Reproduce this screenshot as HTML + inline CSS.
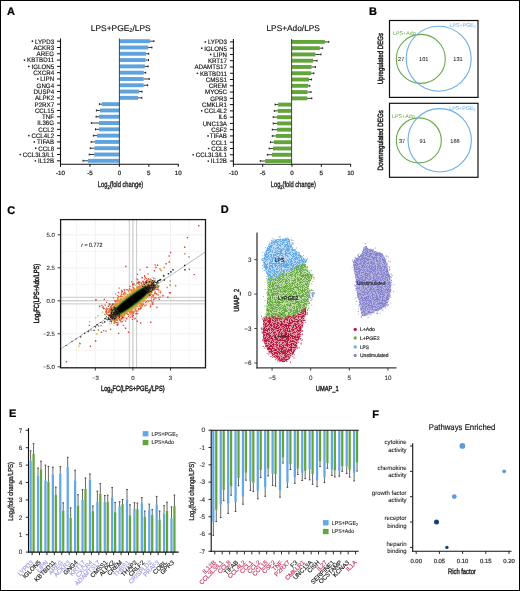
<!DOCTYPE html>
<html><head><meta charset="utf-8"><style>
html,body{margin:0;padding:0;background:#fff;}
svg{display:block;will-change:transform;}
text{font-family:"Liberation Sans", sans-serif;text-rendering:geometricPrecision;}
</style></head><body>
<svg width="520" height="591" viewBox="0 0 520 591">
<defs>
<filter id="soft" x="-20%" y="-20%" width="140%" height="140%"><feGaussianBlur stdDeviation="0.6"/></filter>
<filter id="speck" x="-5%" y="-5%" width="110%" height="110%"><feTurbulence type="fractalNoise" baseFrequency="1.6" numOctaves="1" seed="3" result="n"/><feColorMatrix in="n" type="matrix" values="0 0 0 0 0  0 0 0 0 0  0 0 0 0 0  0 0 0 -10 5.6" result="m"/><feComposite in="SourceGraphic" in2="m" operator="in"/></filter>
</defs>
<rect x="0" y="0" width="520" height="591" fill="#fff"/>
<text x="7.00" y="14.60" font-size="11" stroke="#000" stroke-width="0.22" font-weight="bold">A</text>
<text x="369.00" y="14.80" font-size="11" stroke="#000" stroke-width="0.22" font-weight="bold">B</text>
<text x="7.20" y="213.70" font-size="11" stroke="#000" stroke-width="0.22" font-weight="bold">C</text>
<text x="220.80" y="213.20" font-size="11" stroke="#000" stroke-width="0.22" font-weight="bold">D</text>
<text x="9.10" y="416.90" font-size="11" stroke="#000" stroke-width="0.22" font-weight="bold">E</text>
<text x="372.20" y="417.80" font-size="11" stroke="#000" stroke-width="0.22" font-weight="bold">F</text>
<text x="90.8" y="30.6" font-size="8.4" textLength="59.9" lengthAdjust="spacingAndGlyphs" fill="#111" stroke="#111" stroke-width="0.15">LPS+PGE<tspan font-size="5.5" dy="1.8">2</tspan><tspan dy="-1.8">/LPS</tspan></text>
<rect x="119.40" y="39.25" width="30.50" height="3.90" fill="#5ea3dd"/>
<line x1="149.90" y1="41.20" x2="153.90" y2="41.20" stroke="#222" stroke-width="0.9"/>
<line x1="153.90" y1="40.20" x2="153.90" y2="42.20" stroke="#222" stroke-width="1.0"/>
<rect x="119.40" y="45.55" width="28.80" height="3.90" fill="#5ea3dd"/>
<line x1="148.20" y1="47.50" x2="151.90" y2="47.50" stroke="#222" stroke-width="0.9"/>
<line x1="151.90" y1="46.50" x2="151.90" y2="48.50" stroke="#222" stroke-width="1.0"/>
<rect x="119.40" y="51.84" width="26.50" height="3.90" fill="#5ea3dd"/>
<line x1="145.90" y1="53.79" x2="148.70" y2="53.79" stroke="#222" stroke-width="0.9"/>
<line x1="148.70" y1="52.79" x2="148.70" y2="54.79" stroke="#222" stroke-width="1.0"/>
<rect x="119.40" y="58.13" width="26.10" height="3.90" fill="#5ea3dd"/>
<line x1="145.50" y1="60.09" x2="148.50" y2="60.09" stroke="#222" stroke-width="0.9"/>
<line x1="148.50" y1="59.09" x2="148.50" y2="61.09" stroke="#222" stroke-width="1.0"/>
<rect x="119.40" y="64.43" width="25.50" height="3.90" fill="#5ea3dd"/>
<line x1="144.90" y1="66.38" x2="148.10" y2="66.38" stroke="#222" stroke-width="0.9"/>
<line x1="148.10" y1="65.38" x2="148.10" y2="67.38" stroke="#222" stroke-width="1.0"/>
<rect x="119.40" y="70.73" width="24.40" height="3.90" fill="#5ea3dd"/>
<line x1="143.80" y1="72.68" x2="145.80" y2="72.68" stroke="#222" stroke-width="0.9"/>
<line x1="145.80" y1="71.68" x2="145.80" y2="73.68" stroke="#222" stroke-width="1.0"/>
<rect x="119.40" y="77.02" width="24.20" height="3.90" fill="#5ea3dd"/>
<line x1="143.60" y1="78.97" x2="149.20" y2="78.97" stroke="#222" stroke-width="0.9"/>
<line x1="149.20" y1="77.97" x2="149.20" y2="79.97" stroke="#222" stroke-width="1.0"/>
<rect x="119.40" y="83.31" width="24.20" height="3.90" fill="#5ea3dd"/>
<line x1="143.60" y1="85.27" x2="147.70" y2="85.27" stroke="#222" stroke-width="0.9"/>
<line x1="147.70" y1="84.27" x2="147.70" y2="86.27" stroke="#222" stroke-width="1.0"/>
<rect x="119.40" y="89.61" width="19.70" height="3.90" fill="#5ea3dd"/>
<line x1="139.10" y1="91.56" x2="142.00" y2="91.56" stroke="#222" stroke-width="0.9"/>
<line x1="142.00" y1="90.56" x2="142.00" y2="92.56" stroke="#222" stroke-width="1.0"/>
<rect x="119.40" y="95.91" width="18.60" height="3.90" fill="#5ea3dd"/>
<line x1="138.00" y1="97.86" x2="141.80" y2="97.86" stroke="#222" stroke-width="0.9"/>
<line x1="141.80" y1="96.86" x2="141.80" y2="98.86" stroke="#222" stroke-width="1.0"/>
<rect x="101.80" y="102.20" width="17.60" height="3.90" fill="#5ea3dd"/>
<line x1="101.80" y1="104.15" x2="99.40" y2="104.15" stroke="#222" stroke-width="0.9"/>
<line x1="99.40" y1="103.15" x2="99.40" y2="105.15" stroke="#222" stroke-width="1.0"/>
<rect x="100.00" y="108.50" width="19.40" height="3.90" fill="#5ea3dd"/>
<line x1="100.00" y1="110.45" x2="96.40" y2="110.45" stroke="#222" stroke-width="0.9"/>
<line x1="96.40" y1="109.45" x2="96.40" y2="111.45" stroke="#222" stroke-width="1.0"/>
<rect x="99.00" y="114.79" width="20.40" height="3.90" fill="#5ea3dd"/>
<line x1="99.00" y1="116.74" x2="96.10" y2="116.74" stroke="#222" stroke-width="0.9"/>
<line x1="96.10" y1="115.74" x2="96.10" y2="117.74" stroke="#222" stroke-width="1.0"/>
<rect x="99.00" y="121.08" width="20.40" height="3.90" fill="#5ea3dd"/>
<line x1="99.00" y1="123.03" x2="91.40" y2="123.03" stroke="#222" stroke-width="0.9"/>
<line x1="91.40" y1="122.03" x2="91.40" y2="124.03" stroke="#222" stroke-width="1.0"/>
<rect x="99.00" y="127.38" width="20.40" height="3.90" fill="#5ea3dd"/>
<line x1="99.00" y1="129.33" x2="95.50" y2="129.33" stroke="#222" stroke-width="0.9"/>
<line x1="95.50" y1="128.33" x2="95.50" y2="130.33" stroke="#222" stroke-width="1.0"/>
<rect x="97.00" y="133.68" width="22.40" height="3.90" fill="#5ea3dd"/>
<line x1="97.00" y1="135.62" x2="93.40" y2="135.62" stroke="#222" stroke-width="0.9"/>
<line x1="93.40" y1="134.62" x2="93.40" y2="136.62" stroke="#222" stroke-width="1.0"/>
<rect x="95.10" y="139.97" width="24.30" height="3.90" fill="#5ea3dd"/>
<line x1="95.10" y1="141.92" x2="91.20" y2="141.92" stroke="#222" stroke-width="0.9"/>
<line x1="91.20" y1="140.92" x2="91.20" y2="142.92" stroke="#222" stroke-width="1.0"/>
<rect x="94.40" y="146.27" width="25.00" height="3.90" fill="#5ea3dd"/>
<line x1="94.40" y1="148.22" x2="90.30" y2="148.22" stroke="#222" stroke-width="0.9"/>
<line x1="90.30" y1="147.22" x2="90.30" y2="149.22" stroke="#222" stroke-width="1.0"/>
<rect x="94.20" y="152.56" width="25.20" height="3.90" fill="#5ea3dd"/>
<line x1="94.20" y1="154.51" x2="89.20" y2="154.51" stroke="#222" stroke-width="0.9"/>
<line x1="89.20" y1="153.51" x2="89.20" y2="155.51" stroke="#222" stroke-width="1.0"/>
<rect x="88.00" y="158.86" width="31.40" height="3.90" fill="#5ea3dd"/>
<line x1="88.00" y1="160.81" x2="83.00" y2="160.81" stroke="#222" stroke-width="0.9"/>
<line x1="83.00" y1="159.81" x2="83.00" y2="161.81" stroke="#222" stroke-width="1.0"/>
<line x1="119.40" y1="38.50" x2="119.40" y2="164.20" stroke="#333" stroke-width="0.9"/>
<line x1="60.50" y1="38.50" x2="60.50" y2="164.70" stroke="#111" stroke-width="1.1"/>
<line x1="57.00" y1="41.20" x2="60.50" y2="41.20" stroke="#111" stroke-width="1.0"/>
<line x1="57.00" y1="47.50" x2="60.50" y2="47.50" stroke="#111" stroke-width="1.0"/>
<line x1="57.00" y1="53.79" x2="60.50" y2="53.79" stroke="#111" stroke-width="1.0"/>
<line x1="57.00" y1="60.09" x2="60.50" y2="60.09" stroke="#111" stroke-width="1.0"/>
<line x1="57.00" y1="66.38" x2="60.50" y2="66.38" stroke="#111" stroke-width="1.0"/>
<line x1="57.00" y1="72.68" x2="60.50" y2="72.68" stroke="#111" stroke-width="1.0"/>
<line x1="57.00" y1="78.97" x2="60.50" y2="78.97" stroke="#111" stroke-width="1.0"/>
<line x1="57.00" y1="85.27" x2="60.50" y2="85.27" stroke="#111" stroke-width="1.0"/>
<line x1="57.00" y1="91.56" x2="60.50" y2="91.56" stroke="#111" stroke-width="1.0"/>
<line x1="57.00" y1="97.86" x2="60.50" y2="97.86" stroke="#111" stroke-width="1.0"/>
<line x1="57.00" y1="104.15" x2="60.50" y2="104.15" stroke="#111" stroke-width="1.0"/>
<line x1="57.00" y1="110.45" x2="60.50" y2="110.45" stroke="#111" stroke-width="1.0"/>
<line x1="57.00" y1="116.74" x2="60.50" y2="116.74" stroke="#111" stroke-width="1.0"/>
<line x1="57.00" y1="123.03" x2="60.50" y2="123.03" stroke="#111" stroke-width="1.0"/>
<line x1="57.00" y1="129.33" x2="60.50" y2="129.33" stroke="#111" stroke-width="1.0"/>
<line x1="57.00" y1="135.62" x2="60.50" y2="135.62" stroke="#111" stroke-width="1.0"/>
<line x1="57.00" y1="141.92" x2="60.50" y2="141.92" stroke="#111" stroke-width="1.0"/>
<line x1="57.00" y1="148.22" x2="60.50" y2="148.22" stroke="#111" stroke-width="1.0"/>
<line x1="57.00" y1="154.51" x2="60.50" y2="154.51" stroke="#111" stroke-width="1.0"/>
<line x1="57.00" y1="160.81" x2="60.50" y2="160.81" stroke="#111" stroke-width="1.0"/>
<line x1="60.50" y1="164.20" x2="178.80" y2="164.20" stroke="#111" stroke-width="1.1"/>
<line x1="60.50" y1="164.20" x2="60.50" y2="166.80" stroke="#111" stroke-width="1.0"/>
<text x="60.50" y="175.20" font-size="6.2" stroke="#222" stroke-width="0.22" text-anchor="middle" fill="#222">-10</text>
<line x1="89.95" y1="164.20" x2="89.95" y2="166.80" stroke="#111" stroke-width="1.0"/>
<text x="89.95" y="175.20" font-size="6.2" stroke="#222" stroke-width="0.22" text-anchor="middle" fill="#222">-5</text>
<line x1="119.40" y1="164.20" x2="119.40" y2="166.80" stroke="#111" stroke-width="1.0"/>
<text x="119.40" y="175.20" font-size="6.2" stroke="#222" stroke-width="0.22" text-anchor="middle" fill="#222">0</text>
<line x1="148.85" y1="164.20" x2="148.85" y2="166.80" stroke="#111" stroke-width="1.0"/>
<text x="148.85" y="175.20" font-size="6.2" stroke="#222" stroke-width="0.22" text-anchor="middle" fill="#222">5</text>
<line x1="178.30" y1="164.20" x2="178.30" y2="166.80" stroke="#111" stroke-width="1.0"/>
<text x="178.30" y="175.20" font-size="6.2" stroke="#222" stroke-width="0.22" text-anchor="middle" fill="#222">10</text>
<text x="54.10" y="43.55" font-size="6.5" stroke="#111" stroke-width="0.14" text-anchor="end" fill="#111" textLength="19.11" lengthAdjust="spacingAndGlyphs">LYPD3</text>
<circle cx="32.39" cy="41.20" r="0.85" fill="#222"/>
<text x="54.10" y="49.85" font-size="6.5" stroke="#111" stroke-width="0.14" text-anchor="end" fill="#111" textLength="20.59" lengthAdjust="spacingAndGlyphs">ACKR3</text>
<text x="54.10" y="56.14" font-size="6.5" stroke="#111" stroke-width="0.14" text-anchor="end" fill="#111" textLength="17.50" lengthAdjust="spacingAndGlyphs">AREG</text>
<text x="54.10" y="62.44" font-size="6.5" stroke="#111" stroke-width="0.14" text-anchor="end" fill="#111" textLength="27.00" lengthAdjust="spacingAndGlyphs">KBTBD11</text>
<circle cx="24.50" cy="60.09" r="0.85" fill="#222"/>
<text x="54.10" y="68.73" font-size="6.5" stroke="#111" stroke-width="0.14" text-anchor="end" fill="#111" textLength="22.65" lengthAdjust="spacingAndGlyphs">IGLON5</text>
<circle cx="28.85" cy="66.38" r="0.85" fill="#222"/>
<text x="54.10" y="75.03" font-size="6.5" stroke="#111" stroke-width="0.14" text-anchor="end" fill="#111" textLength="20.93" lengthAdjust="spacingAndGlyphs">CXCR4</text>
<text x="54.10" y="81.32" font-size="6.5" stroke="#111" stroke-width="0.14" text-anchor="end" fill="#111" textLength="13.73" lengthAdjust="spacingAndGlyphs">LIPN</text>
<circle cx="37.77" cy="78.97" r="0.85" fill="#222"/>
<text x="54.10" y="87.61" font-size="6.5" stroke="#111" stroke-width="0.14" text-anchor="end" fill="#111" textLength="17.50" lengthAdjust="spacingAndGlyphs">GNG4</text>
<text x="54.10" y="93.91" font-size="6.5" stroke="#111" stroke-width="0.14" text-anchor="end" fill="#111" textLength="20.59" lengthAdjust="spacingAndGlyphs">DUSP4</text>
<text x="54.10" y="100.20" font-size="6.5" stroke="#111" stroke-width="0.14" text-anchor="end" fill="#111" textLength="19.22" lengthAdjust="spacingAndGlyphs">ALPK2</text>
<text x="54.10" y="106.50" font-size="6.5" stroke="#111" stroke-width="0.14" text-anchor="end" fill="#111" textLength="19.57" lengthAdjust="spacingAndGlyphs">P2RX7</text>
<text x="54.10" y="112.80" font-size="6.5" stroke="#111" stroke-width="0.14" text-anchor="end" fill="#111" textLength="19.22" lengthAdjust="spacingAndGlyphs">CCL15</text>
<text x="54.10" y="119.09" font-size="6.5" stroke="#111" stroke-width="0.14" text-anchor="end" fill="#111" textLength="12.00" lengthAdjust="spacingAndGlyphs">TNF</text>
<text x="54.10" y="125.38" font-size="6.5" stroke="#111" stroke-width="0.14" text-anchor="end" fill="#111" textLength="16.82" lengthAdjust="spacingAndGlyphs">IL36G</text>
<text x="54.10" y="131.68" font-size="6.5" stroke="#111" stroke-width="0.14" text-anchor="end" fill="#111" textLength="15.79" lengthAdjust="spacingAndGlyphs">CCL2</text>
<text x="54.10" y="137.97" font-size="6.5" stroke="#111" stroke-width="0.14" text-anchor="end" fill="#111" textLength="22.65" lengthAdjust="spacingAndGlyphs">CCL4L2</text>
<circle cx="28.85" cy="135.62" r="0.85" fill="#222"/>
<text x="54.10" y="144.27" font-size="6.5" stroke="#111" stroke-width="0.14" text-anchor="end" fill="#111" textLength="17.16" lengthAdjust="spacingAndGlyphs">TIFAB</text>
<circle cx="34.34" cy="141.92" r="0.85" fill="#222"/>
<text x="54.10" y="150.56" font-size="6.5" stroke="#111" stroke-width="0.14" text-anchor="end" fill="#111" textLength="15.79" lengthAdjust="spacingAndGlyphs">CCL8</text>
<circle cx="35.71" cy="148.22" r="0.85" fill="#222"/>
<text x="54.10" y="156.86" font-size="6.5" stroke="#111" stroke-width="0.14" text-anchor="end" fill="#111" textLength="31.24" lengthAdjust="spacingAndGlyphs">CCL3L3/L1</text>
<circle cx="20.26" cy="154.51" r="0.85" fill="#222"/>
<text x="54.10" y="163.16" font-size="6.5" stroke="#111" stroke-width="0.14" text-anchor="end" fill="#111" textLength="16.14" lengthAdjust="spacingAndGlyphs">IL12B</text>
<circle cx="35.36" cy="160.81" r="0.85" fill="#222"/>
<text x="97.80" y="186.9" font-size="8" stroke="#222" stroke-width="0.35" textLength="45.50" lengthAdjust="spacingAndGlyphs" fill="#222">Log<tspan font-size="5.5" dy="1.6">2</tspan><tspan dy="-1.6">(fold change)</tspan></text>
<text x="266.5" y="30.6" font-size="8.4" textLength="53.4" lengthAdjust="spacingAndGlyphs" fill="#111" stroke="#111" stroke-width="0.15">LPS+Ado/LPS</text>
<rect x="291.60" y="39.95" width="33.30" height="3.90" fill="#62a63b"/>
<line x1="324.90" y1="41.90" x2="328.80" y2="41.90" stroke="#222" stroke-width="0.9"/>
<line x1="328.80" y1="40.90" x2="328.80" y2="42.90" stroke="#222" stroke-width="1.0"/>
<rect x="291.60" y="46.22" width="28.20" height="3.90" fill="#62a63b"/>
<line x1="319.80" y1="48.17" x2="322.70" y2="48.17" stroke="#222" stroke-width="0.9"/>
<line x1="322.70" y1="47.17" x2="322.70" y2="49.17" stroke="#222" stroke-width="1.0"/>
<rect x="291.60" y="52.49" width="23.80" height="3.90" fill="#62a63b"/>
<line x1="315.40" y1="54.44" x2="321.00" y2="54.44" stroke="#222" stroke-width="0.9"/>
<line x1="321.00" y1="53.44" x2="321.00" y2="55.44" stroke="#222" stroke-width="1.0"/>
<rect x="291.60" y="58.76" width="21.50" height="3.90" fill="#62a63b"/>
<line x1="313.10" y1="60.71" x2="317.00" y2="60.71" stroke="#222" stroke-width="0.9"/>
<line x1="317.00" y1="59.71" x2="317.00" y2="61.71" stroke="#222" stroke-width="1.0"/>
<rect x="291.60" y="65.03" width="20.00" height="3.90" fill="#62a63b"/>
<line x1="311.60" y1="66.98" x2="315.40" y2="66.98" stroke="#222" stroke-width="0.9"/>
<line x1="315.40" y1="65.98" x2="315.40" y2="67.98" stroke="#222" stroke-width="1.0"/>
<rect x="291.60" y="71.30" width="19.60" height="3.90" fill="#62a63b"/>
<line x1="311.20" y1="73.25" x2="313.80" y2="73.25" stroke="#222" stroke-width="0.9"/>
<line x1="313.80" y1="72.25" x2="313.80" y2="74.25" stroke="#222" stroke-width="1.0"/>
<rect x="291.60" y="77.57" width="17.40" height="3.90" fill="#62a63b"/>
<line x1="309.00" y1="79.52" x2="311.60" y2="79.52" stroke="#222" stroke-width="0.9"/>
<line x1="311.60" y1="78.52" x2="311.60" y2="80.52" stroke="#222" stroke-width="1.0"/>
<rect x="291.60" y="83.84" width="16.50" height="3.90" fill="#62a63b"/>
<line x1="308.10" y1="85.79" x2="309.80" y2="85.79" stroke="#222" stroke-width="0.9"/>
<line x1="309.80" y1="84.79" x2="309.80" y2="86.79" stroke="#222" stroke-width="1.0"/>
<rect x="291.60" y="90.11" width="16.00" height="3.90" fill="#62a63b"/>
<line x1="307.60" y1="92.06" x2="311.00" y2="92.06" stroke="#222" stroke-width="0.9"/>
<line x1="311.00" y1="91.06" x2="311.00" y2="93.06" stroke="#222" stroke-width="1.0"/>
<rect x="291.60" y="96.38" width="15.70" height="3.90" fill="#62a63b"/>
<line x1="307.30" y1="98.33" x2="311.80" y2="98.33" stroke="#222" stroke-width="0.9"/>
<line x1="311.80" y1="97.33" x2="311.80" y2="99.33" stroke="#222" stroke-width="1.0"/>
<rect x="278.10" y="102.65" width="13.50" height="3.90" fill="#62a63b"/>
<line x1="278.10" y1="104.60" x2="275.10" y2="104.60" stroke="#222" stroke-width="0.9"/>
<line x1="275.10" y1="103.60" x2="275.10" y2="105.60" stroke="#222" stroke-width="1.0"/>
<rect x="277.60" y="108.92" width="14.00" height="3.90" fill="#62a63b"/>
<line x1="277.60" y1="110.87" x2="274.30" y2="110.87" stroke="#222" stroke-width="0.9"/>
<line x1="274.30" y1="109.87" x2="274.30" y2="111.87" stroke="#222" stroke-width="1.0"/>
<rect x="277.10" y="115.19" width="14.50" height="3.90" fill="#62a63b"/>
<line x1="277.10" y1="117.14" x2="273.20" y2="117.14" stroke="#222" stroke-width="0.9"/>
<line x1="273.20" y1="116.14" x2="273.20" y2="118.14" stroke="#222" stroke-width="1.0"/>
<rect x="277.10" y="121.46" width="14.50" height="3.90" fill="#62a63b"/>
<line x1="277.10" y1="123.41" x2="273.20" y2="123.41" stroke="#222" stroke-width="0.9"/>
<line x1="273.20" y1="122.41" x2="273.20" y2="124.41" stroke="#222" stroke-width="1.0"/>
<rect x="277.00" y="127.73" width="14.60" height="3.90" fill="#62a63b"/>
<line x1="277.00" y1="129.68" x2="272.30" y2="129.68" stroke="#222" stroke-width="0.9"/>
<line x1="272.30" y1="128.68" x2="272.30" y2="130.68" stroke="#222" stroke-width="1.0"/>
<rect x="275.90" y="134.00" width="15.70" height="3.90" fill="#62a63b"/>
<line x1="275.90" y1="135.95" x2="272.30" y2="135.95" stroke="#222" stroke-width="0.9"/>
<line x1="272.30" y1="134.95" x2="272.30" y2="136.95" stroke="#222" stroke-width="1.0"/>
<rect x="274.00" y="140.27" width="17.60" height="3.90" fill="#62a63b"/>
<line x1="274.00" y1="142.22" x2="270.40" y2="142.22" stroke="#222" stroke-width="0.9"/>
<line x1="270.40" y1="141.22" x2="270.40" y2="143.22" stroke="#222" stroke-width="1.0"/>
<rect x="272.90" y="146.54" width="18.70" height="3.90" fill="#62a63b"/>
<line x1="272.90" y1="148.49" x2="269.20" y2="148.49" stroke="#222" stroke-width="0.9"/>
<line x1="269.20" y1="147.49" x2="269.20" y2="149.49" stroke="#222" stroke-width="1.0"/>
<rect x="272.00" y="152.81" width="19.60" height="3.90" fill="#62a63b"/>
<line x1="272.00" y1="154.76" x2="267.30" y2="154.76" stroke="#222" stroke-width="0.9"/>
<line x1="267.30" y1="153.76" x2="267.30" y2="155.76" stroke="#222" stroke-width="1.0"/>
<rect x="265.10" y="159.08" width="26.50" height="3.90" fill="#62a63b"/>
<line x1="265.10" y1="161.03" x2="260.30" y2="161.03" stroke="#222" stroke-width="0.9"/>
<line x1="260.30" y1="160.03" x2="260.30" y2="162.03" stroke="#222" stroke-width="1.0"/>
<line x1="291.60" y1="39.00" x2="291.60" y2="164.20" stroke="#333" stroke-width="0.9"/>
<line x1="233.40" y1="39.00" x2="233.40" y2="164.70" stroke="#111" stroke-width="1.1"/>
<line x1="229.90" y1="41.90" x2="233.40" y2="41.90" stroke="#111" stroke-width="1.0"/>
<line x1="229.90" y1="48.17" x2="233.40" y2="48.17" stroke="#111" stroke-width="1.0"/>
<line x1="229.90" y1="54.44" x2="233.40" y2="54.44" stroke="#111" stroke-width="1.0"/>
<line x1="229.90" y1="60.71" x2="233.40" y2="60.71" stroke="#111" stroke-width="1.0"/>
<line x1="229.90" y1="66.98" x2="233.40" y2="66.98" stroke="#111" stroke-width="1.0"/>
<line x1="229.90" y1="73.25" x2="233.40" y2="73.25" stroke="#111" stroke-width="1.0"/>
<line x1="229.90" y1="79.52" x2="233.40" y2="79.52" stroke="#111" stroke-width="1.0"/>
<line x1="229.90" y1="85.79" x2="233.40" y2="85.79" stroke="#111" stroke-width="1.0"/>
<line x1="229.90" y1="92.06" x2="233.40" y2="92.06" stroke="#111" stroke-width="1.0"/>
<line x1="229.90" y1="98.33" x2="233.40" y2="98.33" stroke="#111" stroke-width="1.0"/>
<line x1="229.90" y1="104.60" x2="233.40" y2="104.60" stroke="#111" stroke-width="1.0"/>
<line x1="229.90" y1="110.87" x2="233.40" y2="110.87" stroke="#111" stroke-width="1.0"/>
<line x1="229.90" y1="117.14" x2="233.40" y2="117.14" stroke="#111" stroke-width="1.0"/>
<line x1="229.90" y1="123.41" x2="233.40" y2="123.41" stroke="#111" stroke-width="1.0"/>
<line x1="229.90" y1="129.68" x2="233.40" y2="129.68" stroke="#111" stroke-width="1.0"/>
<line x1="229.90" y1="135.95" x2="233.40" y2="135.95" stroke="#111" stroke-width="1.0"/>
<line x1="229.90" y1="142.22" x2="233.40" y2="142.22" stroke="#111" stroke-width="1.0"/>
<line x1="229.90" y1="148.49" x2="233.40" y2="148.49" stroke="#111" stroke-width="1.0"/>
<line x1="229.90" y1="154.76" x2="233.40" y2="154.76" stroke="#111" stroke-width="1.0"/>
<line x1="229.90" y1="161.03" x2="233.40" y2="161.03" stroke="#111" stroke-width="1.0"/>
<line x1="233.40" y1="164.20" x2="351.10" y2="164.20" stroke="#111" stroke-width="1.1"/>
<line x1="233.40" y1="164.20" x2="233.40" y2="166.80" stroke="#111" stroke-width="1.0"/>
<text x="233.40" y="175.20" font-size="6.2" stroke="#222" stroke-width="0.22" text-anchor="middle" fill="#222">-10</text>
<line x1="262.70" y1="164.20" x2="262.70" y2="166.80" stroke="#111" stroke-width="1.0"/>
<text x="262.70" y="175.20" font-size="6.2" stroke="#222" stroke-width="0.22" text-anchor="middle" fill="#222">-5</text>
<line x1="292.00" y1="164.20" x2="292.00" y2="166.80" stroke="#111" stroke-width="1.0"/>
<text x="292.00" y="175.20" font-size="6.2" stroke="#222" stroke-width="0.22" text-anchor="middle" fill="#222">0</text>
<line x1="321.30" y1="164.20" x2="321.30" y2="166.80" stroke="#111" stroke-width="1.0"/>
<text x="321.30" y="175.20" font-size="6.2" stroke="#222" stroke-width="0.22" text-anchor="middle" fill="#222">5</text>
<line x1="350.60" y1="164.20" x2="350.60" y2="166.80" stroke="#111" stroke-width="1.0"/>
<text x="350.60" y="175.20" font-size="6.2" stroke="#222" stroke-width="0.22" text-anchor="middle" fill="#222">10</text>
<text x="227.00" y="44.25" font-size="6.5" stroke="#111" stroke-width="0.14" text-anchor="end" fill="#111" textLength="19.11" lengthAdjust="spacingAndGlyphs">LYPD3</text>
<circle cx="205.29" cy="41.90" r="0.85" fill="#222"/>
<text x="227.00" y="50.52" font-size="6.5" stroke="#111" stroke-width="0.14" text-anchor="end" fill="#111" textLength="22.65" lengthAdjust="spacingAndGlyphs">IGLON5</text>
<circle cx="201.75" cy="48.17" r="0.85" fill="#222"/>
<text x="227.00" y="56.79" font-size="6.5" stroke="#111" stroke-width="0.14" text-anchor="end" fill="#111" textLength="13.73" lengthAdjust="spacingAndGlyphs">LIPN</text>
<circle cx="210.67" cy="54.44" r="0.85" fill="#222"/>
<text x="227.00" y="63.06" font-size="6.5" stroke="#111" stroke-width="0.14" text-anchor="end" fill="#111" textLength="19.11" lengthAdjust="spacingAndGlyphs">KRT17</text>
<text x="227.00" y="69.33" font-size="6.5" stroke="#111" stroke-width="0.14" text-anchor="end" fill="#111" textLength="32.60" lengthAdjust="spacingAndGlyphs">ADAMTS17</text>
<text x="227.00" y="75.60" font-size="6.5" stroke="#111" stroke-width="0.14" text-anchor="end" fill="#111" textLength="27.00" lengthAdjust="spacingAndGlyphs">KBTBD11</text>
<circle cx="197.40" cy="73.25" r="0.85" fill="#222"/>
<text x="227.00" y="81.87" font-size="6.5" stroke="#111" stroke-width="0.14" text-anchor="end" fill="#111" textLength="21.27" lengthAdjust="spacingAndGlyphs">CMSS1</text>
<text x="227.00" y="88.14" font-size="6.5" stroke="#111" stroke-width="0.14" text-anchor="end" fill="#111" textLength="18.18" lengthAdjust="spacingAndGlyphs">CREM</text>
<text x="227.00" y="94.41" font-size="6.5" stroke="#111" stroke-width="0.14" text-anchor="end" fill="#111" textLength="21.96" lengthAdjust="spacingAndGlyphs">MYO5C</text>
<text x="227.00" y="100.68" font-size="6.5" stroke="#111" stroke-width="0.14" text-anchor="end" fill="#111" textLength="16.82" lengthAdjust="spacingAndGlyphs">GPR3</text>
<text x="227.00" y="106.95" font-size="6.5" stroke="#111" stroke-width="0.14" text-anchor="end" fill="#111" textLength="25.05" lengthAdjust="spacingAndGlyphs">CMKLR1</text>
<text x="227.00" y="113.22" font-size="6.5" stroke="#111" stroke-width="0.14" text-anchor="end" fill="#111" textLength="22.65" lengthAdjust="spacingAndGlyphs">CCL4L2</text>
<circle cx="201.75" cy="110.87" r="0.85" fill="#222"/>
<text x="227.00" y="119.49" font-size="6.5" stroke="#111" stroke-width="0.14" text-anchor="end" fill="#111" textLength="8.58" lengthAdjust="spacingAndGlyphs">IL6</text>
<text x="227.00" y="125.76" font-size="6.5" stroke="#111" stroke-width="0.14" text-anchor="end" fill="#111" textLength="24.37" lengthAdjust="spacingAndGlyphs">UNC13A</text>
<text x="227.00" y="132.03" font-size="6.5" stroke="#111" stroke-width="0.14" text-anchor="end" fill="#111" textLength="15.78" lengthAdjust="spacingAndGlyphs">CSF2</text>
<text x="227.00" y="138.30" font-size="6.5" stroke="#111" stroke-width="0.14" text-anchor="end" fill="#111" textLength="17.16" lengthAdjust="spacingAndGlyphs">TIFAB</text>
<circle cx="208.04" cy="135.95" r="0.85" fill="#222"/>
<text x="227.00" y="144.57" font-size="6.5" stroke="#111" stroke-width="0.14" text-anchor="end" fill="#111" textLength="15.79" lengthAdjust="spacingAndGlyphs">CCL1</text>
<text x="227.00" y="150.84" font-size="6.5" stroke="#111" stroke-width="0.14" text-anchor="end" fill="#111" textLength="15.79" lengthAdjust="spacingAndGlyphs">CCL8</text>
<circle cx="208.61" cy="148.49" r="0.85" fill="#222"/>
<text x="227.00" y="157.11" font-size="6.5" stroke="#111" stroke-width="0.14" text-anchor="end" fill="#111" textLength="31.24" lengthAdjust="spacingAndGlyphs">CCL3L3/L1</text>
<circle cx="193.16" cy="154.76" r="0.85" fill="#222"/>
<text x="227.00" y="163.38" font-size="6.5" stroke="#111" stroke-width="0.14" text-anchor="end" fill="#111" textLength="16.14" lengthAdjust="spacingAndGlyphs">IL12B</text>
<circle cx="208.26" cy="161.03" r="0.85" fill="#222"/>
<text x="270.80" y="186.9" font-size="8" stroke="#222" stroke-width="0.35" textLength="45.00" lengthAdjust="spacingAndGlyphs" fill="#222">Log<tspan font-size="5.5" dy="1.6">2</tspan><tspan dy="-1.6">(fold change)</tspan></text>
<rect x="389.50" y="20.50" width="88.50" height="76.90" fill="none" stroke="#111" stroke-width="1.2"/>
<circle cx="420.80" cy="58.90" r="24.50" fill="none" stroke="#6aaa48" stroke-width="1.1"/>
<circle cx="438.70" cy="58.70" r="32.50" fill="none" stroke="#6eaee3" stroke-width="1.1"/>
<text x="401.20" y="61.40" font-size="5.6" stroke="#222" stroke-width="0.05" text-anchor="middle" fill="#222">27</text>
<text x="423.70" y="61.40" font-size="5.6" stroke="#222" stroke-width="0.05" text-anchor="middle" fill="#222">101</text>
<text x="458.00" y="61.40" font-size="5.6" stroke="#222" stroke-width="0.05" text-anchor="middle" fill="#222">131</text>
<text x="393.00" y="34.50" font-size="5.6" fill="#6aaa48" textLength="22.60" lengthAdjust="spacingAndGlyphs">LPS+Ado</text>
<text x="449.60" y="27.00" font-size="5.6" fill="#6eaee3" textLength="26.4" lengthAdjust="spacingAndGlyphs">LPS+PGE<tspan font-size="4" dy="1.3">2</tspan></text>
<text x="383.20" y="84.30" font-size="7.6" stroke="#222" stroke-width="0.45" fill="#222" textLength="51.40" lengthAdjust="spacingAndGlyphs" transform="rotate(-90 383.20 84.30)">Upregulated DEGs</text>
<rect x="389.50" y="103.30" width="88.50" height="74.00" fill="none" stroke="#111" stroke-width="1.2"/>
<circle cx="418.80" cy="140.40" r="22.50" fill="none" stroke="#6aaa48" stroke-width="1.1"/>
<circle cx="439.70" cy="140.30" r="31.70" fill="none" stroke="#6eaee3" stroke-width="1.1"/>
<text x="402.10" y="143.20" font-size="5.6" stroke="#222" stroke-width="0.05" text-anchor="middle" fill="#222">37</text>
<text x="422.70" y="143.20" font-size="5.6" stroke="#222" stroke-width="0.05" text-anchor="middle" fill="#222">91</text>
<text x="455.00" y="143.20" font-size="5.6" stroke="#222" stroke-width="0.05" text-anchor="middle" fill="#222">166</text>
<text x="392.00" y="117.80" font-size="5.6" fill="#6aaa48" textLength="22.60" lengthAdjust="spacingAndGlyphs">LPS+Ado</text>
<text x="449.20" y="109.90" font-size="5.6" fill="#6eaee3" textLength="26.4" lengthAdjust="spacingAndGlyphs">LPS+PGE<tspan font-size="4" dy="1.3">2</tspan></text>
<text x="383.20" y="170.40" font-size="7.6" stroke="#222" stroke-width="0.45" fill="#222" textLength="60.30" lengthAdjust="spacingAndGlyphs" transform="rotate(-90 383.20 170.40)">Downregulated DEGs</text>
<g>
<line x1="76.52" y1="219.60" x2="76.52" y2="367.80" stroke="#f3f3f3" stroke-width="0.8"/>
<line x1="95.31" y1="219.60" x2="95.31" y2="367.80" stroke="#ececec" stroke-width="0.8"/>
<line x1="114.11" y1="219.60" x2="114.11" y2="367.80" stroke="#f3f3f3" stroke-width="0.8"/>
<line x1="132.90" y1="219.60" x2="132.90" y2="367.80" stroke="#ececec" stroke-width="0.8"/>
<line x1="151.69" y1="219.60" x2="151.69" y2="367.80" stroke="#f3f3f3" stroke-width="0.8"/>
<line x1="170.49" y1="219.60" x2="170.49" y2="367.80" stroke="#ececec" stroke-width="0.8"/>
<line x1="189.28" y1="219.60" x2="189.28" y2="367.80" stroke="#f3f3f3" stroke-width="0.8"/>
<line x1="60.60" y1="234.80" x2="205.50" y2="234.80" stroke="#ececec" stroke-width="0.8"/>
<line x1="60.60" y1="251.30" x2="205.50" y2="251.30" stroke="#f3f3f3" stroke-width="0.8"/>
<line x1="60.60" y1="267.80" x2="205.50" y2="267.80" stroke="#ececec" stroke-width="0.8"/>
<line x1="60.60" y1="284.30" x2="205.50" y2="284.30" stroke="#f3f3f3" stroke-width="0.8"/>
<line x1="60.60" y1="300.80" x2="205.50" y2="300.80" stroke="#ececec" stroke-width="0.8"/>
<line x1="60.60" y1="317.30" x2="205.50" y2="317.30" stroke="#f3f3f3" stroke-width="0.8"/>
<line x1="60.60" y1="333.80" x2="205.50" y2="333.80" stroke="#ececec" stroke-width="0.8"/>
<line x1="60.60" y1="350.30" x2="205.50" y2="350.30" stroke="#f3f3f3" stroke-width="0.8"/>
<line x1="129.30" y1="219.60" x2="129.30" y2="367.80" stroke="#c9c9c9" stroke-width="1.0"/>
<line x1="136.60" y1="219.60" x2="136.60" y2="367.80" stroke="#c9c9c9" stroke-width="1.0"/>
<line x1="132.90" y1="219.60" x2="132.90" y2="367.80" stroke="#cfcfcf" stroke-width="1.2"/>
<line x1="60.60" y1="297.30" x2="205.50" y2="297.30" stroke="#c9c9c9" stroke-width="1.0"/>
<line x1="60.60" y1="303.90" x2="205.50" y2="303.90" stroke="#c9c9c9" stroke-width="1.0"/>
<line x1="60.60" y1="300.60" x2="205.50" y2="300.60" stroke="#cfcfcf" stroke-width="1.2"/>
</g>
<line x1="60.60" y1="349.20" x2="205.30" y2="252.00" stroke="#8a8a8a" stroke-width="0.6"/>
<path d="M118.1 300.6h1.2v1.2h-1.2zM114.9 303.4h1.2v1.2h-1.2zM129.4 311.0h1.2v1.2h-1.2zM131.2 288.7h1.2v1.2h-1.2zM117.1 299.8h1.2v1.2h-1.2zM142.8 303.3h1.2v1.2h-1.2zM119.4 315.1h1.2v1.2h-1.2zM111.9 310.0h1.2v1.2h-1.2zM149.0 284.1h1.2v1.2h-1.2zM116.6 316.2h1.2v1.2h-1.2zM130.9 290.3h1.2v1.2h-1.2zM132.9 289.6h1.2v1.2h-1.2zM122.2 315.4h1.2v1.2h-1.2zM138.2 286.4h1.2v1.2h-1.2zM141.0 283.9h1.2v1.2h-1.2zM120.2 314.7h1.2v1.2h-1.2zM139.1 305.0h1.2v1.2h-1.2zM121.3 315.1h1.2v1.2h-1.2zM119.9 299.2h1.2v1.2h-1.2zM124.8 293.5h1.2v1.2h-1.2zM117.3 315.6h1.2v1.2h-1.2zM115.4 303.3h1.2v1.2h-1.2zM113.6 315.9h1.2v1.2h-1.2zM139.2 285.2h1.2v1.2h-1.2zM116.8 302.7h1.2v1.2h-1.2zM136.6 285.5h1.2v1.2h-1.2zM119.5 316.1h1.2v1.2h-1.2zM147.9 295.0h1.2v1.2h-1.2zM143.4 300.9h1.2v1.2h-1.2zM138.1 286.3h1.2v1.2h-1.2zM140.9 285.2h1.2v1.2h-1.2zM143.3 284.1h1.2v1.2h-1.2zM139.0 286.1h1.2v1.2h-1.2zM152.1 288.4h1.2v1.2h-1.2zM136.4 287.1h1.2v1.2h-1.2zM130.7 289.6h1.2v1.2h-1.2zM119.7 299.7h1.2v1.2h-1.2zM128.7 311.1h1.2v1.2h-1.2zM117.1 300.5h1.2v1.2h-1.2zM124.1 314.6h1.2v1.2h-1.2zM147.2 295.4h1.2v1.2h-1.2zM130.8 311.1h1.2v1.2h-1.2zM145.9 284.1h1.2v1.2h-1.2zM112.0 311.7h1.2v1.2h-1.2zM110.5 311.2h1.2v1.2h-1.2zM150.6 293.7h1.2v1.2h-1.2zM130.3 311.5h1.2v1.2h-1.2zM117.0 299.7h1.2v1.2h-1.2zM120.8 295.9h1.2v1.2h-1.2zM133.0 289.2h1.2v1.2h-1.2zM111.6 308.7h1.2v1.2h-1.2zM128.4 291.0h1.2v1.2h-1.2zM111.8 312.2h1.2v1.2h-1.2zM111.9 315.4h1.2v1.2h-1.2zM129.3 311.5h1.2v1.2h-1.2zM129.8 310.6h1.2v1.2h-1.2zM149.5 283.5h1.2v1.2h-1.2zM123.9 315.0h1.2v1.2h-1.2zM111.8 312.7h1.2v1.2h-1.2zM113.5 306.1h1.2v1.2h-1.2zM111.4 308.1h1.2v1.2h-1.2z" fill="#e49a30"/>
<path d="M145.7 282.7h1.2v1.2h-1.2zM114.1 320.2h1.2v1.2h-1.2zM146.0 281.7h1.2v1.2h-1.2zM143.0 282.7h1.2v1.2h-1.2zM154.6 291.3h1.2v1.2h-1.2zM152.7 281.7h1.2v1.2h-1.2zM154.3 287.9h1.2v1.2h-1.2zM141.8 304.8h1.2v1.2h-1.2zM151.3 295.8h1.2v1.2h-1.2zM140.7 282.9h1.2v1.2h-1.2zM132.6 286.8h1.2v1.2h-1.2zM154.3 292.2h1.2v1.2h-1.2zM142.5 281.1h1.2v1.2h-1.2zM152.7 289.2h1.2v1.2h-1.2zM145.3 280.8h1.2v1.2h-1.2zM117.4 318.2h1.2v1.2h-1.2zM112.8 319.0h1.2v1.2h-1.2zM127.6 290.3h1.2v1.2h-1.2zM109.4 311.8h1.2v1.2h-1.2zM116.6 319.8h1.2v1.2h-1.2zM143.8 282.4h1.2v1.2h-1.2zM114.2 300.0h1.2v1.2h-1.2zM108.9 314.5h1.2v1.2h-1.2zM153.3 282.6h1.2v1.2h-1.2zM148.2 300.2h1.2v1.2h-1.2zM156.1 286.3h1.2v1.2h-1.2zM116.3 319.6h1.2v1.2h-1.2zM139.7 307.8h1.2v1.2h-1.2zM110.2 307.0h1.2v1.2h-1.2zM143.2 281.6h1.2v1.2h-1.2zM113.4 319.4h1.2v1.2h-1.2zM132.7 312.9h1.2v1.2h-1.2zM107.1 314.1h1.2v1.2h-1.2zM114.5 300.7h1.2v1.2h-1.2zM133.3 311.3h1.2v1.2h-1.2zM152.1 294.5h1.2v1.2h-1.2zM153.6 287.1h1.2v1.2h-1.2zM119.2 319.2h1.2v1.2h-1.2zM138.2 283.2h1.2v1.2h-1.2zM110.5 317.7h1.2v1.2h-1.2zM111.5 304.5h1.2v1.2h-1.2zM127.7 314.0h1.2v1.2h-1.2zM144.9 281.8h1.2v1.2h-1.2zM155.7 288.9h1.2v1.2h-1.2zM111.6 319.8h1.2v1.2h-1.2zM138.1 309.0h1.2v1.2h-1.2zM111.8 317.8h1.2v1.2h-1.2zM111.1 305.1h1.2v1.2h-1.2zM107.9 310.6h1.2v1.2h-1.2zM108.5 308.3h1.2v1.2h-1.2zM152.0 285.1h1.2v1.2h-1.2zM133.3 311.1h1.2v1.2h-1.2zM132.1 312.5h1.2v1.2h-1.2zM118.2 295.9h1.2v1.2h-1.2zM112.8 304.4h1.2v1.2h-1.2zM117.8 318.0h1.2v1.2h-1.2zM118.5 318.4h1.2v1.2h-1.2z" fill="#e24a30"/>
<path d="M105.7 311.1h1.2v1.2h-1.2zM132.8 314.7h1.2v1.2h-1.2zM106.0 301.7h1.2v1.2h-1.2zM157.6 288.4h1.2v1.2h-1.2zM153.0 294.8h1.2v1.2h-1.2zM146.0 279.7h1.2v1.2h-1.2zM106.4 312.4h1.2v1.2h-1.2zM102.8 306.6h1.2v1.2h-1.2zM114.0 322.4h1.2v1.2h-1.2zM132.1 283.2h1.2v1.2h-1.2zM114.8 321.6h1.2v1.2h-1.2zM152.2 303.7h1.2v1.2h-1.2zM131.5 314.5h1.2v1.2h-1.2zM141.4 277.1h1.2v1.2h-1.2zM134.6 317.7h1.2v1.2h-1.2zM120.4 321.2h1.2v1.2h-1.2zM117.2 321.8h1.2v1.2h-1.2zM116.5 323.6h1.2v1.2h-1.2zM115.7 321.9h1.2v1.2h-1.2zM138.6 281.5h1.2v1.2h-1.2zM106.8 308.5h1.2v1.2h-1.2zM105.4 311.1h1.2v1.2h-1.2zM125.0 320.6h1.2v1.2h-1.2zM147.3 279.2h1.2v1.2h-1.2zM129.4 285.8h1.2v1.2h-1.2zM101.3 304.7h1.2v1.2h-1.2zM159.6 296.4h1.2v1.2h-1.2zM117.0 324.6h1.2v1.2h-1.2zM158.7 298.8h1.2v1.2h-1.2zM135.3 313.3h1.2v1.2h-1.2zM157.6 294.2h1.2v1.2h-1.2zM135.6 312.5h1.2v1.2h-1.2zM120.9 292.3h1.2v1.2h-1.2zM144.0 275.1h1.2v1.2h-1.2zM132.3 316.5h1.2v1.2h-1.2zM106.1 307.6h1.2v1.2h-1.2zM137.9 281.3h1.2v1.2h-1.2zM108.1 305.4h1.2v1.2h-1.2zM157.0 288.4h1.2v1.2h-1.2zM117.7 323.4h1.2v1.2h-1.2zM123.6 289.1h1.2v1.2h-1.2zM125.9 318.3h1.2v1.2h-1.2zM152.6 296.3h1.2v1.2h-1.2zM120.5 321.1h1.2v1.2h-1.2zM154.8 296.9h1.2v1.2h-1.2zM105.8 311.1h1.2v1.2h-1.2zM142.4 280.5h1.2v1.2h-1.2zM136.6 278.5h1.2v1.2h-1.2zM109.5 304.3h1.2v1.2h-1.2zM158.2 291.4h1.2v1.2h-1.2zM132.0 284.3h1.2v1.2h-1.2zM104.6 304.5h1.2v1.2h-1.2z" fill="#dc4038"/>
<path d="M108.8 313.8h1.2v1.2h-1.2zM123.0 292.5h1.2v1.2h-1.2zM153.6 286.3h1.2v1.2h-1.2zM110.8 310.8h1.2v1.2h-1.2zM110.5 309.1h1.2v1.2h-1.2zM153.2 286.4h1.2v1.2h-1.2zM132.8 287.6h1.2v1.2h-1.2zM141.0 303.9h1.2v1.2h-1.2zM111.9 318.0h1.2v1.2h-1.2zM108.4 318.1h1.2v1.2h-1.2zM126.0 312.8h1.2v1.2h-1.2zM125.9 312.8h1.2v1.2h-1.2zM113.0 315.5h1.2v1.2h-1.2zM152.8 282.9h1.2v1.2h-1.2zM111.9 312.7h1.2v1.2h-1.2zM125.2 312.9h1.2v1.2h-1.2zM126.7 313.9h1.2v1.2h-1.2zM116.4 301.4h1.2v1.2h-1.2zM123.7 314.0h1.2v1.2h-1.2zM124.3 317.3h1.2v1.2h-1.2zM112.6 307.2h1.2v1.2h-1.2zM118.8 317.1h1.2v1.2h-1.2zM134.5 284.5h1.2v1.2h-1.2zM155.2 287.9h1.2v1.2h-1.2zM110.9 314.4h1.2v1.2h-1.2zM134.8 308.8h1.2v1.2h-1.2zM109.4 315.1h1.2v1.2h-1.2zM139.4 308.7h1.2v1.2h-1.2zM137.2 305.9h1.2v1.2h-1.2zM114.3 305.0h1.2v1.2h-1.2zM120.7 297.9h1.2v1.2h-1.2zM121.3 316.1h1.2v1.2h-1.2zM140.9 304.7h1.2v1.2h-1.2zM122.1 295.9h1.2v1.2h-1.2zM131.2 311.1h1.2v1.2h-1.2zM121.1 318.5h1.2v1.2h-1.2zM150.2 292.3h1.2v1.2h-1.2zM130.6 311.2h1.2v1.2h-1.2zM120.2 316.1h1.2v1.2h-1.2zM147.7 284.5h1.2v1.2h-1.2zM140.8 304.5h1.2v1.2h-1.2zM111.9 304.3h1.2v1.2h-1.2zM141.8 303.0h1.2v1.2h-1.2zM142.7 283.7h1.2v1.2h-1.2zM130.6 311.5h1.2v1.2h-1.2zM110.6 313.7h1.2v1.2h-1.2zM139.8 303.6h1.2v1.2h-1.2zM141.3 284.2h1.2v1.2h-1.2zM140.7 307.5h1.2v1.2h-1.2zM152.9 284.3h1.2v1.2h-1.2zM152.6 284.7h1.2v1.2h-1.2zM147.7 301.0h1.2v1.2h-1.2zM113.7 315.2h1.2v1.2h-1.2zM150.4 293.9h1.2v1.2h-1.2zM116.8 316.4h1.2v1.2h-1.2zM136.7 286.8h1.2v1.2h-1.2zM130.2 312.1h1.2v1.2h-1.2zM145.7 282.4h1.2v1.2h-1.2zM154.4 286.6h1.2v1.2h-1.2zM155.5 286.1h1.2v1.2h-1.2zM134.5 309.3h1.2v1.2h-1.2zM151.4 280.3h1.2v1.2h-1.2zM137.3 310.2h1.2v1.2h-1.2zM115.2 302.2h1.2v1.2h-1.2zM115.5 304.2h1.2v1.2h-1.2zM134.7 310.4h1.2v1.2h-1.2zM120.6 298.0h1.2v1.2h-1.2zM120.3 315.2h1.2v1.2h-1.2zM143.8 284.4h1.2v1.2h-1.2zM131.1 310.0h1.2v1.2h-1.2zM125.1 292.5h1.2v1.2h-1.2zM150.7 297.6h1.2v1.2h-1.2zM133.8 289.0h1.2v1.2h-1.2zM118.3 316.5h1.2v1.2h-1.2zM114.9 319.2h1.2v1.2h-1.2zM117.4 297.6h1.2v1.2h-1.2zM110.6 305.7h1.2v1.2h-1.2zM151.9 287.8h1.2v1.2h-1.2zM111.5 306.6h1.2v1.2h-1.2zM149.4 295.0h1.2v1.2h-1.2zM151.3 289.4h1.2v1.2h-1.2zM145.9 284.0h1.2v1.2h-1.2zM111.3 306.5h1.2v1.2h-1.2zM129.7 311.6h1.2v1.2h-1.2zM113.2 303.3h1.2v1.2h-1.2zM115.4 317.6h1.2v1.2h-1.2zM155.9 286.9h1.2v1.2h-1.2zM131.0 290.5h1.2v1.2h-1.2zM115.9 316.8h1.2v1.2h-1.2zM151.4 287.5h1.2v1.2h-1.2zM153.4 283.0h1.2v1.2h-1.2zM154.7 288.4h1.2v1.2h-1.2zM119.7 295.8h1.2v1.2h-1.2zM123.3 314.8h1.2v1.2h-1.2zM140.1 306.2h1.2v1.2h-1.2zM110.5 311.3h1.2v1.2h-1.2zM136.0 310.8h1.2v1.2h-1.2zM147.4 300.1h1.2v1.2h-1.2zM110.0 308.2h1.2v1.2h-1.2zM138.8 305.4h1.2v1.2h-1.2zM109.7 313.7h1.2v1.2h-1.2zM138.7 283.6h1.2v1.2h-1.2z" fill="#e8702c"/>
<path d="M156.2 293.2h1.2v1.2h-1.2zM108.5 303.4h1.2v1.2h-1.2zM139.5 269.2h1.2v1.2h-1.2zM150.1 304.5h1.2v1.2h-1.2zM105.4 308.8h1.2v1.2h-1.2zM106.2 312.6h1.2v1.2h-1.2zM150.2 300.1h1.2v1.2h-1.2zM108.9 303.9h1.2v1.2h-1.2zM129.8 316.6h1.2v1.2h-1.2zM117.8 291.8h1.2v1.2h-1.2zM139.0 281.7h1.2v1.2h-1.2zM105.7 312.4h1.2v1.2h-1.2zM126.3 317.6h1.2v1.2h-1.2zM144.9 277.1h1.2v1.2h-1.2zM147.9 278.3h1.2v1.2h-1.2zM131.8 316.0h1.2v1.2h-1.2zM119.4 319.7h1.2v1.2h-1.2zM136.5 282.7h1.2v1.2h-1.2zM137.8 282.1h1.2v1.2h-1.2zM154.0 293.0h1.2v1.2h-1.2zM120.2 319.5h1.2v1.2h-1.2zM152.7 301.6h1.2v1.2h-1.2zM153.0 299.0h1.2v1.2h-1.2zM114.0 320.4h1.2v1.2h-1.2zM121.0 290.4h1.2v1.2h-1.2zM131.0 281.3h1.2v1.2h-1.2zM141.7 277.4h1.2v1.2h-1.2zM112.9 297.4h1.2v1.2h-1.2zM131.8 318.8h1.2v1.2h-1.2zM137.0 273.8h1.2v1.2h-1.2zM105.6 311.8h1.2v1.2h-1.2zM133.7 318.4h1.2v1.2h-1.2zM117.1 295.1h1.2v1.2h-1.2zM123.9 290.3h1.2v1.2h-1.2zM113.3 322.4h1.2v1.2h-1.2zM107.7 305.7h1.2v1.2h-1.2zM125.7 289.0h1.2v1.2h-1.2zM133.3 283.0h1.2v1.2h-1.2zM120.9 289.7h1.2v1.2h-1.2zM137.1 313.1h1.2v1.2h-1.2zM116.6 324.6h1.2v1.2h-1.2zM118.5 287.5h1.2v1.2h-1.2zM121.9 291.0h1.2v1.2h-1.2zM158.3 289.5h1.2v1.2h-1.2zM198.0 225.0h1.4v1.4h-1.4zM186.7 236.9h1.4v1.4h-1.4zM184.0 246.5h1.4v1.4h-1.4zM193.5 273.9h1.4v1.4h-1.4zM169.8 251.8h1.4v1.4h-1.4zM168.4 255.3h1.4v1.4h-1.4zM168.6 261.3h1.4v1.4h-1.4zM165.4 263.0h1.4v1.4h-1.4zM154.5 264.2h1.4v1.4h-1.4zM156.9 264.5h1.4v1.4h-1.4zM155.3 266.8h1.4v1.4h-1.4zM153.8 270.1h1.4v1.4h-1.4zM174.9 285.2h1.4v1.4h-1.4zM146.3 266.6h1.4v1.4h-1.4zM125.1 265.8h1.4v1.4h-1.4zM168.9 292.0h1.4v1.4h-1.4zM167.3 296.7h1.4v1.4h-1.4zM162.2 295.0h1.4v1.4h-1.4zM156.2 306.8h1.4v1.4h-1.4zM150.1 321.6h1.4v1.4h-1.4zM140.0 322.3h1.4v1.4h-1.4zM136.6 320.5h1.4v1.4h-1.4zM151.7 302.8h1.4v1.4h-1.4zM149.8 306.1h1.4v1.4h-1.4zM162.3 295.0h1.4v1.4h-1.4zM167.1 296.4h1.4v1.4h-1.4zM169.5 292.1h1.4v1.4h-1.4zM158.0 296.9h1.4v1.4h-1.4zM65.8 361.0h1.4v1.4h-1.4zM94.9 340.3h1.4v1.4h-1.4zM98.9 305.6h1.4v1.4h-1.4zM95.1 299.3h1.4v1.4h-1.4zM103.6 298.7h1.4v1.4h-1.4zM100.7 331.6h1.4v1.4h-1.4zM103.0 329.9h1.4v1.4h-1.4zM105.3 330.4h1.4v1.4h-1.4zM109.9 328.7h1.4v1.4h-1.4zM118.0 332.7h1.4v1.4h-1.4zM127.8 331.6h1.4v1.4h-1.4zM124.9 327.6h1.4v1.4h-1.4zM89.7 345.6h1.4v1.4h-1.4zM94.9 340.1h1.4v1.4h-1.4zM95.3 299.1h1.4v1.4h-1.4zM98.9 305.8h1.4v1.4h-1.4z" fill="#e0443a"/>
<path d="M151.8 282.4h1.2v1.2h-1.2zM152.9 287.9h1.2v1.2h-1.2zM115.5 317.4h1.2v1.2h-1.2zM153.7 289.2h1.2v1.2h-1.2zM109.7 315.2h1.2v1.2h-1.2zM118.4 317.8h1.2v1.2h-1.2zM122.3 317.6h1.2v1.2h-1.2zM143.1 303.8h1.2v1.2h-1.2zM129.2 289.1h1.2v1.2h-1.2zM145.6 281.0h1.2v1.2h-1.2zM140.5 306.2h1.2v1.2h-1.2zM121.9 316.8h1.2v1.2h-1.2zM128.9 288.0h1.2v1.2h-1.2zM109.7 308.5h1.2v1.2h-1.2zM153.2 287.3h1.2v1.2h-1.2zM150.4 280.4h1.2v1.2h-1.2zM146.9 280.0h1.2v1.2h-1.2zM114.7 318.0h1.2v1.2h-1.2zM155.0 286.5h1.2v1.2h-1.2zM115.8 319.0h1.2v1.2h-1.2zM117.1 297.2h1.2v1.2h-1.2zM111.4 316.9h1.2v1.2h-1.2zM155.1 287.3h1.2v1.2h-1.2zM153.3 285.4h1.2v1.2h-1.2zM107.7 311.9h1.2v1.2h-1.2zM150.2 282.1h1.2v1.2h-1.2zM111.2 318.3h1.2v1.2h-1.2zM150.4 281.6h1.2v1.2h-1.2zM119.9 295.8h1.2v1.2h-1.2zM147.2 281.5h1.2v1.2h-1.2zM115.1 300.9h1.2v1.2h-1.2zM154.8 285.7h1.2v1.2h-1.2zM142.9 282.4h1.2v1.2h-1.2zM150.6 281.1h1.2v1.2h-1.2zM123.3 293.5h1.2v1.2h-1.2zM139.5 308.1h1.2v1.2h-1.2zM140.6 281.8h1.2v1.2h-1.2zM127.2 289.0h1.2v1.2h-1.2zM110.5 316.3h1.2v1.2h-1.2zM120.7 295.3h1.2v1.2h-1.2zM150.9 284.0h1.2v1.2h-1.2zM117.5 317.9h1.2v1.2h-1.2zM142.2 305.4h1.2v1.2h-1.2zM147.4 281.7h1.2v1.2h-1.2zM120.4 318.3h1.2v1.2h-1.2z" fill="#e4602e"/>
<path d="M137.8 307.6h1.2v1.2h-1.2zM114.4 304.1h1.2v1.2h-1.2zM123.9 294.4h1.2v1.2h-1.2zM149.0 293.6h1.2v1.2h-1.2zM138.3 286.1h1.2v1.2h-1.2zM146.9 295.8h1.2v1.2h-1.2zM141.3 303.5h1.2v1.2h-1.2zM127.1 312.9h1.2v1.2h-1.2zM134.3 308.8h1.2v1.2h-1.2zM131.5 310.1h1.2v1.2h-1.2zM139.4 285.0h1.2v1.2h-1.2zM132.1 311.1h1.2v1.2h-1.2zM110.7 310.7h1.2v1.2h-1.2zM113.4 316.3h1.2v1.2h-1.2zM134.9 307.2h1.2v1.2h-1.2zM133.9 287.7h1.2v1.2h-1.2zM139.4 305.4h1.2v1.2h-1.2zM131.4 309.3h1.2v1.2h-1.2zM130.0 289.6h1.2v1.2h-1.2zM119.2 299.8h1.2v1.2h-1.2zM112.8 314.9h1.2v1.2h-1.2zM146.7 284.6h1.2v1.2h-1.2zM117.6 316.9h1.2v1.2h-1.2zM137.1 286.6h1.2v1.2h-1.2zM144.4 299.9h1.2v1.2h-1.2zM120.1 298.8h1.2v1.2h-1.2zM139.8 303.3h1.2v1.2h-1.2zM150.7 285.1h1.2v1.2h-1.2zM113.6 315.0h1.2v1.2h-1.2zM113.5 316.1h1.2v1.2h-1.2zM130.6 289.7h1.2v1.2h-1.2zM117.9 299.2h1.2v1.2h-1.2zM126.5 293.7h1.2v1.2h-1.2zM114.4 316.0h1.2v1.2h-1.2zM148.5 296.6h1.2v1.2h-1.2zM118.2 298.4h1.2v1.2h-1.2zM133.5 289.0h1.2v1.2h-1.2zM129.2 311.9h1.2v1.2h-1.2zM143.8 284.1h1.2v1.2h-1.2zM146.0 297.6h1.2v1.2h-1.2zM124.2 313.4h1.2v1.2h-1.2zM116.6 300.8h1.2v1.2h-1.2zM149.9 293.3h1.2v1.2h-1.2zM139.5 285.5h1.2v1.2h-1.2zM110.6 312.8h1.2v1.2h-1.2zM122.9 315.5h1.2v1.2h-1.2zM141.4 302.7h1.2v1.2h-1.2zM140.9 302.9h1.2v1.2h-1.2zM121.6 315.0h1.2v1.2h-1.2zM151.0 290.5h1.2v1.2h-1.2zM149.6 285.1h1.2v1.2h-1.2zM131.0 290.3h1.2v1.2h-1.2zM111.6 313.7h1.2v1.2h-1.2zM131.9 290.2h1.2v1.2h-1.2zM142.9 301.2h1.2v1.2h-1.2zM142.2 284.9h1.2v1.2h-1.2z" fill="#ec8a2d"/>
<path d="M108.7 314.7h1.2v1.2h-1.2zM110.6 309.8h1.2v1.2h-1.2zM109.5 309.2h1.2v1.2h-1.2zM108.6 308.6h1.2v1.2h-1.2zM148.1 281.0h1.2v1.2h-1.2zM109.4 316.3h1.2v1.2h-1.2zM137.9 308.2h1.2v1.2h-1.2zM108.6 310.3h1.2v1.2h-1.2zM152.5 286.4h1.2v1.2h-1.2zM143.0 281.0h1.2v1.2h-1.2zM154.1 287.7h1.2v1.2h-1.2zM129.9 313.5h1.2v1.2h-1.2zM131.3 312.6h1.2v1.2h-1.2zM109.0 311.5h1.2v1.2h-1.2zM113.9 317.4h1.2v1.2h-1.2zM155.7 288.7h1.2v1.2h-1.2zM116.9 299.4h1.2v1.2h-1.2zM124.1 292.0h1.2v1.2h-1.2zM153.2 289.6h1.2v1.2h-1.2zM115.6 300.2h1.2v1.2h-1.2zM150.9 281.2h1.2v1.2h-1.2zM145.0 301.7h1.2v1.2h-1.2zM107.4 313.9h1.2v1.2h-1.2zM113.6 318.8h1.2v1.2h-1.2zM142.8 282.9h1.2v1.2h-1.2zM138.5 308.0h1.2v1.2h-1.2zM152.8 283.4h1.2v1.2h-1.2zM135.5 310.3h1.2v1.2h-1.2zM142.6 281.7h1.2v1.2h-1.2zM111.2 307.9h1.2v1.2h-1.2zM140.2 307.3h1.2v1.2h-1.2zM145.8 301.1h1.2v1.2h-1.2zM107.5 317.3h1.2v1.2h-1.2zM122.6 294.1h1.2v1.2h-1.2zM146.0 301.1h1.2v1.2h-1.2zM143.1 282.6h1.2v1.2h-1.2zM120.7 293.8h1.2v1.2h-1.2zM110.2 314.5h1.2v1.2h-1.2zM133.1 312.2h1.2v1.2h-1.2zM150.3 281.4h1.2v1.2h-1.2zM153.8 285.3h1.2v1.2h-1.2zM154.4 285.1h1.2v1.2h-1.2zM124.1 292.3h1.2v1.2h-1.2zM127.9 315.7h1.2v1.2h-1.2zM151.3 284.0h1.2v1.2h-1.2zM113.4 303.3h1.2v1.2h-1.2z" fill="#e8562e"/>
<path d="M144.0 276.0h1.2v1.2h-1.2zM154.6 293.0h1.2v1.2h-1.2zM146.1 278.1h1.2v1.2h-1.2zM151.2 301.3h1.2v1.2h-1.2zM123.2 319.4h1.2v1.2h-1.2zM160.0 292.0h1.2v1.2h-1.2zM155.3 297.5h1.2v1.2h-1.2zM121.2 290.4h1.2v1.2h-1.2zM137.3 279.3h1.2v1.2h-1.2zM132.8 284.2h1.2v1.2h-1.2zM149.8 278.4h1.2v1.2h-1.2zM136.7 282.4h1.2v1.2h-1.2zM114.9 293.4h1.2v1.2h-1.2zM109.2 303.1h1.2v1.2h-1.2zM105.7 310.0h1.2v1.2h-1.2zM147.5 273.3h1.2v1.2h-1.2zM113.7 320.8h1.2v1.2h-1.2zM157.2 288.9h1.2v1.2h-1.2zM144.2 305.3h1.2v1.2h-1.2zM153.2 298.7h1.2v1.2h-1.2zM101.7 306.5h1.2v1.2h-1.2zM102.9 308.0h1.2v1.2h-1.2zM145.5 304.6h1.2v1.2h-1.2zM122.8 324.7h1.2v1.2h-1.2zM144.1 278.5h1.2v1.2h-1.2zM106.1 310.3h1.2v1.2h-1.2zM150.9 299.4h1.2v1.2h-1.2zM150.6 279.2h1.2v1.2h-1.2zM103.6 307.8h1.2v1.2h-1.2zM121.9 321.0h1.2v1.2h-1.2z" fill="#e04a36"/>
<path d="M184.1 253.0h1.4v1.4h-1.4zM163.6 266.8h1.4v1.4h-1.4zM159.3 268.3h1.4v1.4h-1.4zM160.5 269.8h1.4v1.4h-1.4zM169.6 284.6h1.4v1.4h-1.4zM166.6 286.7h1.4v1.4h-1.4zM156.1 293.5h1.4v1.4h-1.4zM154.1 297.3h1.4v1.4h-1.4z" fill="#ec7a2d"/>
<path d="M188.3 256.2h1.4v1.4h-1.4zM188.7 268.6h1.4v1.4h-1.4zM169.6 280.4h1.4v1.4h-1.4zM162.8 274.8h1.4v1.4h-1.4zM79.3 343.1h1.4v1.4h-1.4zM88.6 324.7h1.4v1.4h-1.4zM97.8 329.3h1.4v1.4h-1.4zM109.9 306.2h1.4v1.4h-1.4zM79.1 342.8h1.4v1.4h-1.4z" fill="#5f9a34"/>
<path d="M184.0 264.8h1.4v1.4h-1.4zM184.3 269.0h1.4v1.4h-1.4zM172.3 269.2h1.4v1.4h-1.4zM170.2 271.3h1.4v1.4h-1.4zM167.8 273.0h1.4v1.4h-1.4zM163.1 275.3h1.4v1.4h-1.4zM163.6 279.3h1.4v1.4h-1.4zM80.0 336.3h1.2v1.2h-1.2zM84.0 332.8h1.2v1.2h-1.2zM87.5 331.1h1.2v1.2h-1.2zM90.4 329.4h1.2v1.2h-1.2zM94.4 325.9h1.2v1.2h-1.2zM96.7 324.2h1.2v1.2h-1.2zM100.2 321.9h1.2v1.2h-1.2zM104.2 321.3h1.2v1.2h-1.2zM80.2 336.4h1.2v1.2h-1.2zM88.2 330.4h1.2v1.2h-1.2zM93.4 329.8h1.2v1.2h-1.2zM95.0 326.4h1.2v1.2h-1.2zM96.4 324.0h1.2v1.2h-1.2zM160.0 279.2h1.2v1.2h-1.2zM163.9 279.2h1.2v1.2h-1.2zM167.7 272.9h1.2v1.2h-1.2zM170.1 271.0h1.2v1.2h-1.2zM172.5 269.1h1.2v1.2h-1.2zM65.4 344.9h1.2v1.2h-1.2zM71.4 340.9h1.2v1.2h-1.2zM75.4 338.4h1.2v1.2h-1.2z" fill="#2a2a2a"/>
<path d="M169.1 284.4h1.4v1.4h-1.4zM166.6 286.8h1.4v1.4h-1.4zM159.9 290.6h1.4v1.4h-1.4zM97.2 314.9h1.4v1.4h-1.4zM94.9 317.2h1.4v1.4h-1.4zM88.9 321.0h1.4v1.4h-1.4zM96.1 333.3h1.4v1.4h-1.4zM101.8 311.4h1.4v1.4h-1.4zM78.1 345.6h1.4v1.4h-1.4z" fill="#e0b030"/>
<g filter="url(#soft)">
<path d="M151.17,286.16 L151.83,287.15 L152.16,287.95 L152.32,288.74 L152.33,289.56 L152.19,290.42 L151.91,291.32 L151.50,292.27 L150.96,293.27 L150.28,294.31 L149.47,295.39 L148.52,296.52 L147.45,297.70 L146.23,298.93 L144.87,300.21 L143.35,301.56 L141.62,303.00 L139.61,304.60 L136.69,306.83 L133.75,309.02 L131.65,310.51 L129.79,311.77 L128.08,312.87 L126.47,313.82 L124.96,314.65 L123.53,315.36 L122.18,315.96 L120.91,316.44 L119.73,316.80 L118.62,317.05 L117.59,317.19 L116.65,317.20 L115.78,317.10 L115.00,316.87 L114.28,316.49 L113.61,315.95 L112.83,315.04 L112.17,314.05 L111.84,313.25 L111.68,312.46 L111.67,311.64 L111.81,310.78 L112.09,309.88 L112.50,308.93 L113.04,307.93 L113.72,306.89 L114.53,305.81 L115.48,304.68 L116.55,303.50 L117.77,302.27 L119.13,300.99 L120.65,299.64 L122.38,298.20 L124.39,296.60 L127.31,294.37 L130.25,292.18 L132.35,290.69 L134.21,289.43 L135.92,288.33 L137.53,287.38 L139.04,286.55 L140.47,285.84 L141.82,285.24 L143.09,284.76 L144.27,284.40 L145.38,284.15 L146.41,284.01 L147.35,284.00 L148.22,284.10 L149.00,284.33 L149.72,284.71 L150.39,285.25Z" fill="#e8782c" opacity="0.45"/>
<path d="M150.69,286.52 L151.29,287.43 L151.58,288.16 L151.71,288.89 L151.69,289.66 L151.53,290.47 L151.24,291.32 L150.82,292.22 L150.27,293.16 L149.59,294.16 L148.78,295.20 L147.85,296.28 L146.79,297.41 L145.60,298.60 L144.26,299.84 L142.77,301.14 L141.08,302.54 L139.12,304.10 L136.27,306.27 L133.40,308.41 L131.36,309.87 L129.55,311.10 L127.89,312.17 L126.33,313.12 L124.86,313.94 L123.48,314.65 L122.18,315.24 L120.96,315.73 L119.82,316.11 L118.76,316.38 L117.78,316.53 L116.88,316.58 L116.06,316.51 L115.31,316.32 L114.64,315.99 L114.02,315.51 L113.31,314.68 L112.71,313.77 L112.42,313.04 L112.29,312.31 L112.31,311.54 L112.47,310.73 L112.76,309.88 L113.18,308.98 L113.73,308.04 L114.41,307.04 L115.22,306.00 L116.15,304.92 L117.21,303.79 L118.40,302.60 L119.74,301.36 L121.23,300.06 L122.92,298.66 L124.88,297.10 L127.73,294.93 L130.60,292.79 L132.64,291.33 L134.45,290.10 L136.11,289.03 L137.67,288.08 L139.14,287.26 L140.52,286.55 L141.82,285.96 L143.04,285.47 L144.18,285.09 L145.24,284.82 L146.22,284.67 L147.12,284.62 L147.94,284.69 L148.69,284.88 L149.36,285.21 L149.98,285.69Z" fill="#e48a2c" opacity="0.85"/>
<path d="M150.21,286.88 L150.75,287.70 L151.00,288.37 L151.09,289.05 L151.05,289.76 L150.87,290.51 L150.56,291.31 L150.13,292.16 L149.58,293.06 L148.90,294.00 L148.10,295.00 L147.18,296.04 L146.13,297.13 L144.96,298.26 L143.65,299.46 L142.19,300.73 L140.54,302.08 L138.63,303.60 L135.85,305.71 L133.05,307.80 L131.07,309.22 L129.31,310.43 L127.69,311.48 L126.18,312.41 L124.76,313.23 L123.43,313.93 L122.18,314.53 L121.00,315.03 L119.91,315.42 L118.89,315.70 L117.96,315.88 L117.10,315.96 L116.33,315.92 L115.63,315.77 L115.01,315.49 L114.43,315.06 L113.79,314.32 L113.25,313.50 L113.00,312.83 L112.91,312.15 L112.95,311.44 L113.13,310.69 L113.44,309.89 L113.87,309.04 L114.42,308.14 L115.10,307.20 L115.90,306.20 L116.82,305.16 L117.87,304.07 L119.04,302.94 L120.35,301.74 L121.81,300.47 L123.46,299.12 L125.37,297.60 L128.15,295.49 L130.95,293.40 L132.93,291.98 L134.69,290.77 L136.31,289.72 L137.82,288.79 L139.24,287.97 L140.57,287.27 L141.82,286.67 L143.00,286.17 L144.09,285.78 L145.11,285.50 L146.04,285.32 L146.90,285.24 L147.67,285.28 L148.37,285.43 L148.99,285.71 L149.57,286.14Z" fill="#d4a42a"/>
<path d="M149.81,287.18 L150.29,287.93 L150.51,288.54 L150.58,289.17 L150.51,289.84 L150.31,290.55 L149.99,291.30 L149.55,292.11 L148.99,292.96 L148.32,293.87 L147.52,294.82 L146.61,295.82 L145.57,296.87 L144.42,297.98 L143.13,299.14 L141.70,300.37 L140.08,301.69 L138.21,303.16 L135.49,305.23 L132.75,307.27 L130.82,308.67 L129.10,309.86 L127.52,310.90 L126.05,311.81 L124.68,312.62 L123.38,313.32 L122.17,313.93 L121.03,314.43 L119.98,314.83 L119.00,315.13 L118.10,315.33 L117.29,315.43 L116.55,315.42 L115.89,315.31 L115.31,315.07 L114.78,314.69 L114.19,314.02 L113.71,313.27 L113.49,312.66 L113.42,312.03 L113.49,311.36 L113.69,310.65 L114.01,309.90 L114.45,309.09 L115.01,308.24 L115.68,307.33 L116.48,306.38 L117.39,305.38 L118.43,304.33 L119.58,303.22 L120.87,302.06 L122.30,300.83 L123.92,299.51 L125.79,298.04 L128.51,295.97 L131.25,293.93 L133.18,292.53 L134.90,291.34 L136.48,290.30 L137.95,289.39 L139.32,288.58 L140.62,287.88 L141.83,287.27 L142.97,286.77 L144.02,286.37 L145.00,286.07 L145.90,285.87 L146.71,285.77 L147.45,285.78 L148.11,285.89 L148.69,286.13 L149.22,286.51Z" fill="#88a82a"/>
<path d="M149.41,287.48 L149.83,288.14 L150.00,288.69 L150.04,289.27 L149.94,289.88 L149.72,290.54 L149.39,291.24 L148.93,292.00 L148.37,292.81 L147.69,293.67 L146.89,294.58 L145.99,295.54 L144.96,296.55 L143.82,297.61 L142.55,298.73 L141.14,299.93 L139.56,301.21 L137.72,302.65 L135.07,304.67 L132.40,306.67 L130.51,308.04 L128.83,309.20 L127.30,310.23 L125.87,311.14 L124.53,311.94 L123.28,312.65 L122.11,313.26 L121.02,313.77 L120.00,314.19 L119.07,314.51 L118.21,314.74 L117.44,314.86 L116.75,314.89 L116.13,314.81 L115.59,314.63 L115.11,314.30 L114.59,313.72 L114.17,313.06 L114.00,312.51 L113.96,311.93 L114.06,311.32 L114.28,310.66 L114.61,309.96 L115.07,309.20 L115.63,308.39 L116.31,307.53 L117.11,306.62 L118.01,305.66 L119.04,304.65 L120.18,303.59 L121.45,302.47 L122.86,301.27 L124.44,299.99 L126.28,298.55 L128.93,296.53 L131.60,294.53 L133.49,293.16 L135.17,292.00 L136.70,290.97 L138.13,290.06 L139.47,289.26 L140.72,288.55 L141.89,287.94 L142.98,287.43 L144.00,287.01 L144.93,286.69 L145.79,286.46 L146.56,286.34 L147.25,286.31 L147.87,286.39 L148.41,286.57 L148.89,286.90Z" fill="#3f8226"/>
<path d="M149.01,287.78 L149.37,288.36 L149.50,288.85 L149.50,289.36 L149.38,289.92 L149.14,290.53 L148.78,291.19 L148.32,291.90 L147.74,292.66 L147.06,293.47 L146.27,294.34 L145.36,295.26 L144.35,296.22 L143.22,297.25 L141.98,298.33 L140.59,299.49 L139.04,300.74 L137.24,302.14 L134.65,304.11 L132.04,306.07 L130.19,307.41 L128.56,308.55 L127.07,309.57 L125.69,310.47 L124.39,311.27 L123.18,311.97 L122.05,312.59 L121.00,313.11 L120.03,313.54 L119.14,313.89 L118.32,314.14 L117.59,314.30 L116.94,314.36 L116.37,314.32 L115.88,314.18 L115.44,313.92 L114.99,313.42 L114.63,312.84 L114.50,312.35 L114.50,311.84 L114.62,311.28 L114.86,310.67 L115.22,310.01 L115.68,309.30 L116.26,308.54 L116.94,307.73 L117.73,306.86 L118.64,305.94 L119.65,304.98 L120.78,303.95 L122.02,302.87 L123.41,301.71 L124.96,300.46 L126.76,299.06 L129.35,297.09 L131.96,295.13 L133.81,293.79 L135.44,292.65 L136.93,291.63 L138.31,290.73 L139.61,289.93 L140.82,289.23 L141.95,288.61 L143.00,288.09 L143.97,287.66 L144.86,287.31 L145.68,287.06 L146.41,286.90 L147.06,286.84 L147.63,286.88 L148.12,287.02 L148.56,287.28Z" fill="#163e10"/>
<path d="M148.61,288.08 L148.90,288.57 L149.00,289.00 L148.96,289.46 L148.81,289.96 L148.55,290.52 L148.18,291.13 L147.70,291.79 L147.12,292.51 L146.43,293.28 L145.64,294.10 L144.74,294.97 L143.74,295.90 L142.63,296.89 L141.40,297.93 L140.04,299.05 L138.52,300.26 L136.76,301.63 L134.23,303.55 L131.68,305.46 L129.88,306.78 L128.29,307.90 L126.85,308.90 L125.50,309.79 L124.25,310.59 L123.08,311.30 L121.99,311.92 L120.98,312.45 L120.05,312.90 L119.20,313.26 L118.43,313.54 L117.75,313.73 L117.14,313.83 L116.61,313.83 L116.16,313.74 L115.78,313.53 L115.39,313.12 L115.10,312.63 L115.00,312.20 L115.04,311.74 L115.19,311.24 L115.45,310.68 L115.82,310.07 L116.30,309.41 L116.88,308.69 L117.57,307.92 L118.36,307.10 L119.26,306.23 L120.26,305.30 L121.37,304.31 L122.60,303.27 L123.96,302.15 L125.48,300.94 L127.24,299.57 L129.77,297.65 L132.32,295.74 L134.12,294.42 L135.71,293.30 L137.15,292.30 L138.50,291.41 L139.75,290.61 L140.92,289.90 L142.01,289.28 L143.02,288.75 L143.95,288.30 L144.80,287.94 L145.57,287.66 L146.25,287.47 L146.86,287.37 L147.39,287.37 L147.84,287.46 L148.22,287.67Z" fill="#000"/>
</g>
<path d="M150.4 293.4h1.1v1.1h-1.1zM157.3 286.9h1.1v1.1h-1.1zM105.8 313.7h1.1v1.1h-1.1zM144.7 282.9h1.1v1.1h-1.1zM110.7 322.7h1.1v1.1h-1.1zM115.6 319.3h1.1v1.1h-1.1zM149.2 279.3h1.1v1.1h-1.1zM156.9 286.8h1.1v1.1h-1.1zM150.7 291.1h1.1v1.1h-1.1zM158.5 285.3h1.1v1.1h-1.1zM118.7 315.2h1.1v1.1h-1.1zM111.1 307.8h1.1v1.1h-1.1zM150.1 280.1h1.1v1.1h-1.1z" fill="#6aa038"/>
<path d="M114.9 318.4h1.1v1.1h-1.1zM111.1 321.5h1.1v1.1h-1.1zM153.1 279.5h1.1v1.1h-1.1zM111.3 310.0h1.1v1.1h-1.1zM115.8 317.2h1.1v1.1h-1.1zM152.4 280.1h1.1v1.1h-1.1zM152.0 291.4h1.1v1.1h-1.1zM117.1 317.3h1.1v1.1h-1.1zM155.8 286.2h1.1v1.1h-1.1zM148.6 291.0h1.1v1.1h-1.1zM143.4 286.0h1.1v1.1h-1.1zM148.8 280.4h1.1v1.1h-1.1zM143.1 283.8h1.1v1.1h-1.1zM109.2 323.2h1.1v1.1h-1.1zM152.5 277.0h1.1v1.1h-1.1zM154.7 288.1h1.1v1.1h-1.1zM113.0 318.3h1.1v1.1h-1.1zM150.4 280.3h1.1v1.1h-1.1zM157.8 287.0h1.1v1.1h-1.1z" fill="#a9b02a"/>
<path d="M145.0 286.0h1.1v1.1h-1.1zM113.7 319.4h1.1v1.1h-1.1zM104.2 313.8h1.1v1.1h-1.1zM148.5 292.1h1.1v1.1h-1.1zM109.5 320.9h1.1v1.1h-1.1zM158.0 286.0h1.1v1.1h-1.1zM153.3 277.9h1.1v1.1h-1.1z" fill="#4e8e2a"/>
<path d="M143.8 282.9h1.1v1.1h-1.1zM117.1 315.3h1.1v1.1h-1.1zM150.0 280.2h1.1v1.1h-1.1zM109.6 311.7h1.1v1.1h-1.1zM157.3 285.2h1.1v1.1h-1.1zM104.8 314.5h1.1v1.1h-1.1zM154.6 278.1h1.1v1.1h-1.1zM119.5 315.2h1.1v1.1h-1.1zM149.2 293.3h1.1v1.1h-1.1zM111.8 320.1h1.1v1.1h-1.1zM113.2 319.9h1.1v1.1h-1.1z" fill="#d9b030"/>
<path d="M148.9 285.6h1v1h-1zM157.5 280.4h1v1h-1zM109.9 319.3h1v1h-1zM115.9 313.2h1v1h-1zM145.4 287.1h1v1h-1zM148.6 286.5h1v1h-1zM113.2 312.8h1v1h-1zM146.5 288.6h1v1h-1zM115.9 315.3h1v1h-1zM153.9 288.2h1v1h-1zM152.8 285.3h1v1h-1zM111.4 313.7h1v1h-1zM151.5 290.0h1v1h-1zM117.5 310.8h1v1h-1zM116.5 310.1h1v1h-1zM147.8 288.3h1v1h-1zM151.8 281.6h1v1h-1zM113.2 313.6h1v1h-1zM149.6 285.2h1v1h-1zM115.2 314.3h1v1h-1zM153.4 285.2h1v1h-1zM108.4 315.4h1v1h-1zM150.7 285.1h1v1h-1zM148.2 286.5h1v1h-1zM111.1 312.6h1v1h-1zM157.4 281.3h1v1h-1zM147.6 290.0h1v1h-1zM150.3 285.5h1v1h-1zM114.4 307.8h1v1h-1zM109.9 314.7h1v1h-1zM111.5 314.5h1v1h-1zM153.0 287.1h1v1h-1zM143.4 287.7h1v1h-1zM115.3 315.3h1v1h-1zM117.5 314.9h1v1h-1zM144.0 287.7h1v1h-1zM144.3 287.5h1v1h-1zM144.1 287.2h1v1h-1zM114.5 308.2h1v1h-1zM149.2 281.1h1v1h-1zM111.7 310.3h1v1h-1zM152.5 289.3h1v1h-1zM152.1 283.7h1v1h-1zM147.4 285.9h1v1h-1zM116.8 309.4h1v1h-1zM111.0 320.7h1v1h-1zM147.3 287.7h1v1h-1zM154.2 280.7h1v1h-1zM153.2 286.5h1v1h-1zM148.3 291.9h1v1h-1zM113.4 315.8h1v1h-1zM152.2 288.0h1v1h-1zM149.2 286.6h1v1h-1zM114.6 309.8h1v1h-1zM157.0 280.5h1v1h-1zM144.6 288.9h1v1h-1zM115.6 313.6h1v1h-1zM151.9 285.4h1v1h-1zM151.8 285.4h1v1h-1zM115.0 313.4h1v1h-1zM116.7 311.2h1v1h-1zM160.1 279.1h1v1h-1zM115.3 310.0h1v1h-1zM151.5 287.2h1v1h-1zM116.6 311.3h1v1h-1zM110.2 316.9h1v1h-1zM113.9 314.6h1v1h-1zM111.7 318.7h1v1h-1zM116.0 309.3h1v1h-1zM114.9 315.1h1v1h-1zM111.1 315.3h1v1h-1zM155.1 281.9h1v1h-1zM149.9 288.1h1v1h-1zM148.7 294.2h1v1h-1zM115.5 310.4h1v1h-1zM148.0 287.5h1v1h-1zM119.0 316.7h1v1h-1zM113.1 309.0h1v1h-1zM145.8 281.4h1v1h-1zM144.4 288.4h1v1h-1zM143.8 284.0h1v1h-1zM151.3 282.6h1v1h-1zM147.9 288.1h1v1h-1zM147.6 282.8h1v1h-1zM108.2 319.0h1v1h-1zM154.9 286.8h1v1h-1zM149.3 288.9h1v1h-1zM115.2 311.9h1v1h-1zM116.2 311.9h1v1h-1zM147.5 288.7h1v1h-1zM146.0 290.3h1v1h-1zM113.3 311.7h1v1h-1zM114.8 316.5h1v1h-1zM114.7 309.0h1v1h-1zM117.1 310.1h1v1h-1zM112.9 312.0h1v1h-1zM145.0 285.6h1v1h-1zM150.2 287.1h1v1h-1zM151.0 285.3h1v1h-1zM149.7 287.5h1v1h-1zM152.4 285.0h1v1h-1zM150.1 285.2h1v1h-1zM117.4 315.0h1v1h-1zM149.6 286.7h1v1h-1zM151.9 283.6h1v1h-1zM113.6 313.8h1v1h-1zM150.9 285.4h1v1h-1zM143.6 286.4h1v1h-1zM153.6 286.5h1v1h-1zM154.4 280.3h1v1h-1zM121.3 317.8h1v1h-1zM112.1 314.2h1v1h-1zM115.6 311.8h1v1h-1zM113.7 318.7h1v1h-1zM151.8 289.0h1v1h-1zM112.7 315.1h1v1h-1zM108.5 315.1h1v1h-1zM148.6 285.0h1v1h-1zM115.2 311.0h1v1h-1zM119.1 315.6h1v1h-1zM109.9 316.7h1v1h-1zM109.3 315.1h1v1h-1zM111.3 308.4h1v1h-1zM110.8 311.6h1v1h-1zM112.8 317.2h1v1h-1zM115.4 315.9h1v1h-1zM113.8 312.1h1v1h-1zM148.1 289.3h1v1h-1zM113.6 307.5h1v1h-1zM145.3 289.4h1v1h-1zM148.0 289.8h1v1h-1zM115.7 317.2h1v1h-1zM109.6 314.7h1v1h-1zM159.2 279.9h1v1h-1zM153.2 285.0h1v1h-1zM111.1 315.4h1v1h-1zM117.8 310.5h1v1h-1zM118.6 314.1h1v1h-1zM110.4 316.9h1v1h-1zM153.1 282.3h1v1h-1zM115.2 309.7h1v1h-1zM144.8 288.7h1v1h-1zM117.6 312.5h1v1h-1zM115.4 308.8h1v1h-1zM114.8 312.3h1v1h-1zM115.7 311.7h1v1h-1zM143.9 288.2h1v1h-1zM154.8 284.4h1v1h-1zM148.3 284.5h1v1h-1zM108.9 314.9h1v1h-1zM153.7 284.9h1v1h-1zM156.4 283.5h1v1h-1zM149.1 282.3h1v1h-1zM113.5 307.5h1v1h-1zM152.0 283.3h1v1h-1zM155.4 284.4h1v1h-1zM145.6 282.4h1v1h-1zM148.1 287.6h1v1h-1zM147.5 288.6h1v1h-1zM151.6 286.8h1v1h-1zM142.3 286.0h1v1h-1zM147.3 292.6h1v1h-1zM152.5 287.4h1v1h-1zM111.7 311.5h1v1h-1zM145.1 289.4h1v1h-1zM157.6 282.3h1v1h-1zM98.2 325.4h1v1h-1zM146.9 292.0h1v1h-1zM104.3 318.0h1v1h-1zM110.5 315.4h1v1h-1zM110.4 316.7h1v1h-1zM114.9 308.1h1v1h-1zM150.6 283.5h1v1h-1zM119.1 312.1h1v1h-1zM102.3 322.6h1v1h-1zM151.5 289.6h1v1h-1zM146.5 286.3h1v1h-1zM159.1 279.2h1v1h-1zM152.6 283.7h1v1h-1zM145.4 287.1h1v1h-1zM108.0 318.2h1v1h-1zM144.9 287.2h1v1h-1zM114.8 318.1h1v1h-1zM149.0 291.4h1v1h-1zM105.9 316.3h1v1h-1zM111.9 303.4h1v1h-1zM112.9 315.0h1v1h-1zM110.1 315.5h1v1h-1zM146.4 288.6h1v1h-1zM116.3 313.5h1v1h-1zM144.5 286.2h1v1h-1zM112.1 310.1h1v1h-1zM105.0 317.7h1v1h-1zM118.4 312.7h1v1h-1zM111.9 316.2h1v1h-1zM147.3 290.9h1v1h-1zM100.6 325.3h1v1h-1zM114.9 308.6h1v1h-1zM113.9 312.9h1v1h-1zM112.1 317.6h1v1h-1zM113.3 316.5h1v1h-1zM116.9 309.5h1v1h-1zM147.3 291.8h1v1h-1zM147.5 284.2h1v1h-1zM156.4 281.4h1v1h-1zM110.8 315.5h1v1h-1zM113.4 316.2h1v1h-1zM147.0 290.4h1v1h-1zM110.7 312.2h1v1h-1zM147.4 290.0h1v1h-1zM152.0 287.2h1v1h-1zM148.7 287.7h1v1h-1zM117.8 312.0h1v1h-1zM110.9 316.5h1v1h-1zM106.4 319.1h1v1h-1zM115.1 313.8h1v1h-1zM146.6 285.9h1v1h-1zM117.1 314.3h1v1h-1zM109.6 320.6h1v1h-1zM112.9 313.8h1v1h-1zM145.1 289.3h1v1h-1zM116.8 310.1h1v1h-1zM147.6 290.9h1v1h-1zM113.7 313.5h1v1h-1zM114.7 311.6h1v1h-1zM156.8 285.6h1v1h-1zM110.4 313.4h1v1h-1zM113.5 306.6h1v1h-1zM117.2 311.5h1v1h-1zM118.8 312.1h1v1h-1zM145.9 288.9h1v1h-1zM145.1 287.5h1v1h-1zM153.0 281.4h1v1h-1zM114.7 307.1h1v1h-1zM112.3 317.9h1v1h-1zM113.6 314.5h1v1h-1zM153.8 284.3h1v1h-1zM113.8 317.8h1v1h-1zM148.1 290.4h1v1h-1zM111.4 309.6h1v1h-1zM145.2 289.7h1v1h-1zM150.6 284.5h1v1h-1zM151.2 283.8h1v1h-1zM119.3 314.3h1v1h-1zM153.0 281.6h1v1h-1zM144.5 288.9h1v1h-1zM151.1 286.7h1v1h-1zM104.1 321.4h1v1h-1zM145.4 289.8h1v1h-1zM146.8 289.6h1v1h-1zM152.2 280.0h1v1h-1zM112.3 316.5h1v1h-1zM146.1 282.1h1v1h-1zM115.2 313.9h1v1h-1zM149.8 290.7h1v1h-1zM117.7 315.8h1v1h-1zM158.1 280.0h1v1h-1zM150.1 291.1h1v1h-1zM113.4 312.1h1v1h-1zM115.7 314.1h1v1h-1zM148.5 292.0h1v1h-1zM149.2 289.7h1v1h-1zM113.8 311.8h1v1h-1zM153.1 284.6h1v1h-1zM149.5 287.3h1v1h-1zM113.9 307.3h1v1h-1zM150.0 290.5h1v1h-1zM113.0 313.8h1v1h-1zM146.5 287.7h1v1h-1zM114.0 313.5h1v1h-1zM147.4 285.5h1v1h-1zM110.6 309.6h1v1h-1zM156.3 282.5h1v1h-1zM111.8 316.1h1v1h-1zM145.7 290.1h1v1h-1zM152.7 283.4h1v1h-1zM149.0 291.5h1v1h-1zM151.1 291.5h1v1h-1zM108.4 317.9h1v1h-1zM151.9 281.4h1v1h-1zM109.3 318.9h1v1h-1zM112.2 310.0h1v1h-1zM153.9 281.5h1v1h-1zM153.8 286.2h1v1h-1zM108.1 317.4h1v1h-1zM110.9 317.7h1v1h-1zM148.2 291.9h1v1h-1zM113.3 309.2h1v1h-1zM145.9 289.2h1v1h-1zM106.9 319.5h1v1h-1zM150.6 288.3h1v1h-1zM113.1 313.9h1v1h-1zM115.6 315.7h1v1h-1zM118.0 312.2h1v1h-1zM111.3 313.6h1v1h-1zM112.0 314.1h1v1h-1zM122.5 317.1h1v1h-1zM112.5 314.2h1v1h-1zM118.8 311.8h1v1h-1zM149.4 294.9h1v1h-1z" fill="#1e1e1e"/>
<rect x="60.60" y="219.60" width="144.90" height="148.20" fill="none" stroke="#1a1a1a" stroke-width="1.3"/>
<line x1="57.60" y1="234.80" x2="60.60" y2="234.80" stroke="#222" stroke-width="0.9"/>
<text x="54.80" y="236.90" font-size="6.0" stroke="#333" stroke-width="0.12" text-anchor="end" fill="#333">5.0</text>
<line x1="57.60" y1="267.80" x2="60.60" y2="267.80" stroke="#222" stroke-width="0.9"/>
<text x="54.80" y="269.90" font-size="6.0" stroke="#333" stroke-width="0.12" text-anchor="end" fill="#333">2.5</text>
<line x1="57.60" y1="300.80" x2="60.60" y2="300.80" stroke="#222" stroke-width="0.9"/>
<text x="54.80" y="302.90" font-size="6.0" stroke="#333" stroke-width="0.12" text-anchor="end" fill="#333">0.0</text>
<line x1="57.60" y1="333.80" x2="60.60" y2="333.80" stroke="#222" stroke-width="0.9"/>
<text x="54.80" y="335.90" font-size="6.0" stroke="#333" stroke-width="0.12" text-anchor="end" fill="#333">−2.5</text>
<line x1="57.60" y1="366.80" x2="60.60" y2="366.80" stroke="#222" stroke-width="0.9"/>
<text x="54.80" y="368.90" font-size="6.0" stroke="#333" stroke-width="0.12" text-anchor="end" fill="#333">−5.0</text>
<line x1="95.31" y1="367.80" x2="95.31" y2="370.50" stroke="#222" stroke-width="0.9"/>
<text x="95.31" y="379.50" font-size="6.0" stroke="#333" stroke-width="0.12" text-anchor="middle" fill="#333">−3</text>
<line x1="132.90" y1="367.80" x2="132.90" y2="370.50" stroke="#222" stroke-width="0.9"/>
<text x="132.90" y="379.50" font-size="6.0" stroke="#333" stroke-width="0.12" text-anchor="middle" fill="#333">0</text>
<line x1="170.49" y1="367.80" x2="170.49" y2="370.50" stroke="#222" stroke-width="0.9"/>
<text x="170.49" y="379.50" font-size="6.0" stroke="#333" stroke-width="0.12" text-anchor="middle" fill="#333">3</text>
<text x="81.20" y="247.40" font-size="6.0" stroke="#222" stroke-width="0.1" fill="#222" textLength="21.20" lengthAdjust="spacingAndGlyphs"><tspan font-style="italic">r</tspan> = 0.772</text>
<text x="101.0" y="391.0" font-size="7.6" fill="#222" stroke="#222" stroke-width="0.45" textLength="63.6" lengthAdjust="spacingAndGlyphs">Log<tspan font-size="5" dy="1.5">2</tspan><tspan dy="-1.5">FC(LPS+PGE</tspan><tspan font-size="5" dy="1.5">2</tspan><tspan dy="-1.5">/LPS)</tspan></text>
<text x="38.8" y="323.3" font-size="7.6" fill="#222" stroke="#222" stroke-width="0.45" textLength="59.5" lengthAdjust="spacingAndGlyphs" transform="rotate(-90 38.8 323.3)">Log<tspan font-size="5" dy="1.5">2</tspan><tspan dy="-1.5">FC(LPS+Ado/LPS)</tspan></text>
<path d="M264.6,254.6C265.4,252.0 266.9,248.1 268.0,246.0C269.1,243.9 269.6,243.2 271.3,242.1C273.0,241.0 275.6,239.8 278.0,239.2C280.4,238.6 283.9,238.3 285.8,238.3C287.7,238.3 288.8,238.4 289.6,239.2C290.4,240.0 290.0,241.4 290.6,243.0C291.2,244.6 292.1,247.0 293.5,248.8C294.9,250.6 297.4,252.1 299.2,253.7C300.9,255.3 302.9,257.2 304.0,258.5C305.1,259.8 306.2,260.2 306.0,261.3C305.8,262.4 304.4,263.9 303.0,265.0C301.6,266.1 299.5,267.0 297.3,268.0C295.1,269.0 292.2,270.0 289.6,271.0C287.1,272.0 284.6,272.7 282.0,273.8C279.4,274.9 276.1,276.9 274.2,277.7C272.3,278.5 271.5,279.2 270.4,278.7C269.3,278.2 268.5,276.6 267.5,274.8C266.5,273.0 265.4,270.2 264.6,268.0C263.9,265.8 263.0,263.5 263.0,261.3C263.0,259.1 263.8,257.1 264.6,254.6Z" fill="#62a8e6" opacity="0.38" filter="url(#soft)"/>
<path d="M264.6,254.6C265.4,252.0 266.9,248.1 268.0,246.0C269.1,243.9 269.6,243.2 271.3,242.1C273.0,241.0 275.6,239.8 278.0,239.2C280.4,238.6 283.9,238.3 285.8,238.3C287.7,238.3 288.8,238.4 289.6,239.2C290.4,240.0 290.0,241.4 290.6,243.0C291.2,244.6 292.1,247.0 293.5,248.8C294.9,250.6 297.4,252.1 299.2,253.7C300.9,255.3 302.9,257.2 304.0,258.5C305.1,259.8 306.2,260.2 306.0,261.3C305.8,262.4 304.4,263.9 303.0,265.0C301.6,266.1 299.5,267.0 297.3,268.0C295.1,269.0 292.2,270.0 289.6,271.0C287.1,272.0 284.6,272.7 282.0,273.8C279.4,274.9 276.1,276.9 274.2,277.7C272.3,278.5 271.5,279.2 270.4,278.7C269.3,278.2 268.5,276.6 267.5,274.8C266.5,273.0 265.4,270.2 264.6,268.0C263.9,265.8 263.0,263.5 263.0,261.3C263.0,259.1 263.8,257.1 264.6,254.6Z" fill="#62a8e6" filter="url(#speck)"/>
<path d="M268.5,277.7C269.6,276.1 271.9,278.3 274.2,277.7C276.4,277.1 279.4,274.9 282.0,273.8C284.6,272.7 287.1,272.3 289.6,271.0C292.2,269.7 295.1,267.4 297.3,266.2C299.5,264.9 301.4,263.4 303.0,263.5C304.6,263.6 305.9,265.4 307.0,267.0C308.1,268.6 308.9,271.4 309.8,272.9C310.7,274.4 312.0,274.6 312.2,276.0C312.4,277.4 311.4,279.6 310.8,281.5C310.2,283.4 308.9,285.4 308.8,287.3C308.7,289.2 310.3,290.8 310.3,293.0C310.3,295.2 309.4,298.6 308.8,300.8C308.2,303.0 307.5,304.6 306.9,306.3C306.3,308.0 306.3,309.9 305.2,311.0C304.1,312.1 302.0,312.2 300.0,313.0C298.0,313.8 295.5,314.8 293.0,315.5C290.5,316.2 287.8,316.6 285.0,317.0C282.2,317.4 279.0,317.8 276.0,318.0C273.0,318.2 268.6,319.5 267.0,318.5C265.4,317.5 266.5,314.4 266.5,312.0C266.5,309.6 266.7,306.7 266.8,304.0C266.9,301.3 267.1,298.8 267.2,296.0C267.3,293.2 267.3,290.4 267.5,287.3C267.7,284.2 267.4,279.3 268.5,277.7Z" fill="#66aa3c" opacity="0.4" filter="url(#soft)"/>
<path d="M268.5,277.7C269.6,276.1 271.9,278.3 274.2,277.7C276.4,277.1 279.4,274.9 282.0,273.8C284.6,272.7 287.1,272.3 289.6,271.0C292.2,269.7 295.1,267.4 297.3,266.2C299.5,264.9 301.4,263.4 303.0,263.5C304.6,263.6 305.9,265.4 307.0,267.0C308.1,268.6 308.9,271.4 309.8,272.9C310.7,274.4 312.0,274.6 312.2,276.0C312.4,277.4 311.4,279.6 310.8,281.5C310.2,283.4 308.9,285.4 308.8,287.3C308.7,289.2 310.3,290.8 310.3,293.0C310.3,295.2 309.4,298.6 308.8,300.8C308.2,303.0 307.5,304.6 306.9,306.3C306.3,308.0 306.3,309.9 305.2,311.0C304.1,312.1 302.0,312.2 300.0,313.0C298.0,313.8 295.5,314.8 293.0,315.5C290.5,316.2 287.8,316.6 285.0,317.0C282.2,317.4 279.0,317.8 276.0,318.0C273.0,318.2 268.6,319.5 267.0,318.5C265.4,317.5 266.5,314.4 266.5,312.0C266.5,309.6 266.7,306.7 266.8,304.0C266.9,301.3 267.1,298.8 267.2,296.0C267.3,293.2 267.3,290.4 267.5,287.3C267.7,284.2 267.4,279.3 268.5,277.7Z" fill="#66aa3c" filter="url(#speck)"/>
<path d="M264.0,317.0C266.1,316.0 272.5,318.0 276.0,318.0C279.5,318.0 282.2,317.4 285.0,317.0C287.8,316.6 290.5,316.2 293.0,315.5C295.5,314.8 298.1,314.1 300.0,313.0C301.9,311.9 303.5,309.2 304.5,309.0C305.5,308.8 306.1,310.0 306.0,312.0C305.9,314.0 304.6,318.1 304.0,320.8C303.4,323.6 302.9,325.6 302.1,328.5C301.3,331.4 300.2,334.8 299.2,338.0C298.2,341.2 297.6,344.6 296.3,347.7C295.0,350.8 293.2,354.1 291.5,356.3C289.8,358.6 287.4,360.3 285.8,361.2C284.2,362.1 283.9,362.4 282.0,361.8C280.1,361.2 276.4,359.0 274.2,357.3C271.9,355.6 270.1,353.8 268.5,351.5C266.9,349.2 265.5,346.7 264.6,343.8C263.7,340.9 263.4,337.5 263.2,334.2C263.0,330.9 263.1,326.9 263.2,324.0C263.3,321.1 261.9,318.0 264.0,317.0Z" fill="#b8123a" opacity="0.4" filter="url(#soft)"/>
<path d="M264.0,317.0C266.1,316.0 272.5,318.0 276.0,318.0C279.5,318.0 282.2,317.4 285.0,317.0C287.8,316.6 290.5,316.2 293.0,315.5C295.5,314.8 298.1,314.1 300.0,313.0C301.9,311.9 303.5,309.2 304.5,309.0C305.5,308.8 306.1,310.0 306.0,312.0C305.9,314.0 304.6,318.1 304.0,320.8C303.4,323.6 302.9,325.6 302.1,328.5C301.3,331.4 300.2,334.8 299.2,338.0C298.2,341.2 297.6,344.6 296.3,347.7C295.0,350.8 293.2,354.1 291.5,356.3C289.8,358.6 287.4,360.3 285.8,361.2C284.2,362.1 283.9,362.4 282.0,361.8C280.1,361.2 276.4,359.0 274.2,357.3C271.9,355.6 270.1,353.8 268.5,351.5C266.9,349.2 265.5,346.7 264.6,343.8C263.7,340.9 263.4,337.5 263.2,334.2C263.0,330.9 263.1,326.9 263.2,324.0C263.3,321.1 261.9,318.0 264.0,317.0Z" fill="#b8123a" filter="url(#speck)"/>
<path d="M365.4,246.2C366.3,245.9 366.7,247.6 368.5,248.5C370.3,249.4 374.1,250.8 376.2,251.5C378.2,252.2 379.4,252.1 380.8,253.0C382.2,253.9 383.6,255.1 384.6,256.9C385.6,258.7 386.3,261.6 386.9,263.8C387.5,266.0 387.7,267.9 388.2,270.0C388.7,272.1 389.6,273.9 390.0,276.2C390.4,278.5 390.7,281.2 390.8,283.8C390.9,286.4 391.1,288.9 390.8,291.5C390.5,294.1 390.0,296.9 389.2,299.2C388.4,301.5 387.6,303.7 386.2,305.4C384.8,307.1 382.7,308.2 380.8,309.2C378.9,310.2 376.4,310.7 374.6,311.5C372.8,312.3 371.5,313.0 370.0,313.8C368.5,314.6 366.8,316.1 365.4,316.2C364.0,316.3 362.3,315.6 361.5,314.6C360.7,313.6 361.2,312.1 360.8,310.0C360.4,307.9 359.9,305.1 359.2,302.3C358.5,299.5 357.4,296.2 356.9,293.1C356.4,290.0 356.4,286.6 356.2,283.8C355.9,281.0 355.8,278.8 355.4,276.2C355.0,273.6 354.2,270.8 353.8,268.5C353.4,266.2 352.8,264.0 353.1,262.3C353.4,260.6 354.2,259.6 355.4,258.5C356.5,257.4 358.7,256.8 360.0,255.4C361.3,254.0 362.2,251.5 363.1,250.0C364.0,248.5 364.5,246.4 365.4,246.2Z" fill="#8482cc" opacity="0.6" filter="url(#soft)"/>
<path d="M365.4,246.2C366.3,245.9 366.7,247.6 368.5,248.5C370.3,249.4 374.1,250.8 376.2,251.5C378.2,252.2 379.4,252.1 380.8,253.0C382.2,253.9 383.6,255.1 384.6,256.9C385.6,258.7 386.3,261.6 386.9,263.8C387.5,266.0 387.7,267.9 388.2,270.0C388.7,272.1 389.6,273.9 390.0,276.2C390.4,278.5 390.7,281.2 390.8,283.8C390.9,286.4 391.1,288.9 390.8,291.5C390.5,294.1 390.0,296.9 389.2,299.2C388.4,301.5 387.6,303.7 386.2,305.4C384.8,307.1 382.7,308.2 380.8,309.2C378.9,310.2 376.4,310.7 374.6,311.5C372.8,312.3 371.5,313.0 370.0,313.8C368.5,314.6 366.8,316.1 365.4,316.2C364.0,316.3 362.3,315.6 361.5,314.6C360.7,313.6 361.2,312.1 360.8,310.0C360.4,307.9 359.9,305.1 359.2,302.3C358.5,299.5 357.4,296.2 356.9,293.1C356.4,290.0 356.4,286.6 356.2,283.8C355.9,281.0 355.8,278.8 355.4,276.2C355.0,273.6 354.2,270.8 353.8,268.5C353.4,266.2 352.8,264.0 353.1,262.3C353.4,260.6 354.2,259.6 355.4,258.5C356.5,257.4 358.7,256.8 360.0,255.4C361.3,254.0 362.2,251.5 363.1,250.0C364.0,248.5 364.5,246.4 365.4,246.2Z" fill="#8482cc" filter="url(#speck)"/>
<path d="M290.8 267.6h0.9v0.9h-0.9zM262.9 258.1h0.9v0.9h-0.9zM262.2 252.0h0.9v0.9h-0.9zM288.4 271.2h0.9v0.9h-0.9zM305.1 262.0h0.9v0.9h-0.9zM297.9 268.3h0.9v0.9h-0.9zM292.5 240.1h0.9v0.9h-0.9zM277.1 238.9h0.9v0.9h-0.9zM291.6 270.3h0.9v0.9h-0.9zM265.9 271.5h0.9v0.9h-0.9zM265.0 255.8h0.9v0.9h-0.9zM261.1 258.8h0.9v0.9h-0.9zM284.8 237.8h0.9v0.9h-0.9zM264.7 257.9h0.9v0.9h-0.9zM295.7 251.1h0.9v0.9h-0.9zM267.0 248.9h0.9v0.9h-0.9zM264.1 252.9h0.9v0.9h-0.9zM292.4 243.4h0.9v0.9h-0.9zM289.5 246.0h0.9v0.9h-0.9zM267.6 247.8h0.9v0.9h-0.9zM276.2 276.5h0.9v0.9h-0.9zM270.1 280.0h0.9v0.9h-0.9zM266.0 253.8h0.9v0.9h-0.9zM264.2 262.7h0.9v0.9h-0.9zM264.9 262.8h0.9v0.9h-0.9zM291.9 249.4h0.9v0.9h-0.9zM270.9 239.7h0.9v0.9h-0.9zM270.0 272.7h0.9v0.9h-0.9zM268.4 246.0h0.9v0.9h-0.9zM261.9 267.9h0.9v0.9h-0.9zM299.5 267.8h0.9v0.9h-0.9zM279.8 239.5h0.9v0.9h-0.9zM283.9 273.4h0.9v0.9h-0.9zM268.9 248.7h0.9v0.9h-0.9zM299.8 256.2h0.9v0.9h-0.9zM266.5 276.1h0.9v0.9h-0.9zM267.6 247.8h0.9v0.9h-0.9zM305.5 261.8h0.9v0.9h-0.9zM280.2 275.1h0.9v0.9h-0.9zM272.8 279.5h0.9v0.9h-0.9zM276.4 239.1h0.9v0.9h-0.9zM307.0 258.3h0.9v0.9h-0.9zM262.1 258.1h0.9v0.9h-0.9zM277.0 275.8h0.9v0.9h-0.9zM300.3 255.1h0.9v0.9h-0.9zM266.4 255.5h0.9v0.9h-0.9zM304.2 263.6h0.9v0.9h-0.9zM290.6 237.4h0.9v0.9h-0.9zM295.9 247.6h0.9v0.9h-0.9zM280.9 271.4h0.9v0.9h-0.9zM295.1 249.3h0.9v0.9h-0.9zM306.0 259.3h0.9v0.9h-0.9zM292.9 242.4h0.9v0.9h-0.9zM298.0 268.7h0.9v0.9h-0.9zM287.4 237.3h0.9v0.9h-0.9zM267.1 274.3h0.9v0.9h-0.9zM292.4 247.2h0.9v0.9h-0.9zM266.2 277.9h0.9v0.9h-0.9zM264.1 266.6h0.9v0.9h-0.9zM261.4 259.8h0.9v0.9h-0.9zM279.6 236.1h0.9v0.9h-0.9zM304.7 258.5h0.9v0.9h-0.9zM279.5 278.1h0.9v0.9h-0.9zM295.1 267.1h0.9v0.9h-0.9zM291.2 268.3h0.9v0.9h-0.9zM280.3 275.3h0.9v0.9h-0.9zM302.1 256.3h0.9v0.9h-0.9zM283.1 273.0h0.9v0.9h-0.9zM305.3 260.8h0.9v0.9h-0.9zM273.4 241.9h0.9v0.9h-0.9zM282.8 239.2h0.9v0.9h-0.9zM295.5 250.5h0.9v0.9h-0.9zM286.7 238.5h0.9v0.9h-0.9zM299.2 255.7h0.9v0.9h-0.9zM272.4 240.6h0.9v0.9h-0.9zM265.8 249.8h0.9v0.9h-0.9zM298.9 268.3h0.9v0.9h-0.9zM264.1 258.3h0.9v0.9h-0.9zM268.2 275.8h0.9v0.9h-0.9zM273.1 239.4h0.9v0.9h-0.9zM265.5 259.5h0.9v0.9h-0.9zM294.4 249.4h0.9v0.9h-0.9zM268.9 241.6h0.9v0.9h-0.9zM272.3 238.2h0.9v0.9h-0.9zM295.7 252.0h0.9v0.9h-0.9zM292.1 242.6h0.9v0.9h-0.9zM265.3 258.3h0.9v0.9h-0.9zM291.3 238.9h0.9v0.9h-0.9zM298.5 259.1h0.9v0.9h-0.9zM304.8 264.1h0.9v0.9h-0.9zM271.2 240.4h0.9v0.9h-0.9zM291.2 240.2h0.9v0.9h-0.9zM264.0 252.8h0.9v0.9h-0.9zM263.6 261.5h0.9v0.9h-0.9zM292.5 243.9h0.9v0.9h-0.9zM289.2 242.0h0.9v0.9h-0.9zM286.2 269.9h0.9v0.9h-0.9zM272.1 240.5h0.9v0.9h-0.9zM300.7 267.0h0.9v0.9h-0.9zM300.3 266.0h0.9v0.9h-0.9zM276.2 276.3h0.9v0.9h-0.9zM285.1 239.9h0.9v0.9h-0.9zM264.6 268.4h0.9v0.9h-0.9zM270.7 279.0h0.9v0.9h-0.9zM279.5 273.1h0.9v0.9h-0.9zM262.8 266.6h0.9v0.9h-0.9zM267.1 274.0h0.9v0.9h-0.9zM270.6 276.5h0.9v0.9h-0.9zM281.1 274.2h0.9v0.9h-0.9zM273.1 277.7h0.9v0.9h-0.9zM304.0 260.4h0.9v0.9h-0.9zM294.0 249.2h0.9v0.9h-0.9zM270.3 277.6h0.9v0.9h-0.9zM269.2 274.0h0.9v0.9h-0.9zM265.0 247.2h0.9v0.9h-0.9zM264.4 254.3h0.9v0.9h-0.9zM267.6 276.2h0.9v0.9h-0.9zM263.0 259.7h0.9v0.9h-0.9zM291.4 242.6h0.9v0.9h-0.9zM291.6 270.4h0.9v0.9h-0.9zM291.7 270.7h0.9v0.9h-0.9zM297.5 252.1h0.9v0.9h-0.9zM296.4 265.0h0.9v0.9h-0.9zM272.6 241.6h0.9v0.9h-0.9zM289.9 269.7h0.9v0.9h-0.9zM298.9 252.3h0.9v0.9h-0.9zM274.6 238.7h0.9v0.9h-0.9zM262.0 265.0h0.9v0.9h-0.9zM288.5 239.0h0.9v0.9h-0.9zM275.1 276.7h0.9v0.9h-0.9zM284.4 240.3h0.9v0.9h-0.9zM278.7 236.8h0.9v0.9h-0.9zM268.7 244.1h0.9v0.9h-0.9zM271.8 240.8h0.9v0.9h-0.9zM264.0 270.0h0.9v0.9h-0.9zM272.9 279.2h0.9v0.9h-0.9zM269.4 251.4h0.9v0.9h-0.9zM284.1 273.9h0.9v0.9h-0.9zM262.3 255.4h0.9v0.9h-0.9zM273.5 239.6h0.9v0.9h-0.9zM285.2 240.3h0.9v0.9h-0.9zM293.4 249.9h0.9v0.9h-0.9zM266.0 272.8h0.9v0.9h-0.9zM303.2 255.0h0.9v0.9h-0.9zM292.2 267.9h0.9v0.9h-0.9zM298.9 253.4h0.9v0.9h-0.9zM285.4 239.5h0.9v0.9h-0.9zM305.9 261.2h0.9v0.9h-0.9zM306.9 258.7h0.9v0.9h-0.9zM300.9 256.3h0.9v0.9h-0.9zM277.1 241.3h0.9v0.9h-0.9zM298.3 251.7h0.9v0.9h-0.9zM288.5 239.9h0.9v0.9h-0.9zM290.6 244.2h0.9v0.9h-0.9zM267.5 250.1h0.9v0.9h-0.9zM262.3 260.1h0.9v0.9h-0.9zM306.0 260.0h0.9v0.9h-0.9zM284.8 274.8h0.9v0.9h-0.9zM278.9 276.5h0.9v0.9h-0.9zM265.9 252.3h0.9v0.9h-0.9z" fill="#62a8e6"/>
<path d="M311.0 289.8h0.9v0.9h-0.9zM310.6 275.8h0.9v0.9h-0.9zM271.5 317.3h0.9v0.9h-0.9zM303.5 262.2h0.9v0.9h-0.9zM282.4 318.6h0.9v0.9h-0.9zM272.1 278.7h0.9v0.9h-0.9zM311.8 292.1h0.9v0.9h-0.9zM266.8 279.3h0.9v0.9h-0.9zM286.5 274.7h0.9v0.9h-0.9zM307.9 304.7h0.9v0.9h-0.9zM307.2 266.3h0.9v0.9h-0.9zM278.2 277.3h0.9v0.9h-0.9zM311.7 274.9h0.9v0.9h-0.9zM268.8 284.2h0.9v0.9h-0.9zM308.9 290.1h0.9v0.9h-0.9zM313.6 277.1h0.9v0.9h-0.9zM264.8 289.2h0.9v0.9h-0.9zM303.7 264.3h0.9v0.9h-0.9zM306.3 303.4h0.9v0.9h-0.9zM289.2 312.6h0.9v0.9h-0.9zM308.6 275.9h0.9v0.9h-0.9zM304.2 264.6h0.9v0.9h-0.9zM282.9 270.7h0.9v0.9h-0.9zM312.4 276.2h0.9v0.9h-0.9zM307.3 266.8h0.9v0.9h-0.9zM297.6 314.4h0.9v0.9h-0.9zM278.1 318.2h0.9v0.9h-0.9zM308.8 272.5h0.9v0.9h-0.9zM309.2 295.7h0.9v0.9h-0.9zM302.8 311.2h0.9v0.9h-0.9zM265.5 317.7h0.9v0.9h-0.9zM264.4 305.5h0.9v0.9h-0.9zM272.0 317.0h0.9v0.9h-0.9zM266.0 310.2h0.9v0.9h-0.9zM279.7 276.3h0.9v0.9h-0.9zM281.1 318.0h0.9v0.9h-0.9zM266.6 317.7h0.9v0.9h-0.9zM277.8 277.5h0.9v0.9h-0.9zM269.0 300.8h0.9v0.9h-0.9zM302.7 265.1h0.9v0.9h-0.9zM313.7 278.7h0.9v0.9h-0.9zM266.6 306.4h0.9v0.9h-0.9zM306.3 313.3h0.9v0.9h-0.9zM312.1 296.4h0.9v0.9h-0.9zM285.9 275.1h0.9v0.9h-0.9zM307.4 300.7h0.9v0.9h-0.9zM268.7 316.4h0.9v0.9h-0.9zM267.3 282.4h0.9v0.9h-0.9zM266.1 309.5h0.9v0.9h-0.9zM270.2 281.9h0.9v0.9h-0.9zM309.1 302.3h0.9v0.9h-0.9zM301.7 265.1h0.9v0.9h-0.9zM298.3 315.1h0.9v0.9h-0.9zM304.7 266.6h0.9v0.9h-0.9zM269.9 278.0h0.9v0.9h-0.9zM290.2 316.4h0.9v0.9h-0.9zM266.3 306.3h0.9v0.9h-0.9zM297.1 269.1h0.9v0.9h-0.9zM268.1 297.4h0.9v0.9h-0.9zM310.5 274.5h0.9v0.9h-0.9zM290.6 314.6h0.9v0.9h-0.9zM268.1 277.5h0.9v0.9h-0.9zM296.1 267.2h0.9v0.9h-0.9zM272.5 279.2h0.9v0.9h-0.9zM307.8 300.9h0.9v0.9h-0.9zM269.6 277.4h0.9v0.9h-0.9zM277.4 316.0h0.9v0.9h-0.9zM265.1 313.5h0.9v0.9h-0.9zM279.3 317.3h0.9v0.9h-0.9zM282.2 275.1h0.9v0.9h-0.9zM297.2 311.5h0.9v0.9h-0.9zM312.5 274.3h0.9v0.9h-0.9zM276.8 319.3h0.9v0.9h-0.9zM285.5 316.4h0.9v0.9h-0.9zM280.6 315.4h0.9v0.9h-0.9zM292.6 317.5h0.9v0.9h-0.9zM267.5 299.7h0.9v0.9h-0.9zM302.8 312.0h0.9v0.9h-0.9zM310.1 290.3h0.9v0.9h-0.9zM269.1 293.6h0.9v0.9h-0.9zM310.8 289.2h0.9v0.9h-0.9zM301.1 311.0h0.9v0.9h-0.9zM267.5 298.2h0.9v0.9h-0.9zM305.6 266.8h0.9v0.9h-0.9zM292.8 265.8h0.9v0.9h-0.9zM305.2 264.5h0.9v0.9h-0.9zM268.6 304.7h0.9v0.9h-0.9zM308.4 293.5h0.9v0.9h-0.9zM266.9 295.1h0.9v0.9h-0.9zM294.1 315.3h0.9v0.9h-0.9zM275.2 279.1h0.9v0.9h-0.9zM293.8 316.3h0.9v0.9h-0.9zM293.3 312.9h0.9v0.9h-0.9zM274.0 318.9h0.9v0.9h-0.9zM268.1 305.4h0.9v0.9h-0.9zM264.6 300.2h0.9v0.9h-0.9zM302.8 261.3h0.9v0.9h-0.9zM309.0 303.2h0.9v0.9h-0.9zM293.9 269.3h0.9v0.9h-0.9zM293.5 317.5h0.9v0.9h-0.9zM272.2 315.6h0.9v0.9h-0.9zM278.5 316.2h0.9v0.9h-0.9zM290.5 315.9h0.9v0.9h-0.9zM285.9 273.2h0.9v0.9h-0.9zM307.0 286.3h0.9v0.9h-0.9zM271.3 319.2h0.9v0.9h-0.9zM302.4 312.4h0.9v0.9h-0.9zM292.7 316.7h0.9v0.9h-0.9zM310.9 304.7h0.9v0.9h-0.9zM280.3 272.2h0.9v0.9h-0.9zM311.5 274.6h0.9v0.9h-0.9zM310.2 278.8h0.9v0.9h-0.9zM308.5 288.7h0.9v0.9h-0.9zM278.2 315.8h0.9v0.9h-0.9zM308.6 276.1h0.9v0.9h-0.9zM307.4 309.9h0.9v0.9h-0.9zM304.6 264.7h0.9v0.9h-0.9zM309.8 270.7h0.9v0.9h-0.9zM266.7 279.9h0.9v0.9h-0.9zM268.7 289.7h0.9v0.9h-0.9zM269.3 309.9h0.9v0.9h-0.9zM311.3 283.6h0.9v0.9h-0.9zM307.6 300.8h0.9v0.9h-0.9zM278.0 280.5h0.9v0.9h-0.9zM308.9 297.0h0.9v0.9h-0.9zM311.2 270.2h0.9v0.9h-0.9zM308.0 308.1h0.9v0.9h-0.9zM264.8 316.2h0.9v0.9h-0.9zM265.9 292.5h0.9v0.9h-0.9zM277.3 277.9h0.9v0.9h-0.9zM312.1 289.9h0.9v0.9h-0.9zM263.0 296.2h0.9v0.9h-0.9zM268.3 317.9h0.9v0.9h-0.9zM262.9 316.9h0.9v0.9h-0.9zM268.7 280.3h0.9v0.9h-0.9zM307.0 269.9h0.9v0.9h-0.9zM283.5 317.9h0.9v0.9h-0.9zM310.5 300.1h0.9v0.9h-0.9zM268.0 294.4h0.9v0.9h-0.9zM273.6 274.1h0.9v0.9h-0.9zM294.9 316.0h0.9v0.9h-0.9zM267.7 291.1h0.9v0.9h-0.9zM296.0 266.8h0.9v0.9h-0.9zM266.1 320.4h0.9v0.9h-0.9zM288.1 268.7h0.9v0.9h-0.9zM277.5 318.3h0.9v0.9h-0.9zM285.6 317.8h0.9v0.9h-0.9zM304.5 300.7h0.9v0.9h-0.9zM304.2 265.0h0.9v0.9h-0.9zM302.6 311.1h0.9v0.9h-0.9zM307.9 303.1h0.9v0.9h-0.9zM265.2 317.5h0.9v0.9h-0.9zM292.4 315.1h0.9v0.9h-0.9zM308.4 306.7h0.9v0.9h-0.9zM312.3 281.2h0.9v0.9h-0.9zM307.3 295.1h0.9v0.9h-0.9zM307.1 284.5h0.9v0.9h-0.9zM272.0 286.8h0.9v0.9h-0.9zM312.7 277.4h0.9v0.9h-0.9zM278.4 275.2h0.9v0.9h-0.9z" fill="#66aa3c"/>
<path d="M293.5 350.0h0.9v0.9h-0.9zM302.9 311.9h0.9v0.9h-0.9zM284.5 318.4h0.9v0.9h-0.9zM293.9 354.4h0.9v0.9h-0.9zM274.6 318.5h0.9v0.9h-0.9zM287.7 316.5h0.9v0.9h-0.9zM305.3 307.0h0.9v0.9h-0.9zM304.4 308.1h0.9v0.9h-0.9zM301.7 325.7h0.9v0.9h-0.9zM304.7 308.7h0.9v0.9h-0.9zM263.6 333.9h0.9v0.9h-0.9zM272.0 315.6h0.9v0.9h-0.9zM268.4 317.9h0.9v0.9h-0.9zM298.2 342.2h0.9v0.9h-0.9zM293.6 357.6h0.9v0.9h-0.9zM288.3 357.6h0.9v0.9h-0.9zM263.6 325.3h0.9v0.9h-0.9zM279.8 360.6h0.9v0.9h-0.9zM297.4 334.6h0.9v0.9h-0.9zM276.4 358.3h0.9v0.9h-0.9zM266.2 343.3h0.9v0.9h-0.9zM302.9 310.5h0.9v0.9h-0.9zM266.7 352.9h0.9v0.9h-0.9zM299.8 339.1h0.9v0.9h-0.9zM304.5 309.5h0.9v0.9h-0.9zM277.4 318.3h0.9v0.9h-0.9zM299.3 330.5h0.9v0.9h-0.9zM292.4 317.3h0.9v0.9h-0.9zM276.9 360.7h0.9v0.9h-0.9zM264.0 331.7h0.9v0.9h-0.9zM294.5 341.6h0.9v0.9h-0.9zM293.4 349.9h0.9v0.9h-0.9zM268.4 348.8h0.9v0.9h-0.9zM280.8 319.0h0.9v0.9h-0.9zM263.0 336.5h0.9v0.9h-0.9zM286.4 361.0h0.9v0.9h-0.9zM268.5 352.5h0.9v0.9h-0.9zM287.9 358.7h0.9v0.9h-0.9zM273.3 317.4h0.9v0.9h-0.9zM286.0 359.6h0.9v0.9h-0.9zM301.4 330.2h0.9v0.9h-0.9zM273.7 316.2h0.9v0.9h-0.9zM264.9 337.9h0.9v0.9h-0.9zM294.7 314.7h0.9v0.9h-0.9zM262.5 333.2h0.9v0.9h-0.9zM301.5 331.1h0.9v0.9h-0.9zM293.4 353.4h0.9v0.9h-0.9zM300.6 343.5h0.9v0.9h-0.9zM301.3 339.9h0.9v0.9h-0.9zM281.3 317.2h0.9v0.9h-0.9zM262.1 318.5h0.9v0.9h-0.9zM300.4 307.7h0.9v0.9h-0.9zM301.4 334.3h0.9v0.9h-0.9zM261.5 331.3h0.9v0.9h-0.9zM261.9 332.3h0.9v0.9h-0.9zM296.6 348.1h0.9v0.9h-0.9zM261.5 326.9h0.9v0.9h-0.9zM261.5 329.0h0.9v0.9h-0.9zM305.3 309.5h0.9v0.9h-0.9zM299.0 336.7h0.9v0.9h-0.9zM285.7 319.4h0.9v0.9h-0.9zM277.8 359.8h0.9v0.9h-0.9zM285.2 317.6h0.9v0.9h-0.9zM297.7 333.1h0.9v0.9h-0.9zM289.2 315.5h0.9v0.9h-0.9zM292.4 356.2h0.9v0.9h-0.9zM272.1 316.9h0.9v0.9h-0.9zM268.4 354.4h0.9v0.9h-0.9zM282.6 361.4h0.9v0.9h-0.9zM262.9 331.0h0.9v0.9h-0.9zM264.6 337.5h0.9v0.9h-0.9zM302.3 330.4h0.9v0.9h-0.9zM283.5 359.0h0.9v0.9h-0.9zM265.5 316.5h0.9v0.9h-0.9zM263.2 338.5h0.9v0.9h-0.9zM263.7 341.0h0.9v0.9h-0.9zM270.5 356.1h0.9v0.9h-0.9zM289.1 357.7h0.9v0.9h-0.9zM300.7 342.5h0.9v0.9h-0.9zM269.0 351.3h0.9v0.9h-0.9zM295.0 348.7h0.9v0.9h-0.9zM298.5 314.1h0.9v0.9h-0.9zM301.6 310.5h0.9v0.9h-0.9zM302.0 325.1h0.9v0.9h-0.9zM307.0 309.4h0.9v0.9h-0.9zM292.2 353.0h0.9v0.9h-0.9zM299.7 336.0h0.9v0.9h-0.9zM301.0 322.6h0.9v0.9h-0.9zM299.9 334.5h0.9v0.9h-0.9zM303.6 309.4h0.9v0.9h-0.9zM275.6 318.0h0.9v0.9h-0.9zM279.0 317.9h0.9v0.9h-0.9zM264.5 347.6h0.9v0.9h-0.9zM268.6 314.7h0.9v0.9h-0.9zM288.8 357.6h0.9v0.9h-0.9zM276.3 355.9h0.9v0.9h-0.9zM270.8 314.1h0.9v0.9h-0.9zM296.6 315.3h0.9v0.9h-0.9zM279.2 318.1h0.9v0.9h-0.9zM299.7 313.7h0.9v0.9h-0.9zM305.6 311.5h0.9v0.9h-0.9zM293.1 315.1h0.9v0.9h-0.9zM278.9 361.4h0.9v0.9h-0.9zM299.5 336.2h0.9v0.9h-0.9zM299.9 334.2h0.9v0.9h-0.9zM262.8 336.4h0.9v0.9h-0.9zM266.1 335.8h0.9v0.9h-0.9zM300.2 328.7h0.9v0.9h-0.9zM263.0 333.7h0.9v0.9h-0.9zM293.1 316.3h0.9v0.9h-0.9zM279.7 359.4h0.9v0.9h-0.9zM296.8 347.0h0.9v0.9h-0.9zM277.6 316.8h0.9v0.9h-0.9zM286.4 316.9h0.9v0.9h-0.9zM286.6 316.9h0.9v0.9h-0.9zM261.1 315.8h0.9v0.9h-0.9zM262.8 346.1h0.9v0.9h-0.9zM276.6 318.1h0.9v0.9h-0.9zM271.0 316.2h0.9v0.9h-0.9zM299.2 338.3h0.9v0.9h-0.9zM261.7 328.5h0.9v0.9h-0.9zM289.1 316.7h0.9v0.9h-0.9zM265.2 345.9h0.9v0.9h-0.9zM267.2 346.3h0.9v0.9h-0.9zM296.8 311.9h0.9v0.9h-0.9zM278.5 316.1h0.9v0.9h-0.9zM306.8 314.0h0.9v0.9h-0.9zM305.1 313.7h0.9v0.9h-0.9zM298.7 347.3h0.9v0.9h-0.9zM262.9 329.8h0.9v0.9h-0.9zM295.3 345.6h0.9v0.9h-0.9zM287.3 318.2h0.9v0.9h-0.9zM274.6 316.9h0.9v0.9h-0.9zM306.9 312.3h0.9v0.9h-0.9zM263.0 328.5h0.9v0.9h-0.9zM304.8 319.8h0.9v0.9h-0.9zM304.9 321.9h0.9v0.9h-0.9zM301.9 339.4h0.9v0.9h-0.9zM304.1 315.7h0.9v0.9h-0.9zM264.7 337.5h0.9v0.9h-0.9zM305.2 313.9h0.9v0.9h-0.9zM296.4 345.3h0.9v0.9h-0.9zM262.6 340.3h0.9v0.9h-0.9zM281.9 360.5h0.9v0.9h-0.9zM302.1 333.5h0.9v0.9h-0.9zM262.9 337.4h0.9v0.9h-0.9zM289.3 356.9h0.9v0.9h-0.9zM300.0 334.7h0.9v0.9h-0.9zM281.1 314.0h0.9v0.9h-0.9zM276.5 319.0h0.9v0.9h-0.9zM305.1 310.4h0.9v0.9h-0.9zM300.3 338.0h0.9v0.9h-0.9zM274.9 359.3h0.9v0.9h-0.9zM262.0 339.6h0.9v0.9h-0.9zM290.2 316.0h0.9v0.9h-0.9zM290.1 361.8h0.9v0.9h-0.9zM304.1 320.1h0.9v0.9h-0.9zM260.8 328.3h0.9v0.9h-0.9zM265.8 319.4h0.9v0.9h-0.9zM272.3 357.0h0.9v0.9h-0.9z" fill="#b8123a"/>
<path d="M383.8 266.2h0.9v0.9h-0.9zM387.3 305.3h0.9v0.9h-0.9zM382.0 306.3h0.9v0.9h-0.9zM393.7 284.2h0.9v0.9h-0.9zM358.8 302.4h0.9v0.9h-0.9zM357.9 313.7h0.9v0.9h-0.9zM355.3 281.3h0.9v0.9h-0.9zM362.4 311.7h0.9v0.9h-0.9zM371.0 250.0h0.9v0.9h-0.9zM370.5 314.4h0.9v0.9h-0.9zM364.7 246.7h0.9v0.9h-0.9zM381.4 309.4h0.9v0.9h-0.9zM389.0 267.3h0.9v0.9h-0.9zM390.8 277.1h0.9v0.9h-0.9zM364.8 243.3h0.9v0.9h-0.9zM354.4 269.0h0.9v0.9h-0.9zM386.7 264.1h0.9v0.9h-0.9zM386.7 262.8h0.9v0.9h-0.9zM365.8 250.2h0.9v0.9h-0.9zM353.4 265.0h0.9v0.9h-0.9zM354.6 257.5h0.9v0.9h-0.9zM361.9 315.2h0.9v0.9h-0.9zM389.5 279.2h0.9v0.9h-0.9zM378.0 253.6h0.9v0.9h-0.9zM358.6 252.9h0.9v0.9h-0.9zM355.2 285.1h0.9v0.9h-0.9zM387.1 303.7h0.9v0.9h-0.9zM354.0 265.5h0.9v0.9h-0.9zM387.9 260.5h0.9v0.9h-0.9zM390.6 273.6h0.9v0.9h-0.9zM389.9 275.9h0.9v0.9h-0.9zM360.8 315.8h0.9v0.9h-0.9zM388.9 269.5h0.9v0.9h-0.9zM360.4 309.4h0.9v0.9h-0.9zM377.1 309.5h0.9v0.9h-0.9zM358.3 295.6h0.9v0.9h-0.9zM378.3 309.7h0.9v0.9h-0.9zM355.4 287.8h0.9v0.9h-0.9zM370.8 312.6h0.9v0.9h-0.9zM362.3 314.3h0.9v0.9h-0.9zM390.5 289.8h0.9v0.9h-0.9zM360.3 309.7h0.9v0.9h-0.9zM381.1 307.9h0.9v0.9h-0.9zM381.7 253.4h0.9v0.9h-0.9zM373.6 312.3h0.9v0.9h-0.9zM391.3 282.1h0.9v0.9h-0.9zM357.1 258.9h0.9v0.9h-0.9zM357.0 294.2h0.9v0.9h-0.9zM388.6 277.0h0.9v0.9h-0.9zM382.5 309.8h0.9v0.9h-0.9zM377.3 312.9h0.9v0.9h-0.9zM354.7 290.2h0.9v0.9h-0.9zM358.1 280.8h0.9v0.9h-0.9zM369.7 249.8h0.9v0.9h-0.9zM390.2 289.9h0.9v0.9h-0.9zM358.5 306.2h0.9v0.9h-0.9zM357.4 254.3h0.9v0.9h-0.9zM357.2 295.1h0.9v0.9h-0.9zM362.7 308.1h0.9v0.9h-0.9zM387.2 273.4h0.9v0.9h-0.9zM356.8 287.9h0.9v0.9h-0.9zM358.1 256.0h0.9v0.9h-0.9zM363.5 249.7h0.9v0.9h-0.9zM363.9 254.1h0.9v0.9h-0.9zM356.3 301.0h0.9v0.9h-0.9zM354.6 267.5h0.9v0.9h-0.9zM359.1 304.1h0.9v0.9h-0.9zM355.6 275.2h0.9v0.9h-0.9zM388.2 304.3h0.9v0.9h-0.9zM354.8 286.2h0.9v0.9h-0.9zM367.4 312.6h0.9v0.9h-0.9zM352.5 260.9h0.9v0.9h-0.9zM372.1 311.7h0.9v0.9h-0.9zM367.7 316.8h0.9v0.9h-0.9zM390.3 289.2h0.9v0.9h-0.9zM388.8 266.6h0.9v0.9h-0.9zM391.3 284.6h0.9v0.9h-0.9zM355.3 297.6h0.9v0.9h-0.9zM376.6 311.6h0.9v0.9h-0.9zM390.5 296.9h0.9v0.9h-0.9zM384.6 262.7h0.9v0.9h-0.9zM359.5 255.9h0.9v0.9h-0.9zM389.5 283.4h0.9v0.9h-0.9zM382.0 255.3h0.9v0.9h-0.9zM385.6 258.7h0.9v0.9h-0.9zM383.2 305.7h0.9v0.9h-0.9zM351.7 267.2h0.9v0.9h-0.9zM373.3 248.8h0.9v0.9h-0.9zM365.5 251.3h0.9v0.9h-0.9zM356.5 287.8h0.9v0.9h-0.9zM365.7 248.5h0.9v0.9h-0.9zM356.5 257.8h0.9v0.9h-0.9zM363.0 247.6h0.9v0.9h-0.9zM376.6 253.1h0.9v0.9h-0.9zM379.6 312.7h0.9v0.9h-0.9zM376.5 313.0h0.9v0.9h-0.9zM389.3 276.6h0.9v0.9h-0.9zM391.9 275.2h0.9v0.9h-0.9zM368.7 311.8h0.9v0.9h-0.9zM369.6 314.4h0.9v0.9h-0.9zM370.9 250.1h0.9v0.9h-0.9zM366.2 246.0h0.9v0.9h-0.9zM388.8 276.2h0.9v0.9h-0.9zM389.4 269.0h0.9v0.9h-0.9zM378.9 253.2h0.9v0.9h-0.9zM360.8 316.7h0.9v0.9h-0.9zM375.2 247.6h0.9v0.9h-0.9zM360.1 300.1h0.9v0.9h-0.9zM353.2 269.4h0.9v0.9h-0.9zM391.3 275.4h0.9v0.9h-0.9zM384.1 266.8h0.9v0.9h-0.9zM352.1 259.5h0.9v0.9h-0.9zM387.9 256.7h0.9v0.9h-0.9zM377.3 310.0h0.9v0.9h-0.9zM362.0 252.4h0.9v0.9h-0.9zM356.5 268.9h0.9v0.9h-0.9zM376.4 254.0h0.9v0.9h-0.9zM355.5 257.9h0.9v0.9h-0.9zM389.7 294.9h0.9v0.9h-0.9zM387.5 272.9h0.9v0.9h-0.9zM387.1 282.2h0.9v0.9h-0.9zM361.0 307.4h0.9v0.9h-0.9zM370.4 248.6h0.9v0.9h-0.9zM387.6 265.5h0.9v0.9h-0.9zM357.9 308.4h0.9v0.9h-0.9zM385.0 307.6h0.9v0.9h-0.9zM386.5 255.8h0.9v0.9h-0.9zM360.0 255.0h0.9v0.9h-0.9zM391.0 280.4h0.9v0.9h-0.9zM389.6 261.3h0.9v0.9h-0.9zM371.3 250.3h0.9v0.9h-0.9zM358.7 304.9h0.9v0.9h-0.9zM389.3 285.1h0.9v0.9h-0.9zM374.7 309.6h0.9v0.9h-0.9zM358.1 255.2h0.9v0.9h-0.9zM357.3 254.7h0.9v0.9h-0.9zM355.3 277.0h0.9v0.9h-0.9zM386.4 305.7h0.9v0.9h-0.9zM357.0 296.8h0.9v0.9h-0.9zM371.5 249.1h0.9v0.9h-0.9zM387.7 296.8h0.9v0.9h-0.9zM355.2 257.4h0.9v0.9h-0.9zM365.3 249.8h0.9v0.9h-0.9zM358.6 306.3h0.9v0.9h-0.9zM360.3 308.0h0.9v0.9h-0.9zM353.8 272.9h0.9v0.9h-0.9zM355.9 288.3h0.9v0.9h-0.9zM393.1 290.9h0.9v0.9h-0.9zM376.0 309.3h0.9v0.9h-0.9zM391.0 279.7h0.9v0.9h-0.9zM357.8 311.1h0.9v0.9h-0.9zM363.0 303.2h0.9v0.9h-0.9zM372.4 312.6h0.9v0.9h-0.9zM389.5 296.1h0.9v0.9h-0.9zM385.7 255.6h0.9v0.9h-0.9zM354.3 284.5h0.9v0.9h-0.9zM362.2 315.2h0.9v0.9h-0.9zM356.0 288.9h0.9v0.9h-0.9zM354.8 270.9h0.9v0.9h-0.9zM390.3 302.7h0.9v0.9h-0.9z" fill="#8482cc"/>
<path d="M309.3 296.7h0.9v0.9h-0.9zM312.2 292.7h0.9v0.9h-0.9zM308.0 295.9h0.9v0.9h-0.9zM312.7 295.9h0.9v0.9h-0.9zM313.9 292.3h0.9v0.9h-0.9zM312.4 294.4h0.9v0.9h-0.9zM311.5 293.0h0.9v0.9h-0.9zM309.4 295.5h0.9v0.9h-0.9zM311.6 299.1h0.9v0.9h-0.9zM311.6 295.0h0.9v0.9h-0.9zM311.9 296.3h0.9v0.9h-0.9zM310.4 292.7h0.9v0.9h-0.9zM312.1 293.9h0.9v0.9h-0.9zM308.2 291.7h0.9v0.9h-0.9zM310.2 296.9h0.9v0.9h-0.9zM311.9 294.9h0.9v0.9h-0.9zM312.9 293.3h0.9v0.9h-0.9zM310.1 297.5h0.9v0.9h-0.9zM312.1 294.3h0.9v0.9h-0.9zM313.3 290.3h0.9v0.9h-0.9zM311.2 298.6h0.9v0.9h-0.9zM313.3 291.9h0.9v0.9h-0.9zM312.8 295.3h0.9v0.9h-0.9zM313.6 293.3h0.9v0.9h-0.9zM312.0 296.4h0.9v0.9h-0.9z" fill="#7a8fd8"/>
<text x="274.80" y="262.20" font-size="5.6" stroke="#222" stroke-width="0.15" fill="#222" textLength="9.60" lengthAdjust="spacingAndGlyphs">LPS</text>
<text x="278.00" y="299.60" font-size="5.6" stroke="#222" stroke-width="0.15" fill="#222" textLength="20.30" lengthAdjust="spacingAndGlyphs">L+PGE2</text>
<text x="274.20" y="337.50" font-size="5.6" stroke="#222" stroke-width="0.15" fill="#222" textLength="15.20" lengthAdjust="spacingAndGlyphs">L+Ado</text>
<text x="357.00" y="284.60" font-size="5.6" stroke="#222" stroke-width="0.12" fill="#222" textLength="28.40" lengthAdjust="spacingAndGlyphs">Unstimulated</text>
<line x1="257.00" y1="232.50" x2="257.00" y2="368.40" stroke="#3a3a3a" stroke-width="1.3"/>
<line x1="256.40" y1="367.90" x2="396.50" y2="367.90" stroke="#3a3a3a" stroke-width="1.3"/>
<line x1="254.30" y1="259.66" x2="257.00" y2="259.66" stroke="#333" stroke-width="0.9"/>
<text x="251.40" y="261.91" font-size="6.3" stroke="#333" stroke-width="0.12" text-anchor="end" fill="#333">3</text>
<line x1="254.30" y1="294.10" x2="257.00" y2="294.10" stroke="#333" stroke-width="0.9"/>
<text x="251.40" y="296.35" font-size="6.3" stroke="#333" stroke-width="0.12" text-anchor="end" fill="#333">0</text>
<line x1="254.30" y1="328.54" x2="257.00" y2="328.54" stroke="#333" stroke-width="0.9"/>
<text x="251.40" y="330.79" font-size="6.3" stroke="#333" stroke-width="0.12" text-anchor="end" fill="#333">−3</text>
<line x1="254.30" y1="362.98" x2="257.00" y2="362.98" stroke="#333" stroke-width="0.9"/>
<text x="251.40" y="365.23" font-size="6.3" stroke="#333" stroke-width="0.12" text-anchor="end" fill="#333">−6</text>
<line x1="272.10" y1="367.90" x2="272.10" y2="370.60" stroke="#333" stroke-width="0.9"/>
<text x="272.10" y="379.80" font-size="6.3" stroke="#333" stroke-width="0.12" text-anchor="middle" fill="#333">−5</text>
<line x1="310.70" y1="367.90" x2="310.70" y2="370.60" stroke="#333" stroke-width="0.9"/>
<text x="310.70" y="379.80" font-size="6.3" stroke="#333" stroke-width="0.12" text-anchor="middle" fill="#333">0</text>
<line x1="349.30" y1="367.90" x2="349.30" y2="370.60" stroke="#333" stroke-width="0.9"/>
<text x="349.30" y="379.80" font-size="6.3" stroke="#333" stroke-width="0.12" text-anchor="middle" fill="#333">5</text>
<line x1="387.90" y1="367.90" x2="387.90" y2="370.60" stroke="#333" stroke-width="0.9"/>
<text x="387.90" y="379.80" font-size="6.3" stroke="#333" stroke-width="0.12" text-anchor="middle" fill="#333">10</text>
<text x="315.80" y="391.00" font-size="7.2" stroke="#222" stroke-width="0.4" fill="#222" textLength="22.90" lengthAdjust="spacingAndGlyphs">UMAP_1</text>
<text x="238.60" y="311.80" font-size="7.4" stroke="#222" stroke-width="0.4" fill="#222" textLength="22.90" lengthAdjust="spacingAndGlyphs" transform="rotate(-90 238.60 311.80)">UMAP_2</text>
<circle cx="355.2" cy="329.4" r="1.6" fill="#b8123a"/>
<text x="359.90" y="331.20" font-size="5.0" stroke="#333" stroke-width="0.22" fill="#333" textLength="15.10" lengthAdjust="spacingAndGlyphs">L+Ado</text>
<circle cx="355.2" cy="337.9" r="1.6" fill="#66aa3c"/>
<text x="359.90" y="339.70" font-size="5.0" stroke="#333" stroke-width="0.22" fill="#333" textLength="19.80" lengthAdjust="spacingAndGlyphs">L+PGE2</text>
<circle cx="355.2" cy="346.9" r="1.6" fill="#62a8e6"/>
<text x="359.90" y="348.70" font-size="5.0" stroke="#333" stroke-width="0.22" fill="#333" textLength="9.00" lengthAdjust="spacingAndGlyphs">LPS</text>
<circle cx="355.2" cy="355.4" r="1.6" fill="#8482cc"/>
<text x="359.90" y="357.20" font-size="5.0" stroke="#333" stroke-width="0.22" fill="#333" textLength="28.60" lengthAdjust="spacingAndGlyphs">Unstimulated</text>
<rect x="29.50" y="460.75" width="2.25" height="91.35" fill="#62a8e6"/>
<line x1="30.62" y1="460.75" x2="30.62" y2="450.83" stroke="#333" stroke-width="0.75"/>
<line x1="29.80" y1="450.83" x2="31.45" y2="450.83" stroke="#333" stroke-width="0.9"/>
<rect x="32.45" y="453.96" width="2.25" height="98.14" fill="#62a63b"/>
<line x1="33.58" y1="453.96" x2="33.58" y2="443.70" stroke="#333" stroke-width="0.75"/>
<line x1="32.75" y1="443.70" x2="34.40" y2="443.70" stroke="#333" stroke-width="0.9"/>
<rect x="36.91" y="476.06" width="2.25" height="76.04" fill="#62a8e6"/>
<line x1="38.04" y1="476.06" x2="38.04" y2="468.06" stroke="#333" stroke-width="0.75"/>
<line x1="37.21" y1="468.06" x2="38.87" y2="468.06" stroke="#333" stroke-width="0.9"/>
<rect x="39.87" y="469.28" width="2.25" height="82.82" fill="#62a63b"/>
<line x1="40.99" y1="469.28" x2="40.99" y2="461.10" stroke="#333" stroke-width="0.75"/>
<line x1="40.16" y1="461.10" x2="41.82" y2="461.10" stroke="#333" stroke-width="0.9"/>
<rect x="44.33" y="480.41" width="2.25" height="71.69" fill="#62a8e6"/>
<line x1="45.45" y1="480.41" x2="45.45" y2="465.10" stroke="#333" stroke-width="0.75"/>
<line x1="44.63" y1="465.10" x2="46.28" y2="465.10" stroke="#333" stroke-width="0.9"/>
<rect x="47.28" y="481.80" width="2.25" height="70.30" fill="#62a63b"/>
<line x1="48.41" y1="481.80" x2="48.41" y2="466.32" stroke="#333" stroke-width="0.75"/>
<line x1="47.58" y1="466.32" x2="49.23" y2="466.32" stroke="#333" stroke-width="0.9"/>
<rect x="51.74" y="474.50" width="2.25" height="77.60" fill="#62a8e6"/>
<line x1="52.87" y1="474.50" x2="52.87" y2="467.19" stroke="#333" stroke-width="0.75"/>
<line x1="52.04" y1="467.19" x2="53.70" y2="467.19" stroke="#333" stroke-width="0.9"/>
<rect x="54.70" y="494.68" width="2.25" height="57.42" fill="#62a63b"/>
<line x1="55.82" y1="494.68" x2="55.82" y2="487.20" stroke="#333" stroke-width="0.75"/>
<line x1="54.99" y1="487.20" x2="56.65" y2="487.20" stroke="#333" stroke-width="0.9"/>
<rect x="59.16" y="473.80" width="2.25" height="78.30" fill="#62a8e6"/>
<line x1="60.29" y1="473.80" x2="60.29" y2="466.67" stroke="#333" stroke-width="0.75"/>
<line x1="59.46" y1="466.67" x2="61.11" y2="466.67" stroke="#333" stroke-width="0.9"/>
<rect x="62.11" y="510.69" width="2.25" height="41.41" fill="#62a63b"/>
<line x1="63.24" y1="510.69" x2="63.24" y2="502.86" stroke="#333" stroke-width="0.75"/>
<line x1="62.41" y1="502.86" x2="64.06" y2="502.86" stroke="#333" stroke-width="0.9"/>
<rect x="66.58" y="467.19" width="2.25" height="84.91" fill="#62a8e6"/>
<line x1="67.70" y1="467.19" x2="67.70" y2="457.27" stroke="#333" stroke-width="0.75"/>
<line x1="66.88" y1="457.27" x2="68.53" y2="457.27" stroke="#333" stroke-width="0.9"/>
<rect x="69.53" y="517.82" width="2.25" height="34.28" fill="#62a63b"/>
<line x1="70.65" y1="517.82" x2="70.65" y2="507.90" stroke="#333" stroke-width="0.75"/>
<line x1="69.83" y1="507.90" x2="71.48" y2="507.90" stroke="#333" stroke-width="0.9"/>
<rect x="73.99" y="480.41" width="2.25" height="71.69" fill="#62a8e6"/>
<line x1="75.12" y1="480.41" x2="75.12" y2="470.15" stroke="#333" stroke-width="0.75"/>
<line x1="74.29" y1="470.15" x2="75.94" y2="470.15" stroke="#333" stroke-width="0.9"/>
<rect x="76.94" y="505.64" width="2.25" height="46.46" fill="#62a63b"/>
<line x1="78.06" y1="505.64" x2="78.06" y2="494.68" stroke="#333" stroke-width="0.75"/>
<line x1="77.24" y1="494.68" x2="78.89" y2="494.68" stroke="#333" stroke-width="0.9"/>
<rect x="81.41" y="499.90" width="2.25" height="52.20" fill="#62a8e6"/>
<line x1="82.53" y1="499.90" x2="82.53" y2="489.63" stroke="#333" stroke-width="0.75"/>
<line x1="81.70" y1="489.63" x2="83.36" y2="489.63" stroke="#333" stroke-width="0.9"/>
<rect x="84.35" y="488.76" width="2.25" height="63.34" fill="#62a63b"/>
<line x1="85.48" y1="488.76" x2="85.48" y2="477.98" stroke="#333" stroke-width="0.75"/>
<line x1="84.65" y1="477.98" x2="86.30" y2="477.98" stroke="#333" stroke-width="0.9"/>
<rect x="88.82" y="479.72" width="2.25" height="72.38" fill="#62a8e6"/>
<line x1="89.95" y1="479.72" x2="89.95" y2="473.97" stroke="#333" stroke-width="0.75"/>
<line x1="89.12" y1="473.97" x2="90.77" y2="473.97" stroke="#333" stroke-width="0.9"/>
<rect x="91.77" y="511.21" width="2.25" height="40.89" fill="#62a63b"/>
<line x1="92.89" y1="511.21" x2="92.89" y2="505.99" stroke="#333" stroke-width="0.75"/>
<line x1="92.07" y1="505.99" x2="93.72" y2="505.99" stroke="#333" stroke-width="0.9"/>
<rect x="96.24" y="501.64" width="2.25" height="50.46" fill="#62a8e6"/>
<line x1="97.36" y1="501.64" x2="97.36" y2="491.20" stroke="#333" stroke-width="0.75"/>
<line x1="96.54" y1="491.20" x2="98.19" y2="491.20" stroke="#333" stroke-width="0.9"/>
<rect x="99.19" y="493.98" width="2.25" height="58.12" fill="#62a63b"/>
<line x1="100.31" y1="493.98" x2="100.31" y2="483.72" stroke="#333" stroke-width="0.75"/>
<line x1="99.48" y1="483.72" x2="101.14" y2="483.72" stroke="#333" stroke-width="0.9"/>
<rect x="103.65" y="502.16" width="2.25" height="49.94" fill="#62a8e6"/>
<line x1="104.78" y1="502.16" x2="104.78" y2="495.55" stroke="#333" stroke-width="0.75"/>
<line x1="103.95" y1="495.55" x2="105.60" y2="495.55" stroke="#333" stroke-width="0.9"/>
<rect x="106.60" y="501.81" width="2.25" height="50.29" fill="#62a63b"/>
<line x1="107.72" y1="501.81" x2="107.72" y2="495.20" stroke="#333" stroke-width="0.75"/>
<line x1="106.90" y1="495.20" x2="108.55" y2="495.20" stroke="#333" stroke-width="0.9"/>
<rect x="111.06" y="497.29" width="2.25" height="54.81" fill="#62a8e6"/>
<line x1="112.19" y1="497.29" x2="112.19" y2="487.55" stroke="#333" stroke-width="0.75"/>
<line x1="111.36" y1="487.55" x2="113.02" y2="487.55" stroke="#333" stroke-width="0.9"/>
<rect x="114.01" y="512.25" width="2.25" height="39.85" fill="#62a63b"/>
<line x1="115.14" y1="512.25" x2="115.14" y2="502.51" stroke="#333" stroke-width="0.75"/>
<line x1="114.31" y1="502.51" x2="115.96" y2="502.51" stroke="#333" stroke-width="0.9"/>
<rect x="118.48" y="506.16" width="2.25" height="45.94" fill="#62a8e6"/>
<line x1="119.61" y1="506.16" x2="119.61" y2="501.81" stroke="#333" stroke-width="0.75"/>
<line x1="118.78" y1="501.81" x2="120.43" y2="501.81" stroke="#333" stroke-width="0.9"/>
<rect x="121.43" y="504.08" width="2.25" height="48.02" fill="#62a63b"/>
<line x1="122.56" y1="504.08" x2="122.56" y2="499.55" stroke="#333" stroke-width="0.75"/>
<line x1="121.73" y1="499.55" x2="123.38" y2="499.55" stroke="#333" stroke-width="0.9"/>
<rect x="125.90" y="499.55" width="2.25" height="52.55" fill="#62a8e6"/>
<line x1="127.02" y1="499.55" x2="127.02" y2="489.46" stroke="#333" stroke-width="0.75"/>
<line x1="126.20" y1="489.46" x2="127.85" y2="489.46" stroke="#333" stroke-width="0.9"/>
<rect x="128.84" y="515.39" width="2.25" height="36.71" fill="#62a63b"/>
<line x1="129.97" y1="515.39" x2="129.97" y2="504.77" stroke="#333" stroke-width="0.75"/>
<line x1="129.15" y1="504.77" x2="130.79" y2="504.77" stroke="#333" stroke-width="0.9"/>
<rect x="133.31" y="508.77" width="2.25" height="43.33" fill="#62a8e6"/>
<line x1="134.44" y1="508.77" x2="134.44" y2="502.68" stroke="#333" stroke-width="0.75"/>
<line x1="133.61" y1="502.68" x2="135.26" y2="502.68" stroke="#333" stroke-width="0.9"/>
<rect x="136.26" y="509.12" width="2.25" height="42.98" fill="#62a63b"/>
<line x1="137.38" y1="509.12" x2="137.38" y2="503.03" stroke="#333" stroke-width="0.75"/>
<line x1="136.56" y1="503.03" x2="138.21" y2="503.03" stroke="#333" stroke-width="0.9"/>
<rect x="140.72" y="503.21" width="2.25" height="48.89" fill="#62a8e6"/>
<line x1="141.85" y1="503.21" x2="141.85" y2="497.64" stroke="#333" stroke-width="0.75"/>
<line x1="141.03" y1="497.64" x2="142.67" y2="497.64" stroke="#333" stroke-width="0.9"/>
<rect x="143.67" y="516.78" width="2.25" height="35.32" fill="#62a63b"/>
<line x1="144.80" y1="516.78" x2="144.80" y2="511.04" stroke="#333" stroke-width="0.75"/>
<line x1="143.97" y1="511.04" x2="145.62" y2="511.04" stroke="#333" stroke-width="0.9"/>
<rect x="148.14" y="509.47" width="2.25" height="42.63" fill="#62a8e6"/>
<line x1="149.27" y1="509.47" x2="149.27" y2="504.08" stroke="#333" stroke-width="0.75"/>
<line x1="148.44" y1="504.08" x2="150.09" y2="504.08" stroke="#333" stroke-width="0.9"/>
<rect x="151.09" y="515.04" width="2.25" height="37.06" fill="#62a63b"/>
<line x1="152.22" y1="515.04" x2="152.22" y2="509.64" stroke="#333" stroke-width="0.75"/>
<line x1="151.39" y1="509.64" x2="153.04" y2="509.64" stroke="#333" stroke-width="0.9"/>
<rect x="155.56" y="504.42" width="2.25" height="47.68" fill="#62a8e6"/>
<line x1="156.68" y1="504.42" x2="156.68" y2="496.42" stroke="#333" stroke-width="0.75"/>
<line x1="155.86" y1="496.42" x2="157.50" y2="496.42" stroke="#333" stroke-width="0.9"/>
<rect x="158.50" y="519.56" width="2.25" height="32.54" fill="#62a63b"/>
<line x1="159.63" y1="519.56" x2="159.63" y2="511.04" stroke="#333" stroke-width="0.75"/>
<line x1="158.81" y1="511.04" x2="160.45" y2="511.04" stroke="#333" stroke-width="0.9"/>
<rect x="162.97" y="513.82" width="2.25" height="38.28" fill="#62a8e6"/>
<line x1="164.09" y1="513.82" x2="164.09" y2="505.64" stroke="#333" stroke-width="0.75"/>
<line x1="163.27" y1="505.64" x2="164.92" y2="505.64" stroke="#333" stroke-width="0.9"/>
<rect x="165.92" y="510.69" width="2.25" height="41.41" fill="#62a63b"/>
<line x1="167.04" y1="510.69" x2="167.04" y2="502.16" stroke="#333" stroke-width="0.75"/>
<line x1="166.22" y1="502.16" x2="167.87" y2="502.16" stroke="#333" stroke-width="0.9"/>
<rect x="170.38" y="518.34" width="2.25" height="33.76" fill="#62a8e6"/>
<line x1="171.51" y1="518.34" x2="171.51" y2="506.86" stroke="#333" stroke-width="0.75"/>
<line x1="170.69" y1="506.86" x2="172.33" y2="506.86" stroke="#333" stroke-width="0.9"/>
<rect x="173.33" y="506.16" width="2.25" height="45.94" fill="#62a63b"/>
<line x1="174.46" y1="506.16" x2="174.46" y2="495.03" stroke="#333" stroke-width="0.75"/>
<line x1="173.63" y1="495.03" x2="175.28" y2="495.03" stroke="#333" stroke-width="0.9"/>
<line x1="28.50" y1="428.00" x2="28.50" y2="552.70" stroke="#111" stroke-width="1.1"/>
<line x1="28.00" y1="552.10" x2="178.70" y2="552.10" stroke="#111" stroke-width="1.1"/>
<line x1="25.80" y1="552.10" x2="28.50" y2="552.10" stroke="#111" stroke-width="0.9"/>
<text x="22.40" y="554.35" font-size="6.4" stroke="#333" stroke-width="0.12" text-anchor="end" fill="#333">0</text>
<line x1="25.80" y1="534.70" x2="28.50" y2="534.70" stroke="#111" stroke-width="0.9"/>
<text x="22.40" y="536.95" font-size="6.4" stroke="#333" stroke-width="0.12" text-anchor="end" fill="#333">1</text>
<line x1="25.80" y1="517.30" x2="28.50" y2="517.30" stroke="#111" stroke-width="0.9"/>
<text x="22.40" y="519.55" font-size="6.4" stroke="#333" stroke-width="0.12" text-anchor="end" fill="#333">2</text>
<line x1="25.80" y1="499.90" x2="28.50" y2="499.90" stroke="#111" stroke-width="0.9"/>
<text x="22.40" y="502.15" font-size="6.4" stroke="#333" stroke-width="0.12" text-anchor="end" fill="#333">3</text>
<line x1="25.80" y1="482.50" x2="28.50" y2="482.50" stroke="#111" stroke-width="0.9"/>
<text x="22.40" y="484.75" font-size="6.4" stroke="#333" stroke-width="0.12" text-anchor="end" fill="#333">4</text>
<line x1="25.80" y1="465.10" x2="28.50" y2="465.10" stroke="#111" stroke-width="0.9"/>
<text x="22.40" y="467.35" font-size="6.4" stroke="#333" stroke-width="0.12" text-anchor="end" fill="#333">5</text>
<line x1="25.80" y1="447.70" x2="28.50" y2="447.70" stroke="#111" stroke-width="0.9"/>
<text x="22.40" y="449.95" font-size="6.4" stroke="#333" stroke-width="0.12" text-anchor="end" fill="#333">6</text>
<line x1="25.80" y1="430.30" x2="28.50" y2="430.30" stroke="#111" stroke-width="0.9"/>
<text x="22.40" y="432.55" font-size="6.4" stroke="#333" stroke-width="0.12" text-anchor="end" fill="#333">7</text>
<line x1="32.10" y1="552.10" x2="32.10" y2="555.10" stroke="#111" stroke-width="0.9"/>
<line x1="39.52" y1="552.10" x2="39.52" y2="555.10" stroke="#111" stroke-width="0.9"/>
<line x1="46.93" y1="552.10" x2="46.93" y2="555.10" stroke="#111" stroke-width="0.9"/>
<line x1="54.34" y1="552.10" x2="54.34" y2="555.10" stroke="#111" stroke-width="0.9"/>
<line x1="61.76" y1="552.10" x2="61.76" y2="555.10" stroke="#111" stroke-width="0.9"/>
<line x1="69.18" y1="552.10" x2="69.18" y2="555.10" stroke="#111" stroke-width="0.9"/>
<line x1="76.59" y1="552.10" x2="76.59" y2="555.10" stroke="#111" stroke-width="0.9"/>
<line x1="84.00" y1="552.10" x2="84.00" y2="555.10" stroke="#111" stroke-width="0.9"/>
<line x1="91.42" y1="552.10" x2="91.42" y2="555.10" stroke="#111" stroke-width="0.9"/>
<line x1="98.84" y1="552.10" x2="98.84" y2="555.10" stroke="#111" stroke-width="0.9"/>
<line x1="106.25" y1="552.10" x2="106.25" y2="555.10" stroke="#111" stroke-width="0.9"/>
<line x1="113.66" y1="552.10" x2="113.66" y2="555.10" stroke="#111" stroke-width="0.9"/>
<line x1="121.08" y1="552.10" x2="121.08" y2="555.10" stroke="#111" stroke-width="0.9"/>
<line x1="128.50" y1="552.10" x2="128.50" y2="555.10" stroke="#111" stroke-width="0.9"/>
<line x1="135.91" y1="552.10" x2="135.91" y2="555.10" stroke="#111" stroke-width="0.9"/>
<line x1="143.32" y1="552.10" x2="143.32" y2="555.10" stroke="#111" stroke-width="0.9"/>
<line x1="150.74" y1="552.10" x2="150.74" y2="555.10" stroke="#111" stroke-width="0.9"/>
<line x1="158.16" y1="552.10" x2="158.16" y2="555.10" stroke="#111" stroke-width="0.9"/>
<line x1="165.57" y1="552.10" x2="165.57" y2="555.10" stroke="#111" stroke-width="0.9"/>
<line x1="172.98" y1="552.10" x2="172.98" y2="555.10" stroke="#111" stroke-width="0.9"/>
<text x="33.70" y="562.80" font-size="6.2" stroke="#a19de0" stroke-width="0.15" text-anchor="end" fill="#a19de0" transform="rotate(-45 33.70 562.80)">LYPD3</text>
<text x="41.12" y="562.80" font-size="6.2" stroke="#222" stroke-width="0.15" text-anchor="end" fill="#222" transform="rotate(-45 41.12 562.80)">IGLON5</text>
<text x="48.53" y="562.80" font-size="6.2" stroke="#a19de0" stroke-width="0.15" text-anchor="end" fill="#a19de0" transform="rotate(-45 48.53 562.80)">LIPN</text>
<text x="55.95" y="562.80" font-size="6.2" stroke="#222" stroke-width="0.15" text-anchor="end" fill="#222" transform="rotate(-45 55.95 562.80)">KBTBD11</text>
<text x="63.36" y="562.80" font-size="6.2" stroke="#a19de0" stroke-width="0.15" text-anchor="end" fill="#a19de0" transform="rotate(-45 63.36 562.80)">AREG</text>
<text x="70.78" y="562.80" font-size="6.2" stroke="#a19de0" stroke-width="0.15" text-anchor="end" fill="#a19de0" transform="rotate(-45 70.78 562.80)">ACKR3</text>
<text x="78.19" y="562.80" font-size="6.2" stroke="#222" stroke-width="0.15" text-anchor="end" fill="#222" transform="rotate(-45 78.19 562.80)">GNG4</text>
<text x="85.60" y="562.80" font-size="6.2" stroke="#a19de0" stroke-width="0.15" text-anchor="end" fill="#a19de0" transform="rotate(-45 85.60 562.80)">KRT17</text>
<text x="93.02" y="562.80" font-size="6.2" stroke="#a19de0" stroke-width="0.15" text-anchor="end" fill="#a19de0" transform="rotate(-45 93.02 562.80)">CXCR4</text>
<text x="100.44" y="562.80" font-size="6.2" stroke="#a19de0" stroke-width="0.15" text-anchor="end" fill="#a19de0" transform="rotate(-45 100.44 562.80)">ADAMTS17</text>
<text x="107.85" y="562.80" font-size="6.2" stroke="#222" stroke-width="0.15" text-anchor="end" fill="#222" transform="rotate(-45 107.85 562.80)">CMSS1</text>
<text x="115.26" y="562.80" font-size="6.2" stroke="#222" stroke-width="0.15" text-anchor="end" fill="#222" transform="rotate(-45 115.26 562.80)">ALPK2</text>
<text x="122.68" y="562.80" font-size="6.2" stroke="#222" stroke-width="0.15" text-anchor="end" fill="#222" transform="rotate(-45 122.68 562.80)">CREM</text>
<text x="130.09" y="562.80" font-size="6.2" stroke="#a19de0" stroke-width="0.15" text-anchor="end" fill="#a19de0" transform="rotate(-45 130.09 562.80)">THBS1</text>
<text x="137.51" y="562.80" font-size="6.2" stroke="#222" stroke-width="0.15" text-anchor="end" fill="#222" transform="rotate(-45 137.51 562.80)">THAP2</text>
<text x="144.92" y="562.80" font-size="6.2" stroke="#222" stroke-width="0.15" text-anchor="end" fill="#222" transform="rotate(-45 144.92 562.80)">CRLF2</text>
<text x="152.34" y="562.80" font-size="6.2" stroke="#a19de0" stroke-width="0.15" text-anchor="end" fill="#a19de0" transform="rotate(-45 152.34 562.80)">CRISPLD2</text>
<text x="159.75" y="562.80" font-size="6.2" stroke="#a19de0" stroke-width="0.15" text-anchor="end" fill="#a19de0" transform="rotate(-45 159.75 562.80)">PRAF3</text>
<text x="167.17" y="562.80" font-size="6.2" stroke="#222" stroke-width="0.15" text-anchor="end" fill="#222" transform="rotate(-45 167.17 562.80)">COBL</text>
<text x="174.58" y="562.80" font-size="6.2" stroke="#222" stroke-width="0.15" text-anchor="end" fill="#222" transform="rotate(-45 174.58 562.80)">GPR3</text>
<text x="12.8" y="520.8" font-size="7.2" fill="#222" stroke="#222" stroke-width="0.3" textLength="58.7" lengthAdjust="spacingAndGlyphs" transform="rotate(-90 12.8 520.8)">Log<tspan font-size="5" dy="1.5">2</tspan><tspan dy="-1.5">(fold change/LPS)</tspan></text>
<rect x="212.20" y="430.20" width="2.25" height="91.69" fill="#62a8e6"/>
<line x1="213.33" y1="521.89" x2="213.33" y2="535.38" stroke="#333" stroke-width="0.75"/>
<line x1="212.50" y1="535.38" x2="214.15" y2="535.38" stroke="#333" stroke-width="0.9"/>
<rect x="215.15" y="430.20" width="2.25" height="79.58" fill="#62a63b"/>
<line x1="216.28" y1="509.78" x2="216.28" y2="521.54" stroke="#333" stroke-width="0.75"/>
<line x1="215.45" y1="521.54" x2="217.10" y2="521.54" stroke="#333" stroke-width="0.9"/>
<rect x="219.61" y="430.20" width="2.25" height="74.22" fill="#62a8e6"/>
<line x1="220.74" y1="504.42" x2="220.74" y2="517.56" stroke="#333" stroke-width="0.75"/>
<line x1="219.91" y1="517.56" x2="221.56" y2="517.56" stroke="#333" stroke-width="0.9"/>
<rect x="222.56" y="430.20" width="2.25" height="59.69" fill="#62a63b"/>
<line x1="223.69" y1="489.88" x2="223.69" y2="500.61" stroke="#333" stroke-width="0.75"/>
<line x1="222.86" y1="500.61" x2="224.51" y2="500.61" stroke="#333" stroke-width="0.9"/>
<rect x="227.02" y="430.20" width="2.25" height="73.53" fill="#62a8e6"/>
<line x1="228.15" y1="503.73" x2="228.15" y2="513.41" stroke="#333" stroke-width="0.75"/>
<line x1="227.32" y1="513.41" x2="228.97" y2="513.41" stroke="#333" stroke-width="0.9"/>
<rect x="229.97" y="430.20" width="2.25" height="56.05" fill="#62a63b"/>
<line x1="231.09" y1="486.25" x2="231.09" y2="495.25" stroke="#333" stroke-width="0.75"/>
<line x1="230.27" y1="495.25" x2="231.92" y2="495.25" stroke="#333" stroke-width="0.9"/>
<rect x="234.43" y="430.20" width="2.25" height="71.62" fill="#62a8e6"/>
<line x1="235.56" y1="501.82" x2="235.56" y2="511.51" stroke="#333" stroke-width="0.75"/>
<line x1="234.73" y1="511.51" x2="236.38" y2="511.51" stroke="#333" stroke-width="0.9"/>
<rect x="237.38" y="430.20" width="2.25" height="47.75" fill="#62a63b"/>
<line x1="238.50" y1="477.95" x2="238.50" y2="485.73" stroke="#333" stroke-width="0.75"/>
<line x1="237.68" y1="485.73" x2="239.33" y2="485.73" stroke="#333" stroke-width="0.9"/>
<rect x="241.84" y="430.20" width="2.25" height="66.43" fill="#62a8e6"/>
<line x1="242.97" y1="496.63" x2="242.97" y2="504.24" stroke="#333" stroke-width="0.75"/>
<line x1="242.14" y1="504.24" x2="243.79" y2="504.24" stroke="#333" stroke-width="0.9"/>
<rect x="244.79" y="430.20" width="2.25" height="42.56" fill="#62a63b"/>
<line x1="245.91" y1="472.76" x2="245.91" y2="480.20" stroke="#333" stroke-width="0.75"/>
<line x1="245.09" y1="480.20" x2="246.74" y2="480.20" stroke="#333" stroke-width="0.9"/>
<rect x="249.25" y="430.20" width="2.25" height="51.21" fill="#62a8e6"/>
<line x1="250.38" y1="481.41" x2="250.38" y2="490.40" stroke="#333" stroke-width="0.75"/>
<line x1="249.55" y1="490.40" x2="251.20" y2="490.40" stroke="#333" stroke-width="0.9"/>
<rect x="252.20" y="430.20" width="2.25" height="52.42" fill="#62a63b"/>
<line x1="253.33" y1="482.62" x2="253.33" y2="491.44" stroke="#333" stroke-width="0.75"/>
<line x1="252.50" y1="491.44" x2="254.15" y2="491.44" stroke="#333" stroke-width="0.9"/>
<rect x="256.66" y="430.20" width="2.25" height="60.55" fill="#62a8e6"/>
<line x1="257.78" y1="490.75" x2="257.78" y2="498.88" stroke="#333" stroke-width="0.75"/>
<line x1="256.96" y1="498.88" x2="258.61" y2="498.88" stroke="#333" stroke-width="0.9"/>
<rect x="259.61" y="430.20" width="2.25" height="39.79" fill="#62a63b"/>
<line x1="260.74" y1="469.99" x2="260.74" y2="477.43" stroke="#333" stroke-width="0.75"/>
<line x1="259.91" y1="477.43" x2="261.56" y2="477.43" stroke="#333" stroke-width="0.9"/>
<rect x="264.07" y="430.20" width="2.25" height="57.09" fill="#62a8e6"/>
<line x1="265.19" y1="487.29" x2="265.19" y2="496.29" stroke="#333" stroke-width="0.75"/>
<line x1="264.37" y1="496.29" x2="266.02" y2="496.29" stroke="#333" stroke-width="0.9"/>
<rect x="267.02" y="430.20" width="2.25" height="38.41" fill="#62a63b"/>
<line x1="268.15" y1="468.61" x2="268.15" y2="475.87" stroke="#333" stroke-width="0.75"/>
<line x1="267.32" y1="475.87" x2="268.97" y2="475.87" stroke="#333" stroke-width="0.9"/>
<rect x="271.48" y="430.20" width="2.25" height="43.77" fill="#62a8e6"/>
<line x1="272.61" y1="473.97" x2="272.61" y2="485.56" stroke="#333" stroke-width="0.75"/>
<line x1="271.78" y1="485.56" x2="273.43" y2="485.56" stroke="#333" stroke-width="0.9"/>
<rect x="274.43" y="430.20" width="2.25" height="43.77" fill="#62a63b"/>
<line x1="275.56" y1="473.97" x2="275.56" y2="486.08" stroke="#333" stroke-width="0.75"/>
<line x1="274.73" y1="486.08" x2="276.38" y2="486.08" stroke="#333" stroke-width="0.9"/>
<rect x="278.89" y="430.20" width="2.25" height="60.03" fill="#62a8e6"/>
<line x1="280.01" y1="490.23" x2="280.01" y2="497.15" stroke="#333" stroke-width="0.75"/>
<line x1="279.19" y1="497.15" x2="280.84" y2="497.15" stroke="#333" stroke-width="0.9"/>
<rect x="281.84" y="430.20" width="2.25" height="27.33" fill="#62a63b"/>
<line x1="282.97" y1="457.53" x2="282.97" y2="463.07" stroke="#333" stroke-width="0.75"/>
<line x1="282.14" y1="463.07" x2="283.79" y2="463.07" stroke="#333" stroke-width="0.9"/>
<rect x="286.30" y="430.20" width="2.25" height="52.25" fill="#62a8e6"/>
<line x1="287.42" y1="482.45" x2="287.42" y2="487.29" stroke="#333" stroke-width="0.75"/>
<line x1="286.60" y1="487.29" x2="288.25" y2="487.29" stroke="#333" stroke-width="0.9"/>
<rect x="289.25" y="430.20" width="2.25" height="34.08" fill="#62a63b"/>
<line x1="290.38" y1="464.28" x2="290.38" y2="469.47" stroke="#333" stroke-width="0.75"/>
<line x1="289.55" y1="469.47" x2="291.20" y2="469.47" stroke="#333" stroke-width="0.9"/>
<rect x="293.71" y="430.20" width="2.25" height="47.23" fill="#62a8e6"/>
<line x1="294.83" y1="477.43" x2="294.83" y2="483.31" stroke="#333" stroke-width="0.75"/>
<line x1="294.01" y1="483.31" x2="295.66" y2="483.31" stroke="#333" stroke-width="0.9"/>
<rect x="296.66" y="430.20" width="2.25" height="38.58" fill="#62a63b"/>
<line x1="297.79" y1="468.78" x2="297.79" y2="474.49" stroke="#333" stroke-width="0.75"/>
<line x1="296.96" y1="474.49" x2="298.61" y2="474.49" stroke="#333" stroke-width="0.9"/>
<rect x="301.12" y="430.20" width="2.25" height="42.73" fill="#62a8e6"/>
<line x1="302.25" y1="472.93" x2="302.25" y2="480.54" stroke="#333" stroke-width="0.75"/>
<line x1="301.42" y1="480.54" x2="303.07" y2="480.54" stroke="#333" stroke-width="0.9"/>
<rect x="304.07" y="430.20" width="2.25" height="40.66" fill="#62a63b"/>
<line x1="305.20" y1="470.86" x2="305.20" y2="478.64" stroke="#333" stroke-width="0.75"/>
<line x1="304.37" y1="478.64" x2="306.02" y2="478.64" stroke="#333" stroke-width="0.9"/>
<rect x="308.53" y="430.20" width="2.25" height="39.27" fill="#62a8e6"/>
<line x1="309.65" y1="469.47" x2="309.65" y2="479.85" stroke="#333" stroke-width="0.75"/>
<line x1="308.83" y1="479.85" x2="310.48" y2="479.85" stroke="#333" stroke-width="0.9"/>
<rect x="311.48" y="430.20" width="2.25" height="43.77" fill="#62a63b"/>
<line x1="312.61" y1="473.97" x2="312.61" y2="484.35" stroke="#333" stroke-width="0.75"/>
<line x1="311.78" y1="484.35" x2="313.43" y2="484.35" stroke="#333" stroke-width="0.9"/>
<rect x="315.94" y="430.20" width="2.25" height="50.34" fill="#62a8e6"/>
<line x1="317.06" y1="480.54" x2="317.06" y2="486.60" stroke="#333" stroke-width="0.75"/>
<line x1="316.24" y1="486.60" x2="317.89" y2="486.60" stroke="#333" stroke-width="0.9"/>
<rect x="318.89" y="430.20" width="2.25" height="31.14" fill="#62a63b"/>
<line x1="320.02" y1="461.34" x2="320.02" y2="466.53" stroke="#333" stroke-width="0.75"/>
<line x1="319.19" y1="466.53" x2="320.84" y2="466.53" stroke="#333" stroke-width="0.9"/>
<rect x="323.35" y="430.20" width="2.25" height="47.23" fill="#62a8e6"/>
<line x1="324.48" y1="477.43" x2="324.48" y2="482.62" stroke="#333" stroke-width="0.75"/>
<line x1="323.65" y1="482.62" x2="325.30" y2="482.62" stroke="#333" stroke-width="0.9"/>
<rect x="326.30" y="430.20" width="2.25" height="32.87" fill="#62a63b"/>
<line x1="327.43" y1="463.07" x2="327.43" y2="468.26" stroke="#333" stroke-width="0.75"/>
<line x1="326.60" y1="468.26" x2="328.25" y2="468.26" stroke="#333" stroke-width="0.9"/>
<rect x="330.76" y="430.20" width="2.25" height="38.93" fill="#62a8e6"/>
<line x1="331.88" y1="469.12" x2="331.88" y2="475.53" stroke="#333" stroke-width="0.75"/>
<line x1="331.06" y1="475.53" x2="332.71" y2="475.53" stroke="#333" stroke-width="0.9"/>
<rect x="333.71" y="430.20" width="2.25" height="40.31" fill="#62a63b"/>
<line x1="334.84" y1="470.51" x2="334.84" y2="476.91" stroke="#333" stroke-width="0.75"/>
<line x1="334.01" y1="476.91" x2="335.66" y2="476.91" stroke="#333" stroke-width="0.9"/>
<rect x="338.17" y="430.20" width="2.25" height="40.83" fill="#62a8e6"/>
<line x1="339.29" y1="471.03" x2="339.29" y2="476.22" stroke="#333" stroke-width="0.75"/>
<line x1="338.47" y1="476.22" x2="340.12" y2="476.22" stroke="#333" stroke-width="0.9"/>
<rect x="341.12" y="430.20" width="2.25" height="36.16" fill="#62a63b"/>
<line x1="342.25" y1="466.36" x2="342.25" y2="471.37" stroke="#333" stroke-width="0.75"/>
<line x1="341.42" y1="471.37" x2="343.07" y2="471.37" stroke="#333" stroke-width="0.9"/>
<rect x="345.58" y="430.20" width="2.25" height="36.16" fill="#62a8e6"/>
<line x1="346.70" y1="466.36" x2="346.70" y2="473.45" stroke="#333" stroke-width="0.75"/>
<line x1="345.88" y1="473.45" x2="347.53" y2="473.45" stroke="#333" stroke-width="0.9"/>
<rect x="348.53" y="430.20" width="2.25" height="39.62" fill="#62a63b"/>
<line x1="349.66" y1="469.82" x2="349.66" y2="477.08" stroke="#333" stroke-width="0.75"/>
<line x1="348.83" y1="477.08" x2="350.48" y2="477.08" stroke="#333" stroke-width="0.9"/>
<rect x="352.99" y="430.20" width="2.25" height="42.73" fill="#62a8e6"/>
<line x1="354.12" y1="472.93" x2="354.12" y2="480.89" stroke="#333" stroke-width="0.75"/>
<line x1="353.29" y1="480.89" x2="354.94" y2="480.89" stroke="#333" stroke-width="0.9"/>
<rect x="355.94" y="430.20" width="2.25" height="32.52" fill="#62a63b"/>
<line x1="357.07" y1="462.72" x2="357.07" y2="471.03" stroke="#333" stroke-width="0.75"/>
<line x1="356.24" y1="471.03" x2="357.89" y2="471.03" stroke="#333" stroke-width="0.9"/>
<line x1="211.20" y1="430.20" x2="211.20" y2="551.90" stroke="#111" stroke-width="1.1"/>
<line x1="210.70" y1="551.30" x2="358.70" y2="551.30" stroke="#111" stroke-width="1.1"/>
<line x1="210.70" y1="430.20" x2="358.70" y2="430.20" stroke="#111" stroke-width="1.1"/>
<line x1="208.50" y1="430.20" x2="211.20" y2="430.20" stroke="#111" stroke-width="0.9"/>
<text x="205.10" y="432.45" font-size="6.4" stroke="#333" stroke-width="0.12" text-anchor="end" fill="#333">0</text>
<line x1="208.50" y1="447.50" x2="211.20" y2="447.50" stroke="#111" stroke-width="0.9"/>
<text x="205.10" y="449.75" font-size="6.4" stroke="#333" stroke-width="0.12" text-anchor="end" fill="#333">-1</text>
<line x1="208.50" y1="464.80" x2="211.20" y2="464.80" stroke="#111" stroke-width="0.9"/>
<text x="205.10" y="467.05" font-size="6.4" stroke="#333" stroke-width="0.12" text-anchor="end" fill="#333">-2</text>
<line x1="208.50" y1="482.10" x2="211.20" y2="482.10" stroke="#111" stroke-width="0.9"/>
<text x="205.10" y="484.35" font-size="6.4" stroke="#333" stroke-width="0.12" text-anchor="end" fill="#333">-3</text>
<line x1="208.50" y1="499.40" x2="211.20" y2="499.40" stroke="#111" stroke-width="0.9"/>
<text x="205.10" y="501.65" font-size="6.4" stroke="#333" stroke-width="0.12" text-anchor="end" fill="#333">-4</text>
<line x1="208.50" y1="516.70" x2="211.20" y2="516.70" stroke="#111" stroke-width="0.9"/>
<text x="205.10" y="518.95" font-size="6.4" stroke="#333" stroke-width="0.12" text-anchor="end" fill="#333">-5</text>
<line x1="208.50" y1="534.00" x2="211.20" y2="534.00" stroke="#111" stroke-width="0.9"/>
<text x="205.10" y="536.25" font-size="6.4" stroke="#333" stroke-width="0.12" text-anchor="end" fill="#333">-6</text>
<line x1="208.50" y1="551.30" x2="211.20" y2="551.30" stroke="#111" stroke-width="0.9"/>
<text x="205.10" y="553.55" font-size="6.4" stroke="#333" stroke-width="0.12" text-anchor="end" fill="#333">-7</text>
<line x1="214.80" y1="551.30" x2="214.80" y2="554.30" stroke="#111" stroke-width="0.9"/>
<line x1="222.21" y1="551.30" x2="222.21" y2="554.30" stroke="#111" stroke-width="0.9"/>
<line x1="229.62" y1="551.30" x2="229.62" y2="554.30" stroke="#111" stroke-width="0.9"/>
<line x1="237.03" y1="551.30" x2="237.03" y2="554.30" stroke="#111" stroke-width="0.9"/>
<line x1="244.44" y1="551.30" x2="244.44" y2="554.30" stroke="#111" stroke-width="0.9"/>
<line x1="251.85" y1="551.30" x2="251.85" y2="554.30" stroke="#111" stroke-width="0.9"/>
<line x1="259.26" y1="551.30" x2="259.26" y2="554.30" stroke="#111" stroke-width="0.9"/>
<line x1="266.67" y1="551.30" x2="266.67" y2="554.30" stroke="#111" stroke-width="0.9"/>
<line x1="274.08" y1="551.30" x2="274.08" y2="554.30" stroke="#111" stroke-width="0.9"/>
<line x1="281.49" y1="551.30" x2="281.49" y2="554.30" stroke="#111" stroke-width="0.9"/>
<line x1="288.90" y1="551.30" x2="288.90" y2="554.30" stroke="#111" stroke-width="0.9"/>
<line x1="296.31" y1="551.30" x2="296.31" y2="554.30" stroke="#111" stroke-width="0.9"/>
<line x1="303.72" y1="551.30" x2="303.72" y2="554.30" stroke="#111" stroke-width="0.9"/>
<line x1="311.13" y1="551.30" x2="311.13" y2="554.30" stroke="#111" stroke-width="0.9"/>
<line x1="318.54" y1="551.30" x2="318.54" y2="554.30" stroke="#111" stroke-width="0.9"/>
<line x1="325.95" y1="551.30" x2="325.95" y2="554.30" stroke="#111" stroke-width="0.9"/>
<line x1="333.36" y1="551.30" x2="333.36" y2="554.30" stroke="#111" stroke-width="0.9"/>
<line x1="340.77" y1="551.30" x2="340.77" y2="554.30" stroke="#111" stroke-width="0.9"/>
<line x1="348.18" y1="551.30" x2="348.18" y2="554.30" stroke="#111" stroke-width="0.9"/>
<line x1="355.59" y1="551.30" x2="355.59" y2="554.30" stroke="#111" stroke-width="0.9"/>
<text x="216.40" y="562.80" font-size="6.2" stroke="#c8375f" stroke-width="0.15" text-anchor="end" fill="#c8375f" transform="rotate(-45 216.40 562.80)">IL12B</text>
<text x="223.81" y="562.80" font-size="6.2" stroke="#c8375f" stroke-width="0.15" text-anchor="end" fill="#c8375f" transform="rotate(-45 223.81 562.80)">CCL3L3/L1</text>
<text x="231.22" y="562.80" font-size="6.2" stroke="#c8375f" stroke-width="0.15" text-anchor="end" fill="#c8375f" transform="rotate(-45 231.22 562.80)">CCL8</text>
<text x="238.63" y="562.80" font-size="6.2" stroke="#222" stroke-width="0.15" text-anchor="end" fill="#222" transform="rotate(-45 238.63 562.80)">TIFAB</text>
<text x="246.04" y="562.80" font-size="6.2" stroke="#c8375f" stroke-width="0.15" text-anchor="end" fill="#c8375f" transform="rotate(-45 246.04 562.80)">CCL4L2</text>
<text x="253.45" y="562.80" font-size="6.2" stroke="#c8375f" stroke-width="0.15" text-anchor="end" fill="#c8375f" transform="rotate(-45 253.45 562.80)">CCL1</text>
<text x="260.86" y="562.80" font-size="6.2" stroke="#c8375f" stroke-width="0.15" text-anchor="end" fill="#c8375f" transform="rotate(-45 260.86 562.80)">CCL2</text>
<text x="268.27" y="562.80" font-size="6.2" stroke="#c8375f" stroke-width="0.15" text-anchor="end" fill="#c8375f" transform="rotate(-45 268.27 562.80)">CCL15</text>
<text x="275.68" y="562.80" font-size="6.2" stroke="#c8375f" stroke-width="0.15" text-anchor="end" fill="#c8375f" transform="rotate(-45 275.68 562.80)">CSF2</text>
<text x="283.09" y="562.80" font-size="6.2" stroke="#c8375f" stroke-width="0.15" text-anchor="end" fill="#c8375f" transform="rotate(-45 283.09 562.80)">TNF</text>
<text x="290.50" y="562.80" font-size="6.2" stroke="#c8375f" stroke-width="0.15" text-anchor="end" fill="#c8375f" transform="rotate(-45 290.50 562.80)">P2RX7</text>
<text x="297.91" y="562.80" font-size="6.2" stroke="#222" stroke-width="0.15" text-anchor="end" fill="#222" transform="rotate(-45 297.91 562.80)">F3</text>
<text x="305.32" y="562.80" font-size="6.2" stroke="#c8375f" stroke-width="0.15" text-anchor="end" fill="#c8375f" transform="rotate(-45 305.32 562.80)">CMKLR1</text>
<text x="312.73" y="562.80" font-size="6.2" stroke="#222" stroke-width="0.15" text-anchor="end" fill="#222" transform="rotate(-45 312.73 562.80)">UNC13A</text>
<text x="320.14" y="562.80" font-size="6.2" stroke="#222" stroke-width="0.15" text-anchor="end" fill="#222" transform="rotate(-45 320.14 562.80)">CISH</text>
<text x="327.55" y="562.80" font-size="6.2" stroke="#c8375f" stroke-width="0.15" text-anchor="end" fill="#c8375f" transform="rotate(-45 327.55 562.80)">IL27</text>
<text x="334.96" y="562.80" font-size="6.2" stroke="#222" stroke-width="0.15" text-anchor="end" fill="#222" transform="rotate(-45 334.96 562.80)">SERPINE1</text>
<text x="342.37" y="562.80" font-size="6.2" stroke="#222" stroke-width="0.15" text-anchor="end" fill="#222" transform="rotate(-45 342.37 562.80)">OCSTAMP</text>
<text x="349.78" y="562.80" font-size="6.2" stroke="#222" stroke-width="0.15" text-anchor="end" fill="#222" transform="rotate(-45 349.78 562.80)">KCNA3</text>
<text x="357.19" y="562.80" font-size="6.2" stroke="#c8375f" stroke-width="0.15" text-anchor="end" fill="#c8375f" transform="rotate(-45 357.19 562.80)">IL1A</text>
<text x="194.5" y="520.6" font-size="7.2" fill="#222" stroke="#222" stroke-width="0.3" textLength="58.7" lengthAdjust="spacingAndGlyphs" transform="rotate(-90 194.5 520.6)">Log<tspan font-size="5" dy="1.5">2</tspan><tspan dy="-1.5">(fold change/LPS)</tspan></text>
<rect x="142.70" y="431.10" width="5.70" height="5.30" fill="#62a8e6"/>
<rect x="142.70" y="439.90" width="5.70" height="5.30" fill="#62a63b"/>
<text x="151.50" y="435.80" font-size="5.8" fill="#222" stroke="#222" stroke-width="0.1" textLength="26.3" lengthAdjust="spacingAndGlyphs">LPS+PGE<tspan font-size="4" dy="1.3">2</tspan></text>
<text x="151.50" y="444.10" font-size="5.8" stroke="#222" stroke-width="0.1" fill="#222" textLength="22.40" lengthAdjust="spacingAndGlyphs">LPS+Ado</text>
<rect x="322.90" y="520.10" width="5.70" height="5.30" fill="#62a8e6"/>
<rect x="322.90" y="528.90" width="5.70" height="5.30" fill="#62a63b"/>
<text x="331.70" y="524.80" font-size="5.8" fill="#222" stroke="#222" stroke-width="0.1" textLength="26.3" lengthAdjust="spacingAndGlyphs">LPS+PGE<tspan font-size="4" dy="1.3">2</tspan></text>
<text x="331.70" y="533.10" font-size="5.8" stroke="#222" stroke-width="0.1" fill="#222" textLength="22.40" lengthAdjust="spacingAndGlyphs">LPS+Ado</text>
<text x="428.70" y="429.50" font-size="8.4" stroke="#111" stroke-width="0.15" fill="#111" textLength="66.70" lengthAdjust="spacingAndGlyphs">Pathways Enriched</text>
<line x1="412.70" y1="443.30" x2="412.70" y2="551.80" stroke="#111" stroke-width="1.1"/>
<line x1="412.20" y1="551.20" x2="511.50" y2="551.20" stroke="#111" stroke-width="1.1"/>
<line x1="410.00" y1="446.00" x2="412.70" y2="446.00" stroke="#111" stroke-width="0.9"/>
<text x="406.60" y="444.30" font-size="6.2" stroke="#222" stroke-width="0.08" text-anchor="end" fill="#222" textLength="22.06" lengthAdjust="spacingAndGlyphs">cytokine</text>
<text x="406.60" y="451.60" font-size="6.2" stroke="#222" stroke-width="0.08" text-anchor="end" fill="#222" textLength="18.38" lengthAdjust="spacingAndGlyphs">activity</text>
<line x1="410.00" y1="471.35" x2="412.70" y2="471.35" stroke="#111" stroke-width="0.9"/>
<text x="406.60" y="469.65" font-size="6.2" stroke="#222" stroke-width="0.08" text-anchor="end" fill="#222" textLength="29.08" lengthAdjust="spacingAndGlyphs">chemokine</text>
<text x="406.60" y="476.95" font-size="6.2" stroke="#222" stroke-width="0.08" text-anchor="end" fill="#222" textLength="18.38" lengthAdjust="spacingAndGlyphs">activity</text>
<line x1="410.00" y1="496.70" x2="412.70" y2="496.70" stroke="#111" stroke-width="0.9"/>
<text x="406.60" y="495.00" font-size="6.2" stroke="#222" stroke-width="0.08" text-anchor="end" fill="#222" textLength="34.76" lengthAdjust="spacingAndGlyphs">growth factor</text>
<text x="406.60" y="502.30" font-size="6.2" stroke="#222" stroke-width="0.08" text-anchor="end" fill="#222" textLength="18.38" lengthAdjust="spacingAndGlyphs">activity</text>
<line x1="410.00" y1="522.05" x2="412.70" y2="522.05" stroke="#111" stroke-width="0.9"/>
<text x="406.60" y="520.35" font-size="6.2" stroke="#222" stroke-width="0.08" text-anchor="end" fill="#222" textLength="22.06" lengthAdjust="spacingAndGlyphs">receptor</text>
<text x="406.60" y="527.65" font-size="6.2" stroke="#222" stroke-width="0.08" text-anchor="end" fill="#222" textLength="19.39" lengthAdjust="spacingAndGlyphs">binding</text>
<line x1="410.00" y1="547.40" x2="412.70" y2="547.40" stroke="#111" stroke-width="0.9"/>
<text x="406.60" y="545.70" font-size="6.2" stroke="#222" stroke-width="0.08" text-anchor="end" fill="#222" textLength="20.06" lengthAdjust="spacingAndGlyphs">heparin</text>
<text x="406.60" y="553.00" font-size="6.2" stroke="#222" stroke-width="0.08" text-anchor="end" fill="#222" textLength="19.39" lengthAdjust="spacingAndGlyphs">binding</text>
<line x1="416.20" y1="551.20" x2="416.20" y2="553.90" stroke="#111" stroke-width="0.9"/>
<text x="416.20" y="562.60" font-size="5.9" stroke="#333" stroke-width="0.22" text-anchor="middle" fill="#333">0.00</text>
<line x1="439.40" y1="551.20" x2="439.40" y2="553.90" stroke="#111" stroke-width="0.9"/>
<text x="439.40" y="562.60" font-size="5.9" stroke="#333" stroke-width="0.22" text-anchor="middle" fill="#333">0.05</text>
<line x1="462.60" y1="551.20" x2="462.60" y2="553.90" stroke="#111" stroke-width="0.9"/>
<text x="462.60" y="562.60" font-size="5.9" stroke="#333" stroke-width="0.22" text-anchor="middle" fill="#333">0.10</text>
<line x1="485.80" y1="551.20" x2="485.80" y2="553.90" stroke="#111" stroke-width="0.9"/>
<text x="485.80" y="562.60" font-size="5.9" stroke="#333" stroke-width="0.22" text-anchor="middle" fill="#333">0.15</text>
<line x1="509.00" y1="551.20" x2="509.00" y2="553.90" stroke="#111" stroke-width="0.9"/>
<text x="509.00" y="562.60" font-size="5.9" stroke="#333" stroke-width="0.22" text-anchor="middle" fill="#333">0.20</text>
<text x="448.00" y="574.30" font-size="7.6" stroke="#222" stroke-width="0.4" fill="#222" textLength="27.80" lengthAdjust="spacingAndGlyphs">Rich factor</text>
<circle cx="462.4" cy="445.9" r="2.9" fill="#5b9ddb"/>
<circle cx="504.2" cy="471.3" r="1.9" fill="#5b9ddb"/>
<circle cx="454.3" cy="496.6" r="2.35" fill="#5b9ddb"/>
<circle cx="436.5" cy="522.0" r="2.5" fill="#1c3c78"/>
<circle cx="446.9" cy="547.4" r="1.7" fill="#1c3c78"/>
<rect x="0.5" y="0.5" width="519" height="590" fill="none" stroke="#000" stroke-width="1"/>
</svg></body></html>
